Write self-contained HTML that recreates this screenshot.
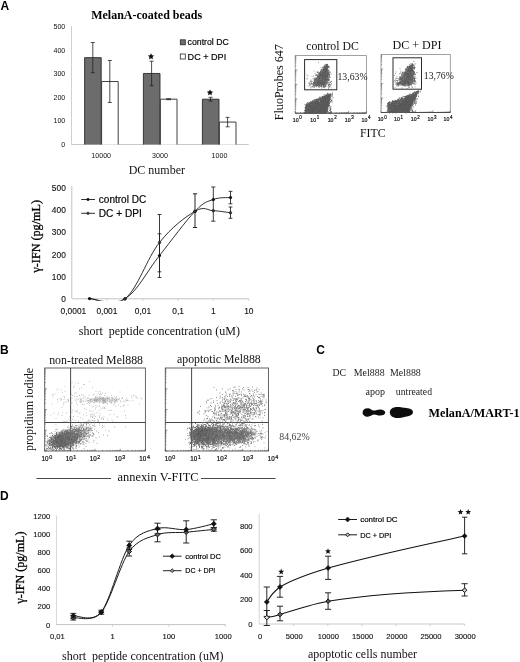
<!DOCTYPE html>
<html><head><meta charset="utf-8"><title>figure</title>
<style>
html,body{margin:0;padding:0;background:#fff;}
body{width:520px;height:662px;overflow:hidden;font-family:"Liberation Sans",sans-serif;}
svg{display:block;will-change:transform;filter:grayscale(1);}
</style></head><body>
<svg width="520" height="662" viewBox="0 0 520 662">
<rect width="520" height="662" fill="#fff"/>
<text x="0.6" y="10.4" font-family="Liberation Sans" font-weight="bold" font-size="12" fill="#000">A</text>
<text x="0.0" y="354" font-family="Liberation Sans" font-weight="bold" font-size="12" fill="#000">B</text>
<text x="316.3" y="354" font-family="Liberation Sans" font-weight="bold" font-size="12" fill="#000">C</text>
<text x="0.0" y="499.9" font-family="Liberation Sans" font-weight="bold" font-size="12" fill="#000">D</text>
<text x="91.20" y="19.49" font-weight="bold" textLength="111" lengthAdjust="spacingAndGlyphs" font-family="Liberation Serif" font-size="13" fill="#000">MelanA-coated beads</text>
<line x1="71.50" y1="26.00" x2="71.50" y2="144.50" stroke="#d0d0d0" stroke-width="1"/>
<line x1="71.50" y1="144.50" x2="248.70" y2="144.50" stroke="#c8c8c8" stroke-width="1"/>
<text x="65.30" y="146.94" text-anchor="end" font-family="Liberation Sans" font-size="7.1" fill="#111">0</text>
<text x="65.30" y="123.34" text-anchor="end" font-family="Liberation Sans" font-size="7.1" fill="#111">100</text>
<text x="65.30" y="99.74" text-anchor="end" font-family="Liberation Sans" font-size="7.1" fill="#111">200</text>
<text x="65.30" y="76.14" text-anchor="end" font-family="Liberation Sans" font-size="7.1" fill="#111">300</text>
<text x="65.30" y="52.54" text-anchor="end" font-family="Liberation Sans" font-size="7.1" fill="#111">400</text>
<text x="65.30" y="28.94" text-anchor="end" font-family="Liberation Sans" font-size="7.1" fill="#111">500</text>
<rect x="84.60" y="57.65" width="16.60" height="86.85" fill="#6c6c6c" stroke="none" stroke-width="0"/>
<path d="M84.60 144.50V57.65H101.20V144.50" fill="none" stroke="#2b2b2b" stroke-width="0.9"/>
<line x1="92.80" y1="42.55" x2="92.80" y2="72.76" stroke="#222" stroke-width="0.8"/>
<line x1="90.80" y1="42.55" x2="94.80" y2="42.55" stroke="#222" stroke-width="0.8"/>
<line x1="90.80" y1="72.76" x2="94.80" y2="72.76" stroke="#222" stroke-width="0.8"/>
<rect x="101.60" y="81.49" width="16.60" height="63.01" fill="#fff" stroke="none" stroke-width="0"/>
<path d="M101.60 144.50V81.49H118.20V144.50" fill="none" stroke="#2b2b2b" stroke-width="0.9"/>
<line x1="109.80" y1="60.48" x2="109.80" y2="102.49" stroke="#222" stroke-width="0.8"/>
<line x1="107.80" y1="60.48" x2="111.80" y2="60.48" stroke="#222" stroke-width="0.8"/>
<line x1="107.80" y1="102.49" x2="111.80" y2="102.49" stroke="#222" stroke-width="0.8"/>
<rect x="143.40" y="73.46" width="16.60" height="71.04" fill="#6c6c6c" stroke="none" stroke-width="0"/>
<path d="M143.40 144.50V73.46H160.00V144.50" fill="none" stroke="#2b2b2b" stroke-width="0.9"/>
<line x1="151.60" y1="61.19" x2="151.60" y2="85.74" stroke="#222" stroke-width="0.8"/>
<line x1="149.60" y1="61.19" x2="153.60" y2="61.19" stroke="#222" stroke-width="0.8"/>
<line x1="149.60" y1="85.74" x2="153.60" y2="85.74" stroke="#222" stroke-width="0.8"/>
<rect x="160.40" y="99.19" width="16.60" height="45.31" fill="#fff" stroke="none" stroke-width="0"/>
<path d="M160.40 144.50V99.19H177.00V144.50" fill="none" stroke="#2b2b2b" stroke-width="0.9"/>
<line x1="168.60" y1="98.72" x2="168.60" y2="99.66" stroke="#222" stroke-width="0.8"/>
<line x1="166.20" y1="98.72" x2="171.00" y2="98.72" stroke="#222" stroke-width="0.8"/>
<line x1="166.20" y1="99.66" x2="171.00" y2="99.66" stroke="#222" stroke-width="0.8"/>
<rect x="202.40" y="99.19" width="16.60" height="45.31" fill="#6c6c6c" stroke="none" stroke-width="0"/>
<path d="M202.40 144.50V99.19H219.00V144.50" fill="none" stroke="#2b2b2b" stroke-width="0.9"/>
<line x1="210.60" y1="97.30" x2="210.60" y2="101.08" stroke="#222" stroke-width="0.8"/>
<line x1="208.60" y1="97.30" x2="212.60" y2="97.30" stroke="#222" stroke-width="0.8"/>
<line x1="208.60" y1="101.08" x2="212.60" y2="101.08" stroke="#222" stroke-width="0.8"/>
<rect x="219.40" y="122.08" width="16.60" height="22.42" fill="#fff" stroke="none" stroke-width="0"/>
<path d="M219.40 144.50V122.08H236.00V144.50" fill="none" stroke="#2b2b2b" stroke-width="0.9"/>
<line x1="227.60" y1="117.36" x2="227.60" y2="126.80" stroke="#222" stroke-width="0.8"/>
<line x1="225.60" y1="117.36" x2="229.60" y2="117.36" stroke="#222" stroke-width="0.8"/>
<line x1="225.60" y1="126.80" x2="229.60" y2="126.80" stroke="#222" stroke-width="0.8"/>
<text x="101.20" y="157.74" text-anchor="middle" font-family="Liberation Sans" font-size="7.1" fill="#111">10000</text>
<text x="160.00" y="157.74" text-anchor="middle" font-family="Liberation Sans" font-size="7.1" fill="#111">3000</text>
<text x="219.50" y="157.74" text-anchor="middle" font-family="Liberation Sans" font-size="7.1" fill="#111">1000</text>
<polygon points="151.00,53.30 151.97,55.27 154.14,55.58 152.57,57.11 152.94,59.27 151.00,58.25 149.06,59.27 149.43,57.11 147.86,55.58 150.03,55.27" fill="#111"/>
<polygon points="210.00,89.40 210.97,91.37 213.14,91.68 211.57,93.21 211.94,95.37 210.00,94.35 208.06,95.37 208.43,93.21 206.86,91.68 209.03,91.37" fill="#111"/>
<rect x="180.30" y="39.80" width="5.00" height="5.00" fill="#6e6e6e" stroke="#2b2b2b" stroke-width="0.8"/>
<rect x="180.30" y="54.00" width="5.00" height="5.00" fill="#fff" stroke="#2b2b2b" stroke-width="0.8"/>
<text x="187.60" y="45.40" textLength="41.2" lengthAdjust="spacingAndGlyphs" font-family="Liberation Sans" font-size="9.5" fill="#000" stroke="#000" stroke-width="0.18">control DC</text>
<text x="187.60" y="59.90" textLength="38.6" lengthAdjust="spacingAndGlyphs" font-family="Liberation Sans" font-size="9.5" fill="#000" stroke="#000" stroke-width="0.18">DC + DPI</text>
<text x="128.70" y="174.49" textLength="56.3" lengthAdjust="spacingAndGlyphs" font-family="Liberation Serif" font-size="13" fill="#111">DC number</text>
<rect x="295.20" y="55.60" width="71.20" height="57.60" fill="none" stroke="#8a8a8a" stroke-width="0.8"/>
<line x1="295.20" y1="113.20" x2="366.40" y2="113.20" stroke="#444" stroke-width="0.9"/>
<line x1="295.20" y1="113.20" x2="295.20" y2="111.00" stroke="#444" stroke-width="0.5"/>
<line x1="300.56" y1="113.20" x2="300.56" y2="112.10" stroke="#444" stroke-width="0.5"/>
<line x1="303.69" y1="113.20" x2="303.69" y2="112.10" stroke="#444" stroke-width="0.5"/>
<line x1="305.92" y1="113.20" x2="305.92" y2="112.10" stroke="#444" stroke-width="0.5"/>
<line x1="307.64" y1="113.20" x2="307.64" y2="112.10" stroke="#444" stroke-width="0.5"/>
<line x1="309.05" y1="113.20" x2="309.05" y2="112.10" stroke="#444" stroke-width="0.5"/>
<line x1="310.24" y1="113.20" x2="310.24" y2="112.10" stroke="#444" stroke-width="0.5"/>
<line x1="311.28" y1="113.20" x2="311.28" y2="112.10" stroke="#444" stroke-width="0.5"/>
<line x1="312.19" y1="113.20" x2="312.19" y2="112.10" stroke="#444" stroke-width="0.5"/>
<line x1="313.00" y1="113.20" x2="313.00" y2="111.00" stroke="#444" stroke-width="0.5"/>
<line x1="318.36" y1="113.20" x2="318.36" y2="112.10" stroke="#444" stroke-width="0.5"/>
<line x1="321.49" y1="113.20" x2="321.49" y2="112.10" stroke="#444" stroke-width="0.5"/>
<line x1="323.72" y1="113.20" x2="323.72" y2="112.10" stroke="#444" stroke-width="0.5"/>
<line x1="325.44" y1="113.20" x2="325.44" y2="112.10" stroke="#444" stroke-width="0.5"/>
<line x1="326.85" y1="113.20" x2="326.85" y2="112.10" stroke="#444" stroke-width="0.5"/>
<line x1="328.04" y1="113.20" x2="328.04" y2="112.10" stroke="#444" stroke-width="0.5"/>
<line x1="329.08" y1="113.20" x2="329.08" y2="112.10" stroke="#444" stroke-width="0.5"/>
<line x1="329.99" y1="113.20" x2="329.99" y2="112.10" stroke="#444" stroke-width="0.5"/>
<line x1="330.80" y1="113.20" x2="330.80" y2="111.00" stroke="#444" stroke-width="0.5"/>
<line x1="336.16" y1="113.20" x2="336.16" y2="112.10" stroke="#444" stroke-width="0.5"/>
<line x1="339.29" y1="113.20" x2="339.29" y2="112.10" stroke="#444" stroke-width="0.5"/>
<line x1="341.52" y1="113.20" x2="341.52" y2="112.10" stroke="#444" stroke-width="0.5"/>
<line x1="343.24" y1="113.20" x2="343.24" y2="112.10" stroke="#444" stroke-width="0.5"/>
<line x1="344.65" y1="113.20" x2="344.65" y2="112.10" stroke="#444" stroke-width="0.5"/>
<line x1="345.84" y1="113.20" x2="345.84" y2="112.10" stroke="#444" stroke-width="0.5"/>
<line x1="346.88" y1="113.20" x2="346.88" y2="112.10" stroke="#444" stroke-width="0.5"/>
<line x1="347.79" y1="113.20" x2="347.79" y2="112.10" stroke="#444" stroke-width="0.5"/>
<line x1="348.60" y1="113.20" x2="348.60" y2="111.00" stroke="#444" stroke-width="0.5"/>
<line x1="353.96" y1="113.20" x2="353.96" y2="112.10" stroke="#444" stroke-width="0.5"/>
<line x1="357.09" y1="113.20" x2="357.09" y2="112.10" stroke="#444" stroke-width="0.5"/>
<line x1="359.32" y1="113.20" x2="359.32" y2="112.10" stroke="#444" stroke-width="0.5"/>
<line x1="361.04" y1="113.20" x2="361.04" y2="112.10" stroke="#444" stroke-width="0.5"/>
<line x1="362.45" y1="113.20" x2="362.45" y2="112.10" stroke="#444" stroke-width="0.5"/>
<line x1="363.64" y1="113.20" x2="363.64" y2="112.10" stroke="#444" stroke-width="0.5"/>
<line x1="364.68" y1="113.20" x2="364.68" y2="112.10" stroke="#444" stroke-width="0.5"/>
<line x1="365.59" y1="113.20" x2="365.59" y2="112.10" stroke="#444" stroke-width="0.5"/>
<line x1="366.40" y1="113.20" x2="366.40" y2="111.00" stroke="#444" stroke-width="0.5"/>
<line x1="295.20" y1="113.20" x2="297.40" y2="113.20" stroke="#444" stroke-width="0.5"/>
<line x1="295.20" y1="108.87" x2="296.30" y2="108.87" stroke="#444" stroke-width="0.5"/>
<line x1="295.20" y1="106.33" x2="296.30" y2="106.33" stroke="#444" stroke-width="0.5"/>
<line x1="295.20" y1="104.53" x2="296.30" y2="104.53" stroke="#444" stroke-width="0.5"/>
<line x1="295.20" y1="103.13" x2="296.30" y2="103.13" stroke="#444" stroke-width="0.5"/>
<line x1="295.20" y1="101.99" x2="296.30" y2="101.99" stroke="#444" stroke-width="0.5"/>
<line x1="295.20" y1="101.03" x2="296.30" y2="101.03" stroke="#444" stroke-width="0.5"/>
<line x1="295.20" y1="100.20" x2="296.30" y2="100.20" stroke="#444" stroke-width="0.5"/>
<line x1="295.20" y1="99.46" x2="296.30" y2="99.46" stroke="#444" stroke-width="0.5"/>
<line x1="295.20" y1="98.80" x2="297.40" y2="98.80" stroke="#444" stroke-width="0.5"/>
<line x1="295.20" y1="94.47" x2="296.30" y2="94.47" stroke="#444" stroke-width="0.5"/>
<line x1="295.20" y1="91.93" x2="296.30" y2="91.93" stroke="#444" stroke-width="0.5"/>
<line x1="295.20" y1="90.13" x2="296.30" y2="90.13" stroke="#444" stroke-width="0.5"/>
<line x1="295.20" y1="88.73" x2="296.30" y2="88.73" stroke="#444" stroke-width="0.5"/>
<line x1="295.20" y1="87.59" x2="296.30" y2="87.59" stroke="#444" stroke-width="0.5"/>
<line x1="295.20" y1="86.63" x2="296.30" y2="86.63" stroke="#444" stroke-width="0.5"/>
<line x1="295.20" y1="85.80" x2="296.30" y2="85.80" stroke="#444" stroke-width="0.5"/>
<line x1="295.20" y1="85.06" x2="296.30" y2="85.06" stroke="#444" stroke-width="0.5"/>
<line x1="295.20" y1="84.40" x2="297.40" y2="84.40" stroke="#444" stroke-width="0.5"/>
<line x1="295.20" y1="80.07" x2="296.30" y2="80.07" stroke="#444" stroke-width="0.5"/>
<line x1="295.20" y1="77.53" x2="296.30" y2="77.53" stroke="#444" stroke-width="0.5"/>
<line x1="295.20" y1="75.73" x2="296.30" y2="75.73" stroke="#444" stroke-width="0.5"/>
<line x1="295.20" y1="74.33" x2="296.30" y2="74.33" stroke="#444" stroke-width="0.5"/>
<line x1="295.20" y1="73.19" x2="296.30" y2="73.19" stroke="#444" stroke-width="0.5"/>
<line x1="295.20" y1="72.23" x2="296.30" y2="72.23" stroke="#444" stroke-width="0.5"/>
<line x1="295.20" y1="71.40" x2="296.30" y2="71.40" stroke="#444" stroke-width="0.5"/>
<line x1="295.20" y1="70.66" x2="296.30" y2="70.66" stroke="#444" stroke-width="0.5"/>
<line x1="295.20" y1="70.00" x2="297.40" y2="70.00" stroke="#444" stroke-width="0.5"/>
<line x1="295.20" y1="65.67" x2="296.30" y2="65.67" stroke="#444" stroke-width="0.5"/>
<line x1="295.20" y1="63.13" x2="296.30" y2="63.13" stroke="#444" stroke-width="0.5"/>
<line x1="295.20" y1="61.33" x2="296.30" y2="61.33" stroke="#444" stroke-width="0.5"/>
<line x1="295.20" y1="59.93" x2="296.30" y2="59.93" stroke="#444" stroke-width="0.5"/>
<line x1="295.20" y1="58.79" x2="296.30" y2="58.79" stroke="#444" stroke-width="0.5"/>
<line x1="295.20" y1="57.83" x2="296.30" y2="57.83" stroke="#444" stroke-width="0.5"/>
<line x1="295.20" y1="57.00" x2="296.30" y2="57.00" stroke="#444" stroke-width="0.5"/>
<line x1="295.20" y1="56.26" x2="296.30" y2="56.26" stroke="#444" stroke-width="0.5"/>
<path d="m332 92.95h1m-6 0.5h1m-0.5 0h1m1 0.5h1m-0.5 0h1m0.5 0h1m-6 0.5h1m0.5 0h1m-0.5 0h1m-0.5 0h1m-0.5 0h1m-7 0.5h1m0 0h1m0.5 0h1m-0.5 0h1m-0.5 0h1m0 0h1m-0.5 0h1m-0.5 0h1m0 0h1m-0.5 0h1m0 0h1m-0.5 0h1m-7.5 0.5h1m-0.5 0h1m-0.5 0h1m0 0h1m-0.5 0h1m-0.5 0h1m0 0h1m-0.5 0h1m-6.5 0.5h1m-0.5 0h1m-0.5 0h1m-0.5 0h1m-0.5 0h1m-0.5 0h1m-0.5 0h1m-0.5 0h1m-0.5 0h1m-0.5 0h1m-0.5 0h1m-0.5 0h1m-0.5 0h1m-9.5 0.5h1m-0.5 0h1m0 0h1m-0.5 0h1m-0.5 0h1m-0.5 0h1m-0.5 0h1m-0.5 0h1m-0.5 0h1m-0.5 0h1m-0.5 0h1m-0.5 0h1m-0.5 0h1m-0.5 0h1m1.5 0h1m-13 0.5h1m1 0h1m-0.5 0h1m0 0h1m-0.5 0h1m-0.5 0h1m0 0h1m0 0h1m-0.5 0h1m0 0h1m-0.5 0h1m-0.5 0h1m-0.5 0h1m-0.5 0h1m-0.5 0h1m-9.5 0.5h1m-0.5 0h1m-0.5 0h1m-0.5 0h1m-0.5 0h1m-0.5 0h1m0 0h1m-0.5 0h1m-0.5 0h1m-0.5 0h1m-0.5 0h1m-0.5 0h1m-0.5 0h1m-0.5 0h1m-0.5 0h1m-0.5 0h1m-12 0.5h1m-0.5 0h1m0 0h1m-0.5 0h1m0 0h1m-0.5 0h1m-0.5 0h1m0 0h1m-0.5 0h1m-0.5 0h1m-0.5 0h1m-0.5 0h1m-0.5 0h1m-0.5 0h1m-0.5 0h1m-0.5 0h1m-0.5 0h1m-0.5 0h1m-0.5 0h1m-0.5 0h1m2 0h1m-14 0.5h1m-0.5 0h1m0 0h1m-0.5 0h1m-0.5 0h1m-0.5 0h1m0 0h1m-0.5 0h1m-0.5 0h1m-0.5 0h1m0 0h1m-0.5 0h1m-0.5 0h1m-0.5 0h1m-0.5 0h1m-0.5 0h1m0 0h1m-14 0.5h1m0.5 0h1m-0.5 0h1m-0.5 0h1m-0.5 0h1m-0.5 0h1m1 0h1m-0.5 0h1m-0.5 0h1m-0.5 0h1m-0.5 0h1m-0.5 0h1m-0.5 0h1m-0.5 0h1m-0.5 0h1m-0.5 0h1m-0.5 0h1m0 0h1m-0.5 0h1m-0.5 0h1m-0.5 0h1m0 0h1m-17 0.5h1m0.5 0h1m-0.5 0h1m-0.5 0h1m-0.5 0h1m0 0h1m0 0h1m-0.5 0h1m0 0h1m0 0h1m-0.5 0h1m-0.5 0h1m-0.5 0h1m-0.5 0h1m-0.5 0h1m-0.5 0h1m0.5 0h1m-0.5 0h1m-0.5 0h1m0 0h1m-0.5 0h1m0 0h1m-17.5 0.5h1m0.5 0h1m-0.5 0h1m-0.5 0h1m-0.5 0h1m-0.5 0h1m-0.5 0h1m-0.5 0h1m-0.5 0h1m-0.5 0h1m0 0h1m-0.5 0h1m0 0h1m0 0h1m-0.5 0h1m-0.5 0h1m0 0h1m-0.5 0h1m-0.5 0h1m0 0h1m0 0h1m-0.5 0h1m-0.5 0h1m-0.5 0h1m-16.5 0.5h1m0 0h1m-0.5 0h1m-0.5 0h1m-0.5 0h1m-0.5 0h1m0.5 0h1m0.5 0h1m-0.5 0h1m-0.5 0h1m-0.5 0h1m-0.5 0h1m-0.5 0h1m-0.5 0h1m-0.5 0h1m-0.5 0h1m-0.5 0h1m-0.5 0h1m-0.5 0h1m-0.5 0h1m-0.5 0h1m-0.5 0h1m-0.5 0h1m0 0h1m-0.5 0h1m-0.5 0h1m1 0h1m-0.5 0h1m-20.5 0.5h1m-0.5 0h1m1 0h1m0.5 0h1m-0.5 0h1m0.5 0h1m-0.5 0h1m1 0h1m-0.5 0h1m0 0h1m-0.5 0h1m-0.5 0h1m-0.5 0h1m-0.5 0h1m-0.5 0h1m-0.5 0h1m-0.5 0h1m-0.5 0h1m-0.5 0h1m-0.5 0h1m-0.5 0h1m-0.5 0h1m-0.5 0h1m-0.5 0h1m-0.5 0h1m-18.5 0.5h1m-0.5 0h1m0 0h1m-0.5 0h1m-0.5 0h1m0 0h1m-0.5 0h1m-0.5 0h1m-0.5 0h1m-0.5 0h1m-0.5 0h1m1 0h1m-0.5 0h1m-0.5 0h1m-0.5 0h1m-0.5 0h1m-0.5 0h1m-0.5 0h1m-0.5 0h1m-0.5 0h1m0 0h1m-0.5 0h1m-0.5 0h1m-0.5 0h1m-0.5 0h1m-0.5 0h1m-0.5 0h1m0.5 0h1m0 0h1m-21.5 0.5h1m-0.5 0h1m-0.5 0h1m-0.5 0h1m-0.5 0h1m-0.5 0h1m0 0h1m-0.5 0h1m0 0h1m-0.5 0h1m-0.5 0h1m-0.5 0h1m-0.5 0h1m-0.5 0h1m-0.5 0h1m-0.5 0h1m-0.5 0h1m0 0h1m-0.5 0h1m-0.5 0h1m-0.5 0h1m-0.5 0h1m-0.5 0h1m-0.5 0h1m-0.5 0h1m0 0h1m-0.5 0h1m0.5 0h1m-0.5 0h1m-0.5 0h1m-0.5 0h1m-0.5 0h1m2 0h1m-25 0.5h1m1 0h1m0 0h1m0 0h1m0 0h1m-0.5 0h1m-0.5 0h1m-0.5 0h1m-0.5 0h1m-0.5 0h1m-0.5 0h1m-0.5 0h1m-0.5 0h1m-0.5 0h1m0.5 0h1m-0.5 0h1m-0.5 0h1m-0.5 0h1m-0.5 0h1m-0.5 0h1m-0.5 0h1m-0.5 0h1m-0.5 0h1m-0.5 0h1m-0.5 0h1m-0.5 0h1m-0.5 0h1m-0.5 0h1m-0.5 0h1m-0.5 0h1m-0.5 0h1m-0.5 0h1m-0.5 0h1m-0.5 0h1m-0.5 0h1m0 0h1m-23.5 0.5h1m1 0h1m-0.5 0h1m-0.5 0h1m0 0h1m-0.5 0h1m-0.5 0h1m0 0h1m-0.5 0h1m-0.5 0h1m-0.5 0h1m-0.5 0h1m-0.5 0h1m-0.5 0h1m-0.5 0h1m-0.5 0h1m-0.5 0h1m-0.5 0h1m-0.5 0h1m-0.5 0h1m-0.5 0h1m-0.5 0h1m-0.5 0h1m-0.5 0h1m-0.5 0h1m-0.5 0h1m0 0h1m-0.5 0h1m-0.5 0h1m-0.5 0h1m-0.5 0h1m-0.5 0h1m-0.5 0h1m-0.5 0h1m-0.5 0h1m-0.5 0h1m-0.5 0h1m-0.5 0h1m-21.5 0.5h1m0 0h1m-0.5 0h1m-0.5 0h1m-0.5 0h1m-0.5 0h1m-0.5 0h1m-0.5 0h1m0 0h1m-0.5 0h1m-0.5 0h1m-0.5 0h1m-0.5 0h1m-0.5 0h1m-0.5 0h1m-0.5 0h1m-0.5 0h1m0 0h1m-0.5 0h1m-0.5 0h1m-0.5 0h1m0 0h1m-0.5 0h1m-0.5 0h1m-0.5 0h1m-0.5 0h1m0 0h1m-0.5 0h1m-0.5 0h1m-0.5 0h1m-0.5 0h1m-0.5 0h1m-0.5 0h1m-0.5 0h1m-0.5 0h1m0 0h1m-0.5 0h1m-24 0.5h1m-0.5 0h1m0 0h1m0 0h1m-0.5 0h1m-0.5 0h1m-0.5 0h1m-0.5 0h1m-0.5 0h1m-0.5 0h1m-0.5 0h1m-0.5 0h1m-0.5 0h1m-0.5 0h1m0.5 0h1m-0.5 0h1m-0.5 0h1m-0.5 0h1m-0.5 0h1m-0.5 0h1m-0.5 0h1m-0.5 0h1m-0.5 0h1m-0.5 0h1m0 0h1m0 0h1m-0.5 0h1m-0.5 0h1m-0.5 0h1m-0.5 0h1m-0.5 0h1m1 0h1m-0.5 0h1m-0.5 0h1m-0.5 0h1m-0.5 0h1m-0.5 0h1m-25 0.5h1m0.5 0h1m-0.5 0h1m0 0h1m0 0h1m-0.5 0h1m-0.5 0h1m-0.5 0h1m0.5 0h1m-0.5 0h1m-0.5 0h1m-0.5 0h1m-0.5 0h1m0 0h1m-0.5 0h1m-0.5 0h1m-0.5 0h1m-0.5 0h1m-0.5 0h1m-0.5 0h1m-0.5 0h1m-0.5 0h1m-0.5 0h1m-0.5 0h1m-0.5 0h1m-0.5 0h1m-0.5 0h1m-0.5 0h1m0 0h1m-0.5 0h1m-0.5 0h1m-0.5 0h1m-0.5 0h1m-0.5 0h1m0 0h1m-0.5 0h1m-0.5 0h1m-0.5 0h1m-0.5 0h1m-0.5 0h1m-23.5 0.5h1m-0.5 0h1m-0.5 0h1m-0.5 0h1m-0.5 0h1m0 0h1m0 0h1m-0.5 0h1m-0.5 0h1m0 0h1m0 0h1m-0.5 0h1m-0.5 0h1m-0.5 0h1m-0.5 0h1m0 0h1m0 0h1m-0.5 0h1m-0.5 0h1m-0.5 0h1m-0.5 0h1m-0.5 0h1m-0.5 0h1m-0.5 0h1m-0.5 0h1m-0.5 0h1m-0.5 0h1m-0.5 0h1m-0.5 0h1m-0.5 0h1m-0.5 0h1m-0.5 0h1m-0.5 0h1m-0.5 0h1m-0.5 0h1m0 0h1m-0.5 0h1m-0.5 0h1m-23 0.5h1m-0.5 0h1m-0.5 0h1m-0.5 0h1m-0.5 0h1m-0.5 0h1m-0.5 0h1m-0.5 0h1m-0.5 0h1m-0.5 0h1m0 0h1m0 0h1m-0.5 0h1m-0.5 0h1m0 0h1m-0.5 0h1m-0.5 0h1m-0.5 0h1m-0.5 0h1m-0.5 0h1m-0.5 0h1m-0.5 0h1m-0.5 0h1m-0.5 0h1m-0.5 0h1m-0.5 0h1m-0.5 0h1m-0.5 0h1m-0.5 0h1m-0.5 0h1m-0.5 0h1m-0.5 0h1m-0.5 0h1m-0.5 0h1m-0.5 0h1m-0.5 0h1m0 0h1m-0.5 0h1m-0.5 0h1m-0.5 0h1m-0.5 0h1m0 0h1m-25 0.5h1m-0.5 0h1m-0.5 0h1m-0.5 0h1m-0.5 0h1m-0.5 0h1m-0.5 0h1m-0.5 0h1m-0.5 0h1m-0.5 0h1m-0.5 0h1m-0.5 0h1m-0.5 0h1m-0.5 0h1m-0.5 0h1m-0.5 0h1m-0.5 0h1m-0.5 0h1m-0.5 0h1m-0.5 0h1m0 0h1m-0.5 0h1m-0.5 0h1m-0.5 0h1m-0.5 0h1m-0.5 0h1m0 0h1m-0.5 0h1m-0.5 0h1m-0.5 0h1m0 0h1m-0.5 0h1m-0.5 0h1m-0.5 0h1m-0.5 0h1m-0.5 0h1m-0.5 0h1m-0.5 0h1m-0.5 0h1m-0.5 0h1m-0.5 0h1m-0.5 0h1m-0.5 0h1m-0.5 0h1m-0.5 0h1m-0.5 0h1m-24.5 0.5h1m-0.5 0h1m-0.5 0h1m-0.5 0h1m-0.5 0h1m-0.5 0h1m-0.5 0h1m-0.5 0h1m-0.5 0h1m-0.5 0h1m-0.5 0h1m-0.5 0h1m-0.5 0h1m-0.5 0h1m-0.5 0h1m-0.5 0h1m-0.5 0h1m-0.5 0h1m0 0h1m-0.5 0h1m-0.5 0h1m-0.5 0h1m0 0h1m-0.5 0h1m-0.5 0h1m-0.5 0h1m0 0h1m-0.5 0h1m-0.5 0h1m-0.5 0h1m-0.5 0h1m-0.5 0h1m0 0h1m-0.5 0h1m-0.5 0h1m-0.5 0h1m-0.5 0h1m-0.5 0h1m-0.5 0h1m-0.5 0h1m-0.5 0h1m2 0h1m-25.5 0.5h1m-0.5 0h1m-0.5 0h1m0 0h1m0 0h1m-0.5 0h1m-0.5 0h1m-0.5 0h1m-0.5 0h1m-0.5 0h1m-0.5 0h1m-0.5 0h1m-0.5 0h1m-0.5 0h1m-0.5 0h1m-0.5 0h1m0 0h1m-0.5 0h1m-0.5 0h1m-0.5 0h1m-0.5 0h1m-0.5 0h1m-0.5 0h1m0 0h1m-0.5 0h1m-0.5 0h1m-0.5 0h1m-0.5 0h1m-0.5 0h1m-0.5 0h1m-0.5 0h1m-0.5 0h1m-0.5 0h1m-0.5 0h1m-0.5 0h1m-0.5 0h1m-0.5 0h1m-0.5 0h1m-0.5 0h1m-0.5 0h1m-23.5 0.5h1m-0.5 0h1m-0.5 0h1m1 0h1m0 0h1m-0.5 0h1m-0.5 0h1m-0.5 0h1m-0.5 0h1m-0.5 0h1m-0.5 0h1m-0.5 0h1m-0.5 0h1m-0.5 0h1m-0.5 0h1m-0.5 0h1m-0.5 0h1m-0.5 0h1m-0.5 0h1m-0.5 0h1m-0.5 0h1m-0.5 0h1m0 0h1m-0.5 0h1m-0.5 0h1m-0.5 0h1m-0.5 0h1m0 0h1m-0.5 0h1m-0.5 0h1m-0.5 0h1m-0.5 0h1m-0.5 0h1m-0.5 0h1m-0.5 0h1m-0.5 0h1m-0.5 0h1m-0.5 0h1m-23 0.5h1m-0.5 0h1m0.5 0h1m-0.5 0h1m0 0h1m-0.5 0h1m-0.5 0h1m-0.5 0h1m-0.5 0h1m0 0h1m-0.5 0h1m0 0h1m-0.5 0h1m-0.5 0h1m0 0h1m-0.5 0h1m-0.5 0h1m-0.5 0h1m-0.5 0h1m-0.5 0h1m-0.5 0h1m-0.5 0h1m-0.5 0h1m-0.5 0h1m-0.5 0h1m-0.5 0h1m-0.5 0h1m-0.5 0h1m-0.5 0h1m-0.5 0h1m-0.5 0h1m-0.5 0h1m-0.5 0h1m-0.5 0h1m-0.5 0h1m-0.5 0h1m-0.5 0h1m-0.5 0h1m-0.5 0h1m-0.5 0h1m-0.5 0h1m0.5 0h1m0 0h1m-25.5 0.5h1m-0.5 0h1m-0.5 0h1m-0.5 0h1m-0.5 0h1m-0.5 0h1m1 0h1m0 0h1m-0.5 0h1m-0.5 0h1m-0.5 0h1m-0.5 0h1m-0.5 0h1m-0.5 0h1m0 0h1m-0.5 0h1m-0.5 0h1m-0.5 0h1m0 0h1m-0.5 0h1m0 0h1m-0.5 0h1m-0.5 0h1m-0.5 0h1m-0.5 0h1m-0.5 0h1m-0.5 0h1m-0.5 0h1m-0.5 0h1m-0.5 0h1m-0.5 0h1m-0.5 0h1m-0.5 0h1m-0.5 0h1m-0.5 0h1m0 0h1m2 0h1m-26 0.5h1m-0.5 0h1m0 0h1m-0.5 0h1m-0.5 0h1m-0.5 0h1m-0.5 0h1m-0.5 0h1m-0.5 0h1m-0.5 0h1m-0.5 0h1m-0.5 0h1m-0.5 0h1m-0.5 0h1m0 0h1m-0.5 0h1m-0.5 0h1m-0.5 0h1m-0.5 0h1m-0.5 0h1m-0.5 0h1m-0.5 0h1m-0.5 0h1m-0.5 0h1m-0.5 0h1m-0.5 0h1m-0.5 0h1m-0.5 0h1m-0.5 0h1m-0.5 0h1m0 0h1m-0.5 0h1m-0.5 0h1m-0.5 0h1m-0.5 0h1m-0.5 0h1m-0.5 0h1m-0.5 0h1m-0.5 0h1m-0.5 0h1m-0.5 0h1m-0.5 0h1m2.5 0h1m-26.5 0.5h1m0 0h1m-0.5 0h1m-0.5 0h1m-0.5 0h1m-0.5 0h1m-0.5 0h1m-0.5 0h1m-0.5 0h1m-0.5 0h1m-0.5 0h1m-0.5 0h1m-0.5 0h1m-0.5 0h1m-0.5 0h1m-0.5 0h1m-0.5 0h1m-0.5 0h1m-0.5 0h1m-0.5 0h1m-0.5 0h1m-0.5 0h1m-0.5 0h1m0 0h1m-0.5 0h1m-0.5 0h1m-0.5 0h1m-0.5 0h1m-0.5 0h1m-0.5 0h1m-0.5 0h1m-0.5 0h1m-0.5 0h1m-0.5 0h1m-0.5 0h1m-0.5 0h1m-0.5 0h1m-0.5 0h1m-0.5 0h1m-0.5 0h1m0 0h1m0 0h1m1.5 0h1m-26 0.5h1m-0.5 0h1m-0.5 0h1m-0.5 0h1m-0.5 0h1m-0.5 0h1m0 0h1m-0.5 0h1m0 0h1m0 0h1m-0.5 0h1m-0.5 0h1m-0.5 0h1m-0.5 0h1m-0.5 0h1m-0.5 0h1m-0.5 0h1m-0.5 0h1m0 0h1m-0.5 0h1m-0.5 0h1m-0.5 0h1m-0.5 0h1m-0.5 0h1m-0.5 0h1m-0.5 0h1m-0.5 0h1m-0.5 0h1m-0.5 0h1m0 0h1m-0.5 0h1m-0.5 0h1m-0.5 0h1m-0.5 0h1m-0.5 0h1m-0.5 0h1m-0.5 0h1m-0.5 0h1m-0.5 0h1m-0.5 0h1m2 0h1m-27 0.5h1m0 0h1m-0.5 0h1m-0.5 0h1m-0.5 0h1m-0.5 0h1m-0.5 0h1m-0.5 0h1m-0.5 0h1m-0.5 0h1m-0.5 0h1m-0.5 0h1m-0.5 0h1m0 0h1m-0.5 0h1m-0.5 0h1m-0.5 0h1m-0.5 0h1m-0.5 0h1m-0.5 0h1m0.5 0h1m-0.5 0h1m-0.5 0h1m-0.5 0h1m-0.5 0h1m-0.5 0h1m-0.5 0h1m-0.5 0h1m-0.5 0h1m-0.5 0h1m-0.5 0h1m-0.5 0h1m-0.5 0h1m-0.5 0h1m0 0h1m-0.5 0h1m-0.5 0h1m-0.5 0h1m0.5 0h1m-0.5 0h1m1 0h1m-25 0.5h1m-0.5 0h1m-0.5 0h1m-0.5 0h1m-0.5 0h1m-0.5 0h1m-0.5 0h1m-0.5 0h1m0 0h1m-0.5 0h1m-0.5 0h1m-0.5 0h1m-0.5 0h1m-0.5 0h1m-0.5 0h1m-0.5 0h1m-0.5 0h1m-0.5 0h1m-0.5 0h1m-0.5 0h1m-0.5 0h1m-0.5 0h1m-0.5 0h1m-0.5 0h1m-0.5 0h1m-0.5 0h1m-0.5 0h1m-0.5 0h1m-0.5 0h1m0 0h1m-0.5 0h1m-0.5 0h1m-0.5 0h1m-0.5 0h1m-0.5 0h1m-0.5 0h1m-0.5 0h1m-0.5 0h1m-0.5 0h1m-0.5 0h1m-0.5 0h1m0 0h1m2 0h1m-26 0.5h1m-0.5 0h1m-0.5 0h1m-0.5 0h1m0 0h1m-0.5 0h1m-0.5 0h1m0 0h1m-0.5 0h1m-0.5 0h1m-0.5 0h1m-0.5 0h1m-0.5 0h1m-0.5 0h1m-0.5 0h1m-0.5 0h1m-0.5 0h1m-0.5 0h1m0 0h1m-0.5 0h1m-0.5 0h1m-0.5 0h1m-0.5 0h1m-0.5 0h1m-0.5 0h1m-0.5 0h1m-0.5 0h1m-0.5 0h1m-0.5 0h1m-0.5 0h1m-0.5 0h1m-0.5 0h1m-0.5 0h1m-0.5 0h1m-0.5 0h1m-0.5 0h1m-0.5 0h1m-0.5 0h1m-0.5 0h1m-0.5 0h1m0 0h1m-23.5 0.5h1m0 0h1m-0.5 0h1m-0.5 0h1m0.5 0h1m-0.5 0h1m-0.5 0h1m-0.5 0h1m-0.5 0h1m0 0h1m-0.5 0h1m-0.5 0h1m-0.5 0h1m-0.5 0h1m-0.5 0h1m-0.5 0h1m-0.5 0h1m-0.5 0h1m0.5 0h1m-0.5 0h1m0 0h1m-0.5 0h1m-0.5 0h1m-0.5 0h1m-0.5 0h1m-0.5 0h1m-0.5 0h1m-0.5 0h1m-0.5 0h1m-0.5 0h1m-0.5 0h1m-0.5 0h1m-0.5 0h1m-0.5 0h1m-0.5 0h1m-0.5 0h1m-0.5 0h1m-0.5 0h1m0.5 0h1m1.5 0h1m-0.5 0h1m-28 0.5h1m-0.5 0h1m-0.5 0h1m0 0h1m0 0h1m-0.5 0h1m-0.5 0h1m-0.5 0h1m-0.5 0h1m-0.5 0h1m-0.5 0h1m-0.5 0h1m-0.5 0h1m-0.5 0h1m-0.5 0h1m-0.5 0h1m-0.5 0h1m-0.5 0h1m-0.5 0h1m-0.5 0h1m-0.5 0h1m-0.5 0h1m-0.5 0h1m-0.5 0h1m-0.5 0h1m-0.5 0h1m-0.5 0h1m-0.5 0h1m-0.5 0h1m-0.5 0h1m-0.5 0h1m-0.5 0h1m-0.5 0h1m-0.5 0h1m0 0h1m-0.5 0h1m-0.5 0h1m-0.5 0h1m-0.5 0h1m-0.5 0h1m-0.5 0h1m-0.5 0h1m-23 0.5h1m0 0h1m-0.5 0h1m0 0h1m-0.5 0h1m-0.5 0h1m0 0h1m-0.5 0h1m-0.5 0h1m-0.5 0h1m-0.5 0h1m-0.5 0h1m-0.5 0h1m-0.5 0h1m-0.5 0h1m-0.5 0h1m-0.5 0h1m0 0h1m-0.5 0h1m-0.5 0h1m-0.5 0h1m-0.5 0h1m-0.5 0h1m-0.5 0h1m-0.5 0h1m-0.5 0h1m-0.5 0h1m-0.5 0h1m-0.5 0h1m-0.5 0h1m-0.5 0h1m-0.5 0h1m-0.5 0h1m-0.5 0h1m-0.5 0h1m-0.5 0h1m-0.5 0h1m-0.5 0h1m-0.5 0h1m-0.5 0h1m-0.5 0h1m2 0h1m0 0h1m-0.5 0h1m-0.5 0h1m-27.5 0.5h1m0.5 0h1m0.5 0h1m-0.5 0h1m-0.5 0h1m-0.5 0h1m-0.5 0h1m-0.5 0h1m-0.5 0h1m-0.5 0h1m0.5 0h1m-0.5 0h1m0 0h1m0 0h1m0.5 0h1m-0.5 0h1m-0.5 0h1m0.5 0h1m0 0h1m-0.5 0h1m-0.5 0h1m0 0h1m-0.5 0h1m0 0h1m-0.5 0h1m-0.5 0h1m-0.5 0h1m3.5 0h1m0.5 0h1" fill="none" stroke="#5c5c5c" stroke-width="0.9" stroke-opacity="0.95"/>
<path d="m326 64.45h1m-0.5 0h1m-0.5 0h1m-3.5 0.5h1m-0.5 0h1m0 0h1m-0.5 0h1m-1.5 0.5h1m-0.5 0h1m-4 0.5h1m0 0h1m0 0h1m-0.5 0h1m-0.5 0h1m-0.5 0h1m-0.5 0h1m-5 0.5h1m-0.5 0h1m0 0h1m-0.5 0h1m-0.5 0h1m0 0h1m-0.5 0h1m0 0h1m-5 0.5h1m0.5 0h1m-0.5 0h1m0 0h1m-0.5 0h1m-0.5 0h1m-7 0.5h1m0.5 0h1m0 0h1m-0.5 0h1m0 0h1m-0.5 0h1m-0.5 0h1m-6.5 0.5h1m0 0h1m0 0h1m-0.5 0h1m-0.5 0h1m-0.5 0h1m-0.5 0h1m0 0h1m0.5 0h1m-6.5 0.5h1m-0.5 0h1m-0.5 0h1m-0.5 0h1m0 0h1m0 0h1m-0.5 0h1m-5 0.5h1m-0.5 0h1m-0.5 0h1m-0.5 0h1m-0.5 0h1m-0.5 0h1m-0.5 0h1m-0.5 0h1m-0.5 0h1m-7 0.5h1m-0.5 0h1m0 0h1m-0.5 0h1m-0.5 0h1m-0.5 0h1m-0.5 0h1m-0.5 0h1m-0.5 0h1m-0.5 0h1m-0.5 0h1m-7 0.5h1m-0.5 0h1m1 0h1m-0.5 0h1m-0.5 0h1m-0.5 0h1m-0.5 0h1m-0.5 0h1m-0.5 0h1m-0.5 0h1m-0.5 0h1m0.5 0h1m-8 0.5h1m0 0h1m-0.5 0h1m-0.5 0h1m-0.5 0h1m-0.5 0h1m-0.5 0h1m-0.5 0h1m-0.5 0h1m-0.5 0h1m-0.5 0h1m-0.5 0h1m-0.5 0h1m-8.5 0.5h1m0.5 0h1m-0.5 0h1m-0.5 0h1m-0.5 0h1m-0.5 0h1m-0.5 0h1m-0.5 0h1m-0.5 0h1m-0.5 0h1m-0.5 0h1m0.5 0h1m-9 0.5h1m0 0h1m0.5 0h1m-0.5 0h1m-0.5 0h1m-0.5 0h1m-0.5 0h1m-0.5 0h1m0 0h1m-0.5 0h1m-11 0.5h1m2.5 0h1m0 0h1m0 0h1m-0.5 0h1m-0.5 0h1m-0.5 0h1m-0.5 0h1m-0.5 0h1m-0.5 0h1m-0.5 0h1m-0.5 0h1m-0.5 0h1m-0.5 0h1m-0.5 0h1m0 0h1m0 0h1m-13.5 0.5h1m1.5 0h1m0 0h1m-0.5 0h1m-0.5 0h1m-0.5 0h1m-0.5 0h1m-0.5 0h1m-0.5 0h1m-0.5 0h1m-0.5 0h1m0 0h1m-0.5 0h1m-0.5 0h1m-0.5 0h1m0 0h1m0.5 0h1m-12.5 0.5h1m0 0h1m-0.5 0h1m-0.5 0h1m-0.5 0h1m-0.5 0h1m-0.5 0h1m-0.5 0h1m-0.5 0h1m-0.5 0h1m-0.5 0h1m-0.5 0h1m-0.5 0h1m-0.5 0h1m0 0h1m-0.5 0h1m-0.5 0h1m0 0h1m-10.5 0.5h1m0 0h1m-0.5 0h1m0 0h1m-0.5 0h1m-0.5 0h1m-0.5 0h1m-0.5 0h1m-0.5 0h1m-0.5 0h1m-0.5 0h1m-0.5 0h1m-0.5 0h1m0.5 0h1m-0.5 0h1m-0.5 0h1m-0.5 0h1m-11 0.5h1m0 0h1m-0.5 0h1m-0.5 0h1m-0.5 0h1m-0.5 0h1m-0.5 0h1m0 0h1m-0.5 0h1m-0.5 0h1m-0.5 0h1m-0.5 0h1m-0.5 0h1m-0.5 0h1m-0.5 0h1m-0.5 0h1m-0.5 0h1m-0.5 0h1m1.5 0h1m-12.5 0.5h1m-0.5 0h1m-0.5 0h1m-0.5 0h1m-0.5 0h1m-0.5 0h1m-0.5 0h1m-0.5 0h1m-0.5 0h1m-0.5 0h1m-0.5 0h1m-0.5 0h1m-0.5 0h1m0 0h1m0 0h1m0 0h1m0 0h1m-14.5 0.5h1m-0.5 0h1m0 0h1m0 0h1m0.5 0h1m-0.5 0h1m-0.5 0h1m-0.5 0h1m-0.5 0h1m-0.5 0h1m-0.5 0h1m-0.5 0h1m-0.5 0h1m-0.5 0h1m-0.5 0h1m-0.5 0h1m0 0h1m-0.5 0h1m-0.5 0h1m-0.5 0h1m-0.5 0h1m-12.5 0.5h1m0 0h1m0.5 0h1m-0.5 0h1m-0.5 0h1m-0.5 0h1m0 0h1m-0.5 0h1m-0.5 0h1m-0.5 0h1m-0.5 0h1m-0.5 0h1m-0.5 0h1m-0.5 0h1m-0.5 0h1m0.5 0h1m0.5 0h1m-0.5 0h1m-12 0.5h1m0 0h1m-0.5 0h1m-0.5 0h1m-0.5 0h1m-0.5 0h1m-0.5 0h1m-0.5 0h1m-0.5 0h1m-0.5 0h1m-0.5 0h1m-0.5 0h1m0 0h1m-0.5 0h1m-0.5 0h1m-0.5 0h1m-0.5 0h1m1 0h1m-13 0.5h1m0 0h1m-0.5 0h1m-0.5 0h1m-0.5 0h1m-0.5 0h1m-0.5 0h1m-0.5 0h1m-0.5 0h1m-0.5 0h1m-0.5 0h1m-0.5 0h1m-0.5 0h1m-0.5 0h1m-0.5 0h1m-0.5 0h1m-0.5 0h1m-0.5 0h1m-0.5 0h1m-0.5 0h1m-0.5 0h1m-11.5 0.5h1m-0.5 0h1m0 0h1m0 0h1m-0.5 0h1m-0.5 0h1m-0.5 0h1m-0.5 0h1m-0.5 0h1m-0.5 0h1m-0.5 0h1m-0.5 0h1m-0.5 0h1m-0.5 0h1m-0.5 0h1m-0.5 0h1m-0.5 0h1m-0.5 0h1m0.5 0h1m0 0h1m-13 0.5h1m-0.5 0h1m-0.5 0h1m-0.5 0h1m-0.5 0h1m-0.5 0h1m-0.5 0h1m0 0h1m-0.5 0h1m-0.5 0h1m-0.5 0h1m-0.5 0h1m-0.5 0h1m-0.5 0h1m-0.5 0h1m-0.5 0h1m-0.5 0h1m-0.5 0h1m-0.5 0h1m0 0h1m0 0h1m0 0h1m-16 0.5h1m0 0h1m0 0h1m0.5 0h1m-0.5 0h1m-0.5 0h1m-0.5 0h1m-0.5 0h1m-0.5 0h1m-0.5 0h1m-0.5 0h1m-0.5 0h1m-0.5 0h1m-0.5 0h1m-0.5 0h1m-0.5 0h1m-0.5 0h1m-0.5 0h1m-0.5 0h1m-0.5 0h1m-0.5 0h1m-0.5 0h1m-12 0.5h1m-0.5 0h1m0.5 0h1m-0.5 0h1m-0.5 0h1m-0.5 0h1m-0.5 0h1m-0.5 0h1m-0.5 0h1m-0.5 0h1m-0.5 0h1m-0.5 0h1m-0.5 0h1m-0.5 0h1m-0.5 0h1m-0.5 0h1m-0.5 0h1m-0.5 0h1m0 0h1m-14 0.5h1m-0.5 0h1m0 0h1m-0.5 0h1m0.5 0h1m-0.5 0h1m-0.5 0h1m0 0h1m-0.5 0h1m-0.5 0h1m-0.5 0h1m-0.5 0h1m-0.5 0h1m-0.5 0h1m-0.5 0h1m-0.5 0h1m-0.5 0h1m-0.5 0h1m-0.5 0h1m-0.5 0h1m-0.5 0h1m0.5 0h1m0 0h1m-0.5 0h1m-15 0.5h1m0 0h1m-0.5 0h1m-0.5 0h1m0 0h1m-0.5 0h1m-0.5 0h1m-0.5 0h1m-0.5 0h1m-0.5 0h1m-0.5 0h1m-0.5 0h1m-0.5 0h1m-0.5 0h1m-0.5 0h1m-0.5 0h1m0 0h1m0 0h1m0 0h1m-0.5 0h1m-0.5 0h1m-0.5 0h1m-0.5 0h1m-0.5 0h1m-14.5 0.5h1m1.5 0h1m-0.5 0h1m-0.5 0h1m-0.5 0h1m-0.5 0h1m-0.5 0h1m-0.5 0h1m-0.5 0h1m-0.5 0h1m-0.5 0h1m-0.5 0h1m-0.5 0h1m-0.5 0h1m-0.5 0h1m-0.5 0h1m-0.5 0h1m-0.5 0h1m-0.5 0h1m-0.5 0h1m-0.5 0h1m0.5 0h1m-15.5 0.5h1m-0.5 0h1m0.5 0h1m-0.5 0h1m-0.5 0h1m-0.5 0h1m-0.5 0h1m-0.5 0h1m-0.5 0h1m-0.5 0h1m-0.5 0h1m-0.5 0h1m-0.5 0h1m-0.5 0h1m-0.5 0h1m-0.5 0h1m-0.5 0h1m-0.5 0h1m-0.5 0h1m-0.5 0h1m-0.5 0h1m-0.5 0h1m-0.5 0h1m-0.5 0h1m0.5 0h1m-0.5 0h1m-19 0.5h1m2 0h1m0 0h1m0 0h1m-0.5 0h1m-0.5 0h1m0 0h1m-0.5 0h1m0 0h1m-0.5 0h1m-0.5 0h1m-0.5 0h1m-0.5 0h1m-0.5 0h1m-0.5 0h1m-0.5 0h1m-0.5 0h1m-0.5 0h1m-0.5 0h1m-0.5 0h1m-0.5 0h1m1 0h1m-16.5 0.5h1m1.5 0h1m0.5 0h1m0 0h1m0 0h1m-0.5 0h1m-0.5 0h1m-0.5 0h1m-0.5 0h1m-0.5 0h1m-0.5 0h1m-0.5 0h1m-0.5 0h1m0 0h1m-0.5 0h1m0 0h1m-0.5 0h1m-0.5 0h1m-0.5 0h1m4.5 0h1m-18 0.5h1m-0.5 0h1m-0.5 0h1m0 0h1m-0.5 0h1m0 0h1m0 0h1m-0.5 0h1m-0.5 0h1m-0.5 0h1m-0.5 0h1m-0.5 0h1m-0.5 0h1m-0.5 0h1m-0.5 0h1m-0.5 0h1m-0.5 0h1m-0.5 0h1m-0.5 0h1m-0.5 0h1m-0.5 0h1m-0.5 0h1m0 0h1m-0.5 0h1m1 0h1m-17.5 0.5h1m-0.5 0h1m0 0h1m-0.5 0h1m-0.5 0h1m-0.5 0h1m-0.5 0h1m-0.5 0h1m-0.5 0h1m-0.5 0h1m-0.5 0h1m0 0h1m-0.5 0h1m-0.5 0h1m-0.5 0h1m-0.5 0h1m-0.5 0h1m-0.5 0h1m-0.5 0h1m-0.5 0h1m-0.5 0h1m0 0h1m0 0h1m-0.5 0h1m2.5 0h1m-20.5 0.5h1m1.5 0h1m-0.5 0h1m2 0h1m-0.5 0h1m-0.5 0h1m0 0h1m-0.5 0h1m0 0h1m-0.5 0h1m-0.5 0h1m-0.5 0h1m-0.5 0h1m-0.5 0h1m-0.5 0h1m-0.5 0h1m0 0h1m-0.5 0h1m-0.5 0h1m-0.5 0h1m-0.5 0h1m0.5 0h1m0 0h1m-21.5 0.5h1m1.5 0h1m-0.5 0h1m1.5 0h1m-0.5 0h1m-0.5 0h1m-0.5 0h1m0.5 0h1m-0.5 0h1m-0.5 0h1m-0.5 0h1m-0.5 0h1m-0.5 0h1m-0.5 0h1m-0.5 0h1m-0.5 0h1m-0.5 0h1m-0.5 0h1m0 0h1m-0.5 0h1m-0.5 0h1m0.5 0h1m0 0h1m-18 0.5h1m2 0h1m-0.5 0h1m-0.5 0h1m-0.5 0h1m0 0h1m-0.5 0h1m-0.5 0h1m-0.5 0h1m-0.5 0h1m-0.5 0h1m0 0h1m-0.5 0h1m-0.5 0h1m-0.5 0h1m-0.5 0h1m-0.5 0h1m0 0h1m-0.5 0h1m-0.5 0h1m0 0h1m-0.5 0h1m-0.5 0h1m0 0h1m4 0h1m-20.5 0.5h1m1 0h1m1.5 0h1m0 0h1m-0.5 0h1m-0.5 0h1m-0.5 0h1m0 0h1m0 0h1m-0.5 0h1m-0.5 0h1m-0.5 0h1m-0.5 0h1m-0.5 0h1m0 0h1m-0.5 0h1m0 0h1m1 0h1m0 0h1m0 0h1m-21 0.5h1m2 0h1m0 0h1m-0.5 0h1m0 0h1m-0.5 0h1m-0.5 0h1m-0.5 0h1m-0.5 0h1m-0.5 0h1m-0.5 0h1m-0.5 0h1m-0.5 0h1m-0.5 0h1m0.5 0h1m-0.5 0h1m0.5 0h1m-0.5 0h1m-0.5 0h1m3.5 0h1m-0.5 0h1m0 0h1m-17 0.5h1m-0.5 0h1m-0.5 0h1m-0.5 0h1m-0.5 0h1m-0.5 0h1m-0.5 0h1m0 0h1m0 0h1m-0.5 0h1m0.5 0h1m-0.5 0h1m0.5 0h1m1 0h1m2 0h1m-19.5 0.5h1m2.5 0h1m1.5 0h1m-0.5 0h1m0.5 0h1m-0.5 0h1m-0.5 0h1m0.5 0h1m1.5 0h1m-0.5 0h1m-0.5 0h1m-0.5 0h1m-0.5 0h1m0 0h1m-14.5 0.5h1m6.5 0h1m0.5 0h1m1 0h1m1 0h1m3.5 0h1m-20 0.5h1m1 0h1m0 0h1m-0.5 0h1m3 0h1m5 0h1m4 0h1m-6.5 0.5h1m-3.5 0.5h1m6 0h1" fill="none" stroke="#5c5c5c" stroke-width="0.9" stroke-opacity="0.92"/>
<path d="m318 62.45h1m1.5 5h1m2.5 1h1m-11.5 2.5h1m9.5 0h1m3 0h1m-11 1h1m4 0h1m-4 1h1m-0.5 0h1m0.5 0h1m3 0h1m-12.5 0.5h1m8 0h1m-6 0.5h1m1.5 0.5h1m-15.5 0.5h1m10.5 0h1m4.5 0h1m-9.5 0.5h1m-8.5 0.5h1m4.5 0h1m2.5 0h1m-6 0.5h1m10.5 0h1m-0.5 0h1m-4 0.5h1m-0.5 0h1m-4 0.5h1m1 0h1m4.5 0h1m-6 0.5h1m1.5 0h1m-0.5 0h1m-18 0.5h1m9.5 0h1m2 0h1m-14 0.5h1m4.5 0h1m1.5 0h1m1.5 0h1m2.5 0h1m0.5 0h1m4.5 0h1m-15 0.5h1m-0.5 0h1m4 0h1m0.5 0h1m-11.5 0.5h1m6 0h1m1.5 0h1m0 0h1m-0.5 0h1m0 0h1m0.5 0h1m-9.5 0.5h1m2 0h1m4 0h1m-0.5 0h1m-10.5 0.5h1m8 0h1m2 0h1m-17.5 0.5h1m5 0h1m2.5 0h1m-0.5 0h1m1.5 0h1m-0.5 0h1m1 0h1m0.5 0h1m-17 0.5h1m2.5 0h1m-6 0.5h1m11 0h1m4 0h1m-11 0.5h1m8 0h1m-10.5 0.5h1m1 0.5h1m5.5 0h1m-0.5 0h1m-16 0.5h1m4.5 0h1m0 0h1m2 0.5h1m-3.5 0.5h1m-10 0.5h1m19.5 0h1m-13.5 0.5h1m-0.5 0h1m2.5 0h1m4.5 0h1m1.5 0h1m-12.5 0.5h1m5 0h1m-4 0.5h1m3 0h1m-13.5 0.5h1m13 0h1m5.5 0h1m-4 1h1" fill="none" stroke="#777" stroke-width="0.9" stroke-opacity="0.7"/>
<rect x="304.60" y="59.60" width="32.20" height="30.20" fill="none" stroke="#2a2a2a" stroke-width="1.0"/>
<text x="306.20" y="50.26" textLength="52.6" lengthAdjust="spacingAndGlyphs" font-family="Liberation Serif" font-size="12.3" fill="#111">control DC</text>
<text x="337.50" y="79.60" textLength="30" lengthAdjust="spacingAndGlyphs" font-family="Liberation Serif" font-size="10.3" fill="#222">13,63%</text>
<text x="297.30" y="121.60" text-anchor="middle" font-family="Liberation Sans" font-size="5.2" fill="#111" stroke="#111" stroke-width="0.2">10<tspan dx="0.7" dy="-2.4" font-size="4.5">0</tspan></text>
<text x="314.80" y="121.60" text-anchor="middle" font-family="Liberation Sans" font-size="5.2" fill="#111" stroke="#111" stroke-width="0.2">10<tspan dx="0.7" dy="-2.4" font-size="4.5">1</tspan></text>
<text x="332.20" y="121.60" text-anchor="middle" font-family="Liberation Sans" font-size="5.2" fill="#111" stroke="#111" stroke-width="0.2">10<tspan dx="0.7" dy="-2.4" font-size="4.5">2</tspan></text>
<text x="349.30" y="121.60" text-anchor="middle" font-family="Liberation Sans" font-size="5.2" fill="#111" stroke="#111" stroke-width="0.2">10<tspan dx="0.7" dy="-2.4" font-size="4.5">3</tspan></text>
<text x="366.00" y="121.60" text-anchor="middle" font-family="Liberation Sans" font-size="5.2" fill="#111" stroke="#111" stroke-width="0.2">10<tspan dx="0.7" dy="-2.4" font-size="4.5">4</tspan></text>
<rect x="381.00" y="54.60" width="69.30" height="57.90" fill="none" stroke="#8a8a8a" stroke-width="0.8"/>
<line x1="381.00" y1="112.50" x2="450.30" y2="112.50" stroke="#444" stroke-width="0.9"/>
<line x1="381.00" y1="112.50" x2="381.00" y2="110.30" stroke="#444" stroke-width="0.5"/>
<line x1="386.22" y1="112.50" x2="386.22" y2="111.40" stroke="#444" stroke-width="0.5"/>
<line x1="389.27" y1="112.50" x2="389.27" y2="111.40" stroke="#444" stroke-width="0.5"/>
<line x1="391.43" y1="112.50" x2="391.43" y2="111.40" stroke="#444" stroke-width="0.5"/>
<line x1="393.11" y1="112.50" x2="393.11" y2="111.40" stroke="#444" stroke-width="0.5"/>
<line x1="394.48" y1="112.50" x2="394.48" y2="111.40" stroke="#444" stroke-width="0.5"/>
<line x1="395.64" y1="112.50" x2="395.64" y2="111.40" stroke="#444" stroke-width="0.5"/>
<line x1="396.65" y1="112.50" x2="396.65" y2="111.40" stroke="#444" stroke-width="0.5"/>
<line x1="397.53" y1="112.50" x2="397.53" y2="111.40" stroke="#444" stroke-width="0.5"/>
<line x1="398.32" y1="112.50" x2="398.32" y2="110.30" stroke="#444" stroke-width="0.5"/>
<line x1="403.54" y1="112.50" x2="403.54" y2="111.40" stroke="#444" stroke-width="0.5"/>
<line x1="406.59" y1="112.50" x2="406.59" y2="111.40" stroke="#444" stroke-width="0.5"/>
<line x1="408.76" y1="112.50" x2="408.76" y2="111.40" stroke="#444" stroke-width="0.5"/>
<line x1="410.43" y1="112.50" x2="410.43" y2="111.40" stroke="#444" stroke-width="0.5"/>
<line x1="411.81" y1="112.50" x2="411.81" y2="111.40" stroke="#444" stroke-width="0.5"/>
<line x1="412.97" y1="112.50" x2="412.97" y2="111.40" stroke="#444" stroke-width="0.5"/>
<line x1="413.97" y1="112.50" x2="413.97" y2="111.40" stroke="#444" stroke-width="0.5"/>
<line x1="414.86" y1="112.50" x2="414.86" y2="111.40" stroke="#444" stroke-width="0.5"/>
<line x1="415.65" y1="112.50" x2="415.65" y2="110.30" stroke="#444" stroke-width="0.5"/>
<line x1="420.87" y1="112.50" x2="420.87" y2="111.40" stroke="#444" stroke-width="0.5"/>
<line x1="423.92" y1="112.50" x2="423.92" y2="111.40" stroke="#444" stroke-width="0.5"/>
<line x1="426.08" y1="112.50" x2="426.08" y2="111.40" stroke="#444" stroke-width="0.5"/>
<line x1="427.76" y1="112.50" x2="427.76" y2="111.40" stroke="#444" stroke-width="0.5"/>
<line x1="429.13" y1="112.50" x2="429.13" y2="111.40" stroke="#444" stroke-width="0.5"/>
<line x1="430.29" y1="112.50" x2="430.29" y2="111.40" stroke="#444" stroke-width="0.5"/>
<line x1="431.30" y1="112.50" x2="431.30" y2="111.40" stroke="#444" stroke-width="0.5"/>
<line x1="432.18" y1="112.50" x2="432.18" y2="111.40" stroke="#444" stroke-width="0.5"/>
<line x1="432.98" y1="112.50" x2="432.98" y2="110.30" stroke="#444" stroke-width="0.5"/>
<line x1="438.19" y1="112.50" x2="438.19" y2="111.40" stroke="#444" stroke-width="0.5"/>
<line x1="441.24" y1="112.50" x2="441.24" y2="111.40" stroke="#444" stroke-width="0.5"/>
<line x1="443.41" y1="112.50" x2="443.41" y2="111.40" stroke="#444" stroke-width="0.5"/>
<line x1="445.08" y1="112.50" x2="445.08" y2="111.40" stroke="#444" stroke-width="0.5"/>
<line x1="446.46" y1="112.50" x2="446.46" y2="111.40" stroke="#444" stroke-width="0.5"/>
<line x1="447.62" y1="112.50" x2="447.62" y2="111.40" stroke="#444" stroke-width="0.5"/>
<line x1="448.62" y1="112.50" x2="448.62" y2="111.40" stroke="#444" stroke-width="0.5"/>
<line x1="449.51" y1="112.50" x2="449.51" y2="111.40" stroke="#444" stroke-width="0.5"/>
<line x1="450.30" y1="112.50" x2="450.30" y2="110.30" stroke="#444" stroke-width="0.5"/>
<line x1="381.00" y1="112.50" x2="383.20" y2="112.50" stroke="#444" stroke-width="0.5"/>
<line x1="381.00" y1="108.14" x2="382.10" y2="108.14" stroke="#444" stroke-width="0.5"/>
<line x1="381.00" y1="105.59" x2="382.10" y2="105.59" stroke="#444" stroke-width="0.5"/>
<line x1="381.00" y1="103.79" x2="382.10" y2="103.79" stroke="#444" stroke-width="0.5"/>
<line x1="381.00" y1="102.38" x2="382.10" y2="102.38" stroke="#444" stroke-width="0.5"/>
<line x1="381.00" y1="101.24" x2="382.10" y2="101.24" stroke="#444" stroke-width="0.5"/>
<line x1="381.00" y1="100.27" x2="382.10" y2="100.27" stroke="#444" stroke-width="0.5"/>
<line x1="381.00" y1="99.43" x2="382.10" y2="99.43" stroke="#444" stroke-width="0.5"/>
<line x1="381.00" y1="98.69" x2="382.10" y2="98.69" stroke="#444" stroke-width="0.5"/>
<line x1="381.00" y1="98.03" x2="383.20" y2="98.03" stroke="#444" stroke-width="0.5"/>
<line x1="381.00" y1="93.67" x2="382.10" y2="93.67" stroke="#444" stroke-width="0.5"/>
<line x1="381.00" y1="91.12" x2="382.10" y2="91.12" stroke="#444" stroke-width="0.5"/>
<line x1="381.00" y1="89.31" x2="382.10" y2="89.31" stroke="#444" stroke-width="0.5"/>
<line x1="381.00" y1="87.91" x2="382.10" y2="87.91" stroke="#444" stroke-width="0.5"/>
<line x1="381.00" y1="86.76" x2="382.10" y2="86.76" stroke="#444" stroke-width="0.5"/>
<line x1="381.00" y1="85.79" x2="382.10" y2="85.79" stroke="#444" stroke-width="0.5"/>
<line x1="381.00" y1="84.95" x2="382.10" y2="84.95" stroke="#444" stroke-width="0.5"/>
<line x1="381.00" y1="84.21" x2="382.10" y2="84.21" stroke="#444" stroke-width="0.5"/>
<line x1="381.00" y1="83.55" x2="383.20" y2="83.55" stroke="#444" stroke-width="0.5"/>
<line x1="381.00" y1="79.19" x2="382.10" y2="79.19" stroke="#444" stroke-width="0.5"/>
<line x1="381.00" y1="76.64" x2="382.10" y2="76.64" stroke="#444" stroke-width="0.5"/>
<line x1="381.00" y1="74.84" x2="382.10" y2="74.84" stroke="#444" stroke-width="0.5"/>
<line x1="381.00" y1="73.43" x2="382.10" y2="73.43" stroke="#444" stroke-width="0.5"/>
<line x1="381.00" y1="72.29" x2="382.10" y2="72.29" stroke="#444" stroke-width="0.5"/>
<line x1="381.00" y1="71.32" x2="382.10" y2="71.32" stroke="#444" stroke-width="0.5"/>
<line x1="381.00" y1="70.48" x2="382.10" y2="70.48" stroke="#444" stroke-width="0.5"/>
<line x1="381.00" y1="69.74" x2="382.10" y2="69.74" stroke="#444" stroke-width="0.5"/>
<line x1="381.00" y1="69.08" x2="383.20" y2="69.08" stroke="#444" stroke-width="0.5"/>
<line x1="381.00" y1="64.72" x2="382.10" y2="64.72" stroke="#444" stroke-width="0.5"/>
<line x1="381.00" y1="62.17" x2="382.10" y2="62.17" stroke="#444" stroke-width="0.5"/>
<line x1="381.00" y1="60.36" x2="382.10" y2="60.36" stroke="#444" stroke-width="0.5"/>
<line x1="381.00" y1="58.96" x2="382.10" y2="58.96" stroke="#444" stroke-width="0.5"/>
<line x1="381.00" y1="57.81" x2="382.10" y2="57.81" stroke="#444" stroke-width="0.5"/>
<line x1="381.00" y1="56.84" x2="382.10" y2="56.84" stroke="#444" stroke-width="0.5"/>
<line x1="381.00" y1="56.00" x2="382.10" y2="56.00" stroke="#444" stroke-width="0.5"/>
<line x1="381.00" y1="55.26" x2="382.10" y2="55.26" stroke="#444" stroke-width="0.5"/>
<path d="m420.5 89.95h1m-4 1h1m-0.5 0h1m-2.5 0.5h1m-0.5 0h1m-0.5 0h1m-0.5 0h1m-0.5 0h1m-5.5 0.5h1m0.5 0h1m-0.5 0h1m-0.5 0h1m-0.5 0h1m-0.5 0h1m1.5 0h1m-7 0.5h1m-0.5 0h1m-0.5 0h1m-0.5 0h1m0.5 0h1m-0.5 0h1m-6 0.5h1m-0.5 0h1m1 0h1m-0.5 0h1m-0.5 0h1m-0.5 0h1m-0.5 0h1m0 0h1m-6.5 0.5h1m-0.5 0h1m1 0h1m-0.5 0h1m-0.5 0h1m-0.5 0h1m0 0h1m-9 0.5h1m1.5 0h1m-0.5 0h1m-0.5 0h1m0 0h1m-0.5 0h1m-0.5 0h1m-0.5 0h1m-0.5 0h1m-7 0.5h1m0 0h1m0 0h1m0 0h1m-0.5 0h1m-0.5 0h1m-0.5 0h1m-0.5 0h1m-0.5 0h1m-0.5 0h1m-8.5 0.5h1m-0.5 0h1m1.5 0h1m-0.5 0h1m-0.5 0h1m-0.5 0h1m-0.5 0h1m-0.5 0h1m-0.5 0h1m-0.5 0h1m-0.5 0h1m-0.5 0h1m0.5 0h1m-11.5 0.5h1m-0.5 0h1m0 0h1m-0.5 0h1m-0.5 0h1m0.5 0h1m-0.5 0h1m-0.5 0h1m-0.5 0h1m-0.5 0h1m-0.5 0h1m0 0h1m-0.5 0h1m-0.5 0h1m-0.5 0h1m-11 0.5h1m1 0h1m-0.5 0h1m0 0h1m-0.5 0h1m-0.5 0h1m-0.5 0h1m-0.5 0h1m-0.5 0h1m-0.5 0h1m-0.5 0h1m-0.5 0h1m-0.5 0h1m0.5 0h1m-0.5 0h1m-14.5 0.5h1m0 0h1m0 0h1m-0.5 0h1m-0.5 0h1m-0.5 0h1m-0.5 0h1m-0.5 0h1m-0.5 0h1m-0.5 0h1m-0.5 0h1m-0.5 0h1m-0.5 0h1m-0.5 0h1m0 0h1m0 0h1m-0.5 0h1m-0.5 0h1m-0.5 0h1m-0.5 0h1m-0.5 0h1m-0.5 0h1m0 0h1m1 0h1m-14.5 0.5h1m0 0h1m-0.5 0h1m0 0h1m-0.5 0h1m-0.5 0h1m-0.5 0h1m-0.5 0h1m-0.5 0h1m-0.5 0h1m-0.5 0h1m-0.5 0h1m-0.5 0h1m-0.5 0h1m-0.5 0h1m-0.5 0h1m0 0h1m-0.5 0h1m-0.5 0h1m-11 0.5h1m-0.5 0h1m-0.5 0h1m-0.5 0h1m-0.5 0h1m-0.5 0h1m0 0h1m-0.5 0h1m-0.5 0h1m-0.5 0h1m-0.5 0h1m-0.5 0h1m-0.5 0h1m-0.5 0h1m-0.5 0h1m-0.5 0h1m-0.5 0h1m-0.5 0h1m-0.5 0h1m-0.5 0h1m-17 0.5h1m0.5 0h1m-0.5 0h1m-0.5 0h1m-0.5 0h1m1 0h1m0 0h1m0 0h1m-0.5 0h1m-0.5 0h1m-0.5 0h1m-0.5 0h1m-0.5 0h1m-0.5 0h1m-0.5 0h1m0 0h1m-0.5 0h1m-0.5 0h1m-0.5 0h1m-0.5 0h1m-0.5 0h1m-0.5 0h1m-0.5 0h1m-0.5 0h1m0 0h1m-18 0.5h1m1.5 0h1m0 0h1m-0.5 0h1m0 0h1m0 0h1m0 0h1m-0.5 0h1m0 0h1m-0.5 0h1m-0.5 0h1m-0.5 0h1m-0.5 0h1m-0.5 0h1m-0.5 0h1m-0.5 0h1m-0.5 0h1m-0.5 0h1m-0.5 0h1m-0.5 0h1m-0.5 0h1m-0.5 0h1m0 0h1m-0.5 0h1m-15.5 0.5h1m-0.5 0h1m-0.5 0h1m-0.5 0h1m0 0h1m-0.5 0h1m-0.5 0h1m-0.5 0h1m-0.5 0h1m-0.5 0h1m0 0h1m-0.5 0h1m-0.5 0h1m-0.5 0h1m-0.5 0h1m-0.5 0h1m0 0h1m-0.5 0h1m-0.5 0h1m-0.5 0h1m-0.5 0h1m-0.5 0h1m-0.5 0h1m0 0h1m-0.5 0h1m0 0h1m0.5 0h1m-20.5 0.5h1m-0.5 0h1m0.5 0h1m-0.5 0h1m-0.5 0h1m0.5 0h1m1 0h1m0 0h1m-0.5 0h1m-0.5 0h1m-0.5 0h1m-0.5 0h1m-0.5 0h1m-0.5 0h1m-0.5 0h1m0 0h1m-0.5 0h1m-0.5 0h1m-0.5 0h1m-0.5 0h1m-0.5 0h1m0 0h1m-0.5 0h1m-0.5 0h1m-18 0.5h1m0.5 0h1m0.5 0h1m0 0h1m-0.5 0h1m-0.5 0h1m0 0h1m-0.5 0h1m-0.5 0h1m-0.5 0h1m-0.5 0h1m-0.5 0h1m-0.5 0h1m-0.5 0h1m-0.5 0h1m-0.5 0h1m-0.5 0h1m-0.5 0h1m-0.5 0h1m-0.5 0h1m-0.5 0h1m-0.5 0h1m-0.5 0h1m-0.5 0h1m-0.5 0h1m-0.5 0h1m-0.5 0h1m-0.5 0h1m-0.5 0h1m0 0h1m-0.5 0h1m-21.5 0.5h1m-0.5 0h1m0 0h1m-0.5 0h1m0 0h1m-0.5 0h1m0 0h1m-0.5 0h1m0 0h1m0 0h1m-0.5 0h1m-0.5 0h1m0.5 0h1m-0.5 0h1m-0.5 0h1m0 0h1m0 0h1m-0.5 0h1m0 0h1m-0.5 0h1m-0.5 0h1m-0.5 0h1m-0.5 0h1m-0.5 0h1m-0.5 0h1m-0.5 0h1m0.5 0h1m-23 0.5h1m-0.5 0h1m0.5 0h1m0 0h1m0.5 0h1m0.5 0h1m0 0h1m-0.5 0h1m-0.5 0h1m-0.5 0h1m-0.5 0h1m-0.5 0h1m-0.5 0h1m-0.5 0h1m-0.5 0h1m-0.5 0h1m-0.5 0h1m-0.5 0h1m-0.5 0h1m-0.5 0h1m-0.5 0h1m-0.5 0h1m-0.5 0h1m-0.5 0h1m-0.5 0h1m-0.5 0h1m-0.5 0h1m-0.5 0h1m-0.5 0h1m-0.5 0h1m-0.5 0h1m-0.5 0h1m-0.5 0h1m-0.5 0h1m0.5 0h1m-23 0.5h1m-0.5 0h1m0 0h1m-0.5 0h1m-0.5 0h1m-0.5 0h1m-0.5 0h1m-0.5 0h1m-0.5 0h1m-0.5 0h1m-0.5 0h1m-0.5 0h1m0 0h1m-0.5 0h1m1 0h1m-0.5 0h1m-0.5 0h1m-0.5 0h1m-0.5 0h1m-0.5 0h1m-0.5 0h1m-0.5 0h1m-0.5 0h1m-0.5 0h1m-0.5 0h1m-0.5 0h1m-0.5 0h1m-0.5 0h1m-0.5 0h1m0 0h1m-0.5 0h1m-0.5 0h1m-0.5 0h1m0 0h1m-0.5 0h1m-0.5 0h1m1.5 0h1m-27.5 0.5h1m-0.5 0h1m1 0h1m-0.5 0h1m-0.5 0h1m-0.5 0h1m-0.5 0h1m-0.5 0h1m0 0h1m0 0h1m-0.5 0h1m-0.5 0h1m0.5 0h1m-0.5 0h1m0 0h1m0 0h1m0 0h1m0 0h1m0 0h1m-0.5 0h1m-0.5 0h1m-0.5 0h1m-0.5 0h1m-0.5 0h1m-0.5 0h1m-0.5 0h1m-0.5 0h1m-0.5 0h1m-0.5 0h1m-0.5 0h1m-0.5 0h1m-0.5 0h1m-0.5 0h1m-0.5 0h1m-0.5 0h1m0 0h1m-0.5 0h1m-0.5 0h1m0.5 0h1m-28.5 0.5h1m0 0h1m1 0h1m0 0h1m-0.5 0h1m0 0h1m-0.5 0h1m-0.5 0h1m-0.5 0h1m0 0h1m0.5 0h1m-0.5 0h1m-0.5 0h1m0 0h1m0 0h1m-0.5 0h1m-0.5 0h1m-0.5 0h1m-0.5 0h1m-0.5 0h1m-0.5 0h1m-0.5 0h1m-0.5 0h1m-0.5 0h1m-0.5 0h1m-0.5 0h1m-0.5 0h1m-0.5 0h1m-0.5 0h1m-0.5 0h1m-0.5 0h1m-0.5 0h1m-0.5 0h1m-0.5 0h1m-0.5 0h1m0 0h1m-0.5 0h1m-0.5 0h1m-25.5 0.5h1m-0.5 0h1m0 0h1m-0.5 0h1m0 0h1m0 0h1m0.5 0h1m0.5 0h1m-0.5 0h1m-0.5 0h1m-0.5 0h1m0 0h1m-0.5 0h1m-0.5 0h1m-0.5 0h1m-0.5 0h1m0 0h1m-0.5 0h1m-0.5 0h1m-0.5 0h1m-0.5 0h1m-0.5 0h1m0 0h1m-0.5 0h1m-0.5 0h1m-0.5 0h1m-0.5 0h1m-0.5 0h1m-0.5 0h1m-0.5 0h1m-0.5 0h1m-0.5 0h1m0 0h1m-0.5 0h1m-0.5 0h1m-0.5 0h1m-0.5 0h1m-0.5 0h1m1.5 0h1m0 0h1m-29.5 0.5h1m0 0h1m-0.5 0h1m1.5 0h1m-0.5 0h1m-0.5 0h1m-0.5 0h1m-0.5 0h1m-0.5 0h1m-0.5 0h1m-0.5 0h1m-0.5 0h1m-0.5 0h1m0 0h1m-0.5 0h1m0 0h1m-0.5 0h1m0 0h1m-0.5 0h1m-0.5 0h1m-0.5 0h1m-0.5 0h1m-0.5 0h1m-0.5 0h1m-0.5 0h1m-0.5 0h1m-0.5 0h1m-0.5 0h1m-0.5 0h1m-0.5 0h1m-0.5 0h1m-0.5 0h1m-0.5 0h1m-0.5 0h1m0 0h1m-0.5 0h1m0 0h1m-0.5 0h1m-0.5 0h1m-0.5 0h1m-0.5 0h1m1 0h1m0.5 0h1m-29 0.5h1m0 0h1m-0.5 0h1m-0.5 0h1m0 0h1m-0.5 0h1m-0.5 0h1m-0.5 0h1m-0.5 0h1m-0.5 0h1m-0.5 0h1m-0.5 0h1m-0.5 0h1m-0.5 0h1m-0.5 0h1m-0.5 0h1m0 0h1m-0.5 0h1m0 0h1m-0.5 0h1m-0.5 0h1m-0.5 0h1m-0.5 0h1m-0.5 0h1m-0.5 0h1m-0.5 0h1m0 0h1m-0.5 0h1m-0.5 0h1m0 0h1m-0.5 0h1m-0.5 0h1m-0.5 0h1m-0.5 0h1m-0.5 0h1m0 0h1m-0.5 0h1m-0.5 0h1m-0.5 0h1m-0.5 0h1m-0.5 0h1m-0.5 0h1m0.5 0h1m-26.5 0.5h1m-0.5 0h1m0 0h1m-0.5 0h1m-0.5 0h1m-0.5 0h1m-0.5 0h1m-0.5 0h1m-0.5 0h1m1 0h1m-0.5 0h1m0.5 0h1m0.5 0h1m-0.5 0h1m-0.5 0h1m-0.5 0h1m-0.5 0h1m-0.5 0h1m-0.5 0h1m-0.5 0h1m-0.5 0h1m-0.5 0h1m-0.5 0h1m-0.5 0h1m-0.5 0h1m-0.5 0h1m-0.5 0h1m-0.5 0h1m-0.5 0h1m-0.5 0h1m-0.5 0h1m-0.5 0h1m-0.5 0h1m-0.5 0h1m-0.5 0h1m-0.5 0h1m-0.5 0h1m-0.5 0h1m-0.5 0h1m0 0h1m0 0h1m-26 0.5h1m-0.5 0h1m-0.5 0h1m-0.5 0h1m0 0h1m0 0h1m-0.5 0h1m-0.5 0h1m-0.5 0h1m-0.5 0h1m-0.5 0h1m-0.5 0h1m-0.5 0h1m-0.5 0h1m0 0h1m-0.5 0h1m0 0h1m-0.5 0h1m-0.5 0h1m0 0h1m-0.5 0h1m-0.5 0h1m-0.5 0h1m-0.5 0h1m-0.5 0h1m0 0h1m-0.5 0h1m-0.5 0h1m-0.5 0h1m-0.5 0h1m-0.5 0h1m-0.5 0h1m-0.5 0h1m0 0h1m-0.5 0h1m-0.5 0h1m-0.5 0h1m-0.5 0h1m-0.5 0h1m-0.5 0h1m-0.5 0h1m-0.5 0h1m2.5 0h1m-28.5 0.5h1m0 0h1m-0.5 0h1m-0.5 0h1m0 0h1m0 0h1m-0.5 0h1m-0.5 0h1m-0.5 0h1m-0.5 0h1m0 0h1m-0.5 0h1m-0.5 0h1m-0.5 0h1m-0.5 0h1m-0.5 0h1m0 0h1m0 0h1m0 0h1m-0.5 0h1m-0.5 0h1m-0.5 0h1m-0.5 0h1m-0.5 0h1m-0.5 0h1m-0.5 0h1m-0.5 0h1m-0.5 0h1m-0.5 0h1m-0.5 0h1m-0.5 0h1m-0.5 0h1m-0.5 0h1m-0.5 0h1m-0.5 0h1m-0.5 0h1m-0.5 0h1m-0.5 0h1m-0.5 0h1m-0.5 0h1m-0.5 0h1m-0.5 0h1m-0.5 0h1m-26.5 0.5h1m-0.5 0h1m-0.5 0h1m0 0h1m-0.5 0h1m-0.5 0h1m-0.5 0h1m-0.5 0h1m0 0h1m-0.5 0h1m-0.5 0h1m-0.5 0h1m-0.5 0h1m-0.5 0h1m-0.5 0h1m-0.5 0h1m-0.5 0h1m-0.5 0h1m-0.5 0h1m-0.5 0h1m-0.5 0h1m-0.5 0h1m-0.5 0h1m-0.5 0h1m-0.5 0h1m-0.5 0h1m-0.5 0h1m-0.5 0h1m-0.5 0h1m0 0h1m-0.5 0h1m-0.5 0h1m-0.5 0h1m-0.5 0h1m-0.5 0h1m-0.5 0h1m-0.5 0h1m-0.5 0h1m-0.5 0h1m-0.5 0h1m-0.5 0h1m-0.5 0h1m-0.5 0h1m-0.5 0h1m-0.5 0h1m-0.5 0h1m0 0h1m-24 0.5h1m-0.5 0h1m0 0h1m-0.5 0h1m-0.5 0h1m0.5 0h1m-0.5 0h1m-0.5 0h1m-0.5 0h1m-0.5 0h1m-0.5 0h1m-0.5 0h1m-0.5 0h1m-0.5 0h1m-0.5 0h1m-0.5 0h1m-0.5 0h1m-0.5 0h1m-0.5 0h1m-0.5 0h1m-0.5 0h1m-0.5 0h1m-0.5 0h1m-0.5 0h1m0 0h1m-0.5 0h1m-0.5 0h1m-0.5 0h1m-0.5 0h1m0 0h1m-0.5 0h1m-0.5 0h1m0 0h1m-0.5 0h1m-0.5 0h1m-0.5 0h1m-0.5 0h1m-0.5 0h1m-24.5 0.5h1m0 0h1m-0.5 0h1m-0.5 0h1m-0.5 0h1m-0.5 0h1m-0.5 0h1m-0.5 0h1m-0.5 0h1m-0.5 0h1m-0.5 0h1m-0.5 0h1m0.5 0h1m-0.5 0h1m-0.5 0h1m-0.5 0h1m-0.5 0h1m-0.5 0h1m-0.5 0h1m-0.5 0h1m0 0h1m-0.5 0h1m-0.5 0h1m-0.5 0h1m-0.5 0h1m-0.5 0h1m-0.5 0h1m-0.5 0h1m-0.5 0h1m-0.5 0h1m-0.5 0h1m-0.5 0h1m-0.5 0h1m-0.5 0h1m-0.5 0h1m-0.5 0h1m-0.5 0h1m-0.5 0h1m-0.5 0h1m-0.5 0h1m-0.5 0h1m-0.5 0h1m0.5 0h1m-0.5 0h1m1 0h1m-26.5 0.5h1m0 0h1m0 0h1m0 0h1m-0.5 0h1m0 0h1m-0.5 0h1m-0.5 0h1m-0.5 0h1m-0.5 0h1m-0.5 0h1m-0.5 0h1m-0.5 0h1m-0.5 0h1m-0.5 0h1m-0.5 0h1m-0.5 0h1m-0.5 0h1m-0.5 0h1m-0.5 0h1m-0.5 0h1m-0.5 0h1m-0.5 0h1m-0.5 0h1m-0.5 0h1m-0.5 0h1m-0.5 0h1m-0.5 0h1m-0.5 0h1m-0.5 0h1m-0.5 0h1m-0.5 0h1m-0.5 0h1m-0.5 0h1m0 0h1m-0.5 0h1m-0.5 0h1m-0.5 0h1m-0.5 0h1m-0.5 0h1m-0.5 0h1m-23 0.5h1m-0.5 0h1m-0.5 0h1m-0.5 0h1m-0.5 0h1m-0.5 0h1m-0.5 0h1m-0.5 0h1m-0.5 0h1m0 0h1m-0.5 0h1m-0.5 0h1m-0.5 0h1m-0.5 0h1m0.5 0h1m-0.5 0h1m0 0h1m-0.5 0h1m-0.5 0h1m-0.5 0h1m0 0h1m-0.5 0h1m-0.5 0h1m-0.5 0h1m-0.5 0h1m-0.5 0h1m-0.5 0h1m-0.5 0h1m-0.5 0h1m-0.5 0h1m-0.5 0h1m-0.5 0h1m-0.5 0h1m-0.5 0h1m-0.5 0h1m-0.5 0h1m-0.5 0h1m-0.5 0h1m-0.5 0h1m0 0h1m0 0h1m-24.5 0.5h1m-0.5 0h1m-0.5 0h1m-0.5 0h1m0 0h1m-0.5 0h1m-0.5 0h1m0.5 0h1m-0.5 0h1m-0.5 0h1m-0.5 0h1m-0.5 0h1m0 0h1m0 0h1m-0.5 0h1m-0.5 0h1m-0.5 0h1m-0.5 0h1m-0.5 0h1m-0.5 0h1m-0.5 0h1m-0.5 0h1m0 0h1m-0.5 0h1m-0.5 0h1m-0.5 0h1m-0.5 0h1m-0.5 0h1m-0.5 0h1m-0.5 0h1m-0.5 0h1m-0.5 0h1m-0.5 0h1m-0.5 0h1m0 0h1m0 0h1m-23.5 0.5h1m0.5 0h1m-0.5 0h1m-0.5 0h1m0 0h1m-0.5 0h1m-0.5 0h1m-0.5 0h1m-0.5 0h1m-0.5 0h1m0 0h1m-0.5 0h1m-0.5 0h1m-0.5 0h1m-0.5 0h1m-0.5 0h1m-0.5 0h1m-0.5 0h1m-0.5 0h1m-0.5 0h1m-0.5 0h1m0.5 0h1m-0.5 0h1m-0.5 0h1m-0.5 0h1m-0.5 0h1m-0.5 0h1m-0.5 0h1m-0.5 0h1m-0.5 0h1m-0.5 0h1m-0.5 0h1m-0.5 0h1m-0.5 0h1m-0.5 0h1m-0.5 0h1m-0.5 0h1m-0.5 0h1m-0.5 0h1m0 0h1m0 0h1m-24.5 0.5h1m-0.5 0h1m-0.5 0h1m0 0h1m0.5 0h1m-0.5 0h1m-0.5 0h1m-0.5 0h1m-0.5 0h1m-0.5 0h1m-0.5 0h1m-0.5 0h1m-0.5 0h1m-0.5 0h1m-0.5 0h1m-0.5 0h1m-0.5 0h1m-0.5 0h1m-0.5 0h1m-0.5 0h1m-0.5 0h1m-0.5 0h1m-0.5 0h1m-0.5 0h1m-0.5 0h1m-0.5 0h1m-0.5 0h1m-0.5 0h1m-0.5 0h1m-0.5 0h1m-0.5 0h1m-0.5 0h1m-0.5 0h1m0 0h1m-0.5 0h1m-0.5 0h1m-0.5 0h1m-0.5 0h1m-0.5 0h1m0 0h1m1 0h1m-25 0.5h1m0.5 0h1m-0.5 0h1m-0.5 0h1m0 0h1m-0.5 0h1m-0.5 0h1m-0.5 0h1m-0.5 0h1m-0.5 0h1m-0.5 0h1m-0.5 0h1m-0.5 0h1m-0.5 0h1m-0.5 0h1m-0.5 0h1m-0.5 0h1m-0.5 0h1m-0.5 0h1m-0.5 0h1m-0.5 0h1m0 0h1m-0.5 0h1m-0.5 0h1m0 0h1m-0.5 0h1m-0.5 0h1m0 0h1m-0.5 0h1m-0.5 0h1m-0.5 0h1m-0.5 0h1m-0.5 0h1m-0.5 0h1m-0.5 0h1m-0.5 0h1m-0.5 0h1m-0.5 0h1m-0.5 0h1m-23 0.5h1m0 0h1m0 0h1m0 0h1m-0.5 0h1m-0.5 0h1m-0.5 0h1m-0.5 0h1m-0.5 0h1m-0.5 0h1m0 0h1m-0.5 0h1m-0.5 0h1m-0.5 0h1m-0.5 0h1m-0.5 0h1m-0.5 0h1m0.5 0h1m-0.5 0h1m0 0h1m-0.5 0h1m-0.5 0h1m-0.5 0h1m-0.5 0h1m-0.5 0h1m-0.5 0h1m-0.5 0h1m-0.5 0h1m-0.5 0h1m-0.5 0h1m-0.5 0h1m-0.5 0h1m-0.5 0h1m-0.5 0h1m-0.5 0h1m-0.5 0h1m-0.5 0h1m0.5 0h1m0.5 0h1m-26 0.5h1m0 0h1m-0.5 0h1m-0.5 0h1m-0.5 0h1m0 0h1m-0.5 0h1m-0.5 0h1m-0.5 0h1m-0.5 0h1m-0.5 0h1m-0.5 0h1m0 0h1m-0.5 0h1m0 0h1m-0.5 0h1m-0.5 0h1m-0.5 0h1m0 0h1m-0.5 0h1m0 0h1m-0.5 0h1m-0.5 0h1m-0.5 0h1m0 0h1m-0.5 0h1m-0.5 0h1m-0.5 0h1m-0.5 0h1m-0.5 0h1m-0.5 0h1m-0.5 0h1m-0.5 0h1m-0.5 0h1m-0.5 0h1m-0.5 0h1m0 0h1m-21 0.5h1m0 0h1m-0.5 0h1m-0.5 0h1m-0.5 0h1m-0.5 0h1m0 0h1m-0.5 0h1m-0.5 0h1m-0.5 0h1m-0.5 0h1m-0.5 0h1m-0.5 0h1m-0.5 0h1m0.5 0h1m-0.5 0h1m-0.5 0h1m0 0h1m-0.5 0h1m-0.5 0h1m-0.5 0h1m-0.5 0h1m-0.5 0h1m-0.5 0h1m-0.5 0h1m0 0h1m-0.5 0h1m-0.5 0h1m0 0h1m-0.5 0h1m-0.5 0h1m-0.5 0h1m-0.5 0h1m-0.5 0h1m2 0h1m-0.5 0h1m-26.5 0.5h1m-0.5 0h1m-0.5 0h1m-0.5 0h1m-0.5 0h1m-0.5 0h1m-0.5 0h1m-0.5 0h1m-0.5 0h1m-0.5 0h1m-0.5 0h1m0 0h1m0 0h1m0 0h1m-0.5 0h1m-0.5 0h1m-0.5 0h1m-0.5 0h1m-0.5 0h1m-0.5 0h1m-0.5 0h1m-0.5 0h1m-0.5 0h1m0 0h1m-0.5 0h1m-0.5 0h1m-0.5 0h1m-0.5 0h1m-0.5 0h1m0.5 0h1m-0.5 0h1m-0.5 0h1m-0.5 0h1m-0.5 0h1m-0.5 0h1m-0.5 0h1m-0.5 0h1m-0.5 0h1m-23.5 0.5h1m0.5 0h1m-0.5 0h1m-0.5 0h1m-0.5 0h1m-0.5 0h1m-0.5 0h1m-0.5 0h1m-0.5 0h1m-0.5 0h1m0 0h1m-0.5 0h1m-0.5 0h1m-0.5 0h1m-0.5 0h1m-0.5 0h1m-0.5 0h1m-0.5 0h1m-0.5 0h1m-0.5 0h1m-0.5 0h1m-0.5 0h1m0 0h1m-0.5 0h1m0 0h1m-0.5 0h1m-0.5 0h1m-0.5 0h1m-0.5 0h1m-0.5 0h1m0 0h1m-0.5 0h1m-0.5 0h1m-0.5 0h1m-0.5 0h1m-0.5 0h1m-0.5 0h1m-0.5 0h1m-19.5 0.5h1m2.5 0h1m2 0h1m9 0h1" fill="none" stroke="#5c5c5c" stroke-width="0.9" stroke-opacity="0.95"/>
<path d="m413.5 61.45h1m-3 2.5h1m-0.5 0h1m1.5 0h1m-4 0.5h1m-0.5 0h1m-4 0.5h1m0.5 0h1m0 0h1m-0.5 0h1m0 0h1m-3.5 0.5h1m0 0h1m-0.5 0h1m-0.5 0h1m0 0h1m-5 0.5h1m-0.5 0h1m-0.5 0h1m-0.5 0h1m-0.5 0h1m0 0h1m-6.5 0.5h1m-0.5 0h1m0 0h1m-0.5 0h1m-0.5 0h1m-0.5 0h1m0 0h1m0 0h1m-5.5 0.5h1m0 0h1m-0.5 0h1m-0.5 0h1m-0.5 0h1m-0.5 0h1m-0.5 0h1m0 0h1m0.5 0h1m-0.5 0h1m-8.5 0.5h1m-0.5 0h1m0.5 0h1m-0.5 0h1m0 0h1m0 0h1m-0.5 0h1m-0.5 0h1m-0.5 0h1m0 0h1m0 0h1m-7.5 0.5h1m-0.5 0h1m-0.5 0h1m-0.5 0h1m0 0h1m-0.5 0h1m-0.5 0h1m-0.5 0h1m-0.5 0h1m-0.5 0h1m0 0h1m-7.5 0.5h1m-0.5 0h1m-0.5 0h1m0 0h1m-0.5 0h1m-0.5 0h1m-0.5 0h1m-0.5 0h1m-0.5 0h1m0.5 0h1m-0.5 0h1m-10 0.5h1m0 0h1m0 0h1m-0.5 0h1m-0.5 0h1m0 0h1m-0.5 0h1m-0.5 0h1m-0.5 0h1m-0.5 0h1m-0.5 0h1m0 0h1m0.5 0h1m-10 0.5h1m0 0h1m0 0h1m-0.5 0h1m-0.5 0h1m-0.5 0h1m-0.5 0h1m-0.5 0h1m-0.5 0h1m-0.5 0h1m-0.5 0h1m-0.5 0h1m-0.5 0h1m-7.5 0.5h1m0 0h1m0 0h1m-0.5 0h1m-0.5 0h1m-0.5 0h1m-0.5 0h1m-0.5 0h1m-0.5 0h1m-0.5 0h1m-0.5 0h1m-0.5 0h1m-0.5 0h1m-7.5 0.5h1m-0.5 0h1m-0.5 0h1m-0.5 0h1m-0.5 0h1m-0.5 0h1m-0.5 0h1m0 0h1m-0.5 0h1m-0.5 0h1m-0.5 0h1m-0.5 0h1m-0.5 0h1m-6.5 0.5h1m-0.5 0h1m-0.5 0h1m-0.5 0h1m-0.5 0h1m-0.5 0h1m-0.5 0h1m-0.5 0h1m-0.5 0h1m0 0h1m-0.5 0h1m-0.5 0h1m-9 0.5h1m-0.5 0h1m0 0h1m-0.5 0h1m-0.5 0h1m-0.5 0h1m-0.5 0h1m-0.5 0h1m-0.5 0h1m-0.5 0h1m-0.5 0h1m-0.5 0h1m-0.5 0h1m0 0h1m-0.5 0h1m-0.5 0h1m-11 0.5h1m0.5 0h1m0 0h1m-0.5 0h1m-0.5 0h1m-0.5 0h1m-0.5 0h1m-0.5 0h1m-0.5 0h1m-0.5 0h1m-0.5 0h1m0 0h1m-0.5 0h1m-0.5 0h1m0.5 0h1m-12.5 0.5h1m0.5 0h1m-0.5 0h1m0 0h1m0 0h1m-0.5 0h1m-0.5 0h1m0 0h1m-0.5 0h1m0 0h1m-0.5 0h1m-0.5 0h1m0 0h1m0.5 0h1m0 0h1m1.5 0h1m-12.5 0.5h1m-0.5 0h1m-0.5 0h1m0 0h1m-0.5 0h1m-0.5 0h1m-0.5 0h1m-0.5 0h1m-0.5 0h1m-0.5 0h1m-0.5 0h1m-0.5 0h1m-0.5 0h1m0 0h1m-0.5 0h1m-0.5 0h1m-12.5 0.5h1m0.5 0h1m-0.5 0h1m0 0h1m-0.5 0h1m0 0h1m-0.5 0h1m-0.5 0h1m-0.5 0h1m-0.5 0h1m-0.5 0h1m0 0h1m-0.5 0h1m-0.5 0h1m-0.5 0h1m0 0h1m0.5 0h1m-12 0.5h1m-0.5 0h1m0 0h1m-0.5 0h1m-0.5 0h1m-0.5 0h1m-0.5 0h1m-0.5 0h1m-0.5 0h1m-0.5 0h1m-0.5 0h1m-0.5 0h1m-0.5 0h1m-0.5 0h1m-0.5 0h1m1 0h1m-0.5 0h1m-13 0.5h1m0.5 0h1m0.5 0h1m0 0h1m-0.5 0h1m-0.5 0h1m-0.5 0h1m-0.5 0h1m-0.5 0h1m-0.5 0h1m-0.5 0h1m-0.5 0h1m-0.5 0h1m-0.5 0h1m-0.5 0h1m-0.5 0h1m-0.5 0h1m-0.5 0h1m0 0h1m0.5 0h1m-0.5 0h1m-14.5 0.5h1m0.5 0h1m-0.5 0h1m-0.5 0h1m-0.5 0h1m-0.5 0h1m-0.5 0h1m0 0h1m-0.5 0h1m-0.5 0h1m-0.5 0h1m-0.5 0h1m-0.5 0h1m-0.5 0h1m-0.5 0h1m-0.5 0h1m0 0h1m-0.5 0h1m-0.5 0h1m0 0h1m-12 0.5h1m0 0h1m-0.5 0h1m-0.5 0h1m-0.5 0h1m-0.5 0h1m-0.5 0h1m-0.5 0h1m-0.5 0h1m-0.5 0h1m-0.5 0h1m-0.5 0h1m-0.5 0h1m-0.5 0h1m-0.5 0h1m0 0h1m0.5 0h1m-11.5 0.5h1m0.5 0h1m-0.5 0h1m0 0h1m-0.5 0h1m-0.5 0h1m-0.5 0h1m-0.5 0h1m-0.5 0h1m-0.5 0h1m-0.5 0h1m0 0h1m-0.5 0h1m-0.5 0h1m0 0h1m-0.5 0h1m-0.5 0h1m-14 0.5h1m0 0h1m0 0h1m-0.5 0h1m0 0h1m0 0h1m-0.5 0h1m-0.5 0h1m-0.5 0h1m-0.5 0h1m-0.5 0h1m-0.5 0h1m-0.5 0h1m-0.5 0h1m-0.5 0h1m-0.5 0h1m-0.5 0h1m-0.5 0h1m-0.5 0h1m-0.5 0h1m-0.5 0h1m-0.5 0h1m0.5 0h1m-11 0.5h1m-0.5 0h1m-0.5 0h1m-0.5 0h1m-0.5 0h1m-0.5 0h1m0 0h1m-0.5 0h1m-0.5 0h1m-0.5 0h1m-0.5 0h1m-0.5 0h1m-0.5 0h1m-0.5 0h1m0 0h1m-0.5 0h1m-0.5 0h1m1 0h1m-16 0.5h1m0 0h1m0 0h1m-0.5 0h1m-0.5 0h1m-0.5 0h1m0 0h1m-0.5 0h1m-0.5 0h1m-0.5 0h1m-0.5 0h1m-0.5 0h1m-0.5 0h1m-0.5 0h1m-0.5 0h1m0 0h1m-0.5 0h1m-0.5 0h1m-0.5 0h1m-0.5 0h1m-0.5 0h1m-0.5 0h1m0.5 0h1m-15.5 0.5h1m0 0h1m0 0h1m-0.5 0h1m1 0h1m-0.5 0h1m-0.5 0h1m-0.5 0h1m-0.5 0h1m-0.5 0h1m-0.5 0h1m-0.5 0h1m-0.5 0h1m-0.5 0h1m-0.5 0h1m-0.5 0h1m-0.5 0h1m-0.5 0h1m-0.5 0h1m-0.5 0h1m0 0h1m0 0h1m-17.5 0.5h1m2 0h1m-0.5 0h1m0 0h1m-0.5 0h1m-0.5 0h1m1 0h1m-0.5 0h1m-0.5 0h1m-0.5 0h1m-0.5 0h1m-0.5 0h1m-0.5 0h1m-0.5 0h1m-0.5 0h1m-0.5 0h1m0 0h1m0 0h1m0 0h1m0 0h1m-0.5 0h1m0 0h1m-0.5 0h1m-17 0.5h1m1 0h1m-0.5 0h1m-0.5 0h1m-0.5 0h1m-0.5 0h1m-0.5 0h1m-0.5 0h1m-0.5 0h1m-0.5 0h1m-0.5 0h1m-0.5 0h1m-0.5 0h1m-0.5 0h1m-0.5 0h1m-0.5 0h1m-0.5 0h1m-0.5 0h1m-0.5 0h1m-0.5 0h1m0 0h1m0 0h1m-0.5 0h1m0 0h1m-15 0.5h1m0 0h1m-0.5 0h1m0 0h1m0 0h1m-0.5 0h1m0 0h1m-0.5 0h1m-0.5 0h1m-0.5 0h1m-0.5 0h1m-0.5 0h1m-0.5 0h1m-0.5 0h1m-0.5 0h1m-0.5 0h1m-0.5 0h1m-0.5 0h1m-0.5 0h1m-0.5 0h1m-0.5 0h1m0 0h1m0.5 0h1m-0.5 0h1m-15 0.5h1m-0.5 0h1m0 0h1m0 0h1m0 0h1m0 0h1m-0.5 0h1m-0.5 0h1m-0.5 0h1m-0.5 0h1m0 0h1m-0.5 0h1m-0.5 0h1m0 0h1m-0.5 0h1m-0.5 0h1m-0.5 0h1m0 0h1m1 0h1m-19 0.5h1m0.5 0h1m2.5 0h1m-0.5 0h1m-0.5 0h1m-0.5 0h1m0 0h1m-0.5 0h1m-0.5 0h1m-0.5 0h1m-0.5 0h1m-0.5 0h1m-0.5 0h1m-0.5 0h1m-0.5 0h1m0.5 0h1m0 0h1m-0.5 0h1m0.5 0h1m0.5 0h1m-0.5 0h1m-0.5 0h1m-18.5 0.5h1m2 0h1m0 0h1m-0.5 0h1m-0.5 0h1m0 0h1m-0.5 0h1m-0.5 0h1m-0.5 0h1m-0.5 0h1m-0.5 0h1m-0.5 0h1m-0.5 0h1m-0.5 0h1m-0.5 0h1m-0.5 0h1m-0.5 0h1m-0.5 0h1m0 0h1m-0.5 0h1m-0.5 0h1m-0.5 0h1m0 0h1m-0.5 0h1m0 0h1m-0.5 0h1m-15 0.5h1m0 0h1m-0.5 0h1m-0.5 0h1m-0.5 0h1m0 0h1m0.5 0h1m-0.5 0h1m-0.5 0h1m-0.5 0h1m-0.5 0h1m-0.5 0h1m0 0h1m-0.5 0h1m1 0h1m-0.5 0h1m-0.5 0h1m0 0h1m0 0h1m-21 0.5h1m3.5 0h1m-0.5 0h1m-0.5 0h1m-0.5 0h1m-0.5 0h1m-0.5 0h1m-0.5 0h1m-0.5 0h1m-0.5 0h1m-0.5 0h1m-0.5 0h1m-0.5 0h1m-0.5 0h1m-0.5 0h1m-0.5 0h1m-0.5 0h1m-0.5 0h1m-0.5 0h1m-0.5 0h1m-0.5 0h1m-0.5 0h1m-0.5 0h1m0 0h1m-0.5 0h1m0 0h1m1.5 0h1m-18 0.5h1m0.5 0h1m-0.5 0h1m-0.5 0h1m0.5 0h1m0 0h1m-0.5 0h1m-0.5 0h1m-0.5 0h1m-0.5 0h1m-0.5 0h1m-0.5 0h1m-0.5 0h1m0 0h1m0 0h1m-0.5 0h1m-0.5 0h1m-0.5 0h1m0.5 0h1m-0.5 0h1m-0.5 0h1m-0.5 0h1m-17.5 0.5h1m0 0h1m-0.5 0h1m-0.5 0h1m-0.5 0h1m-0.5 0h1m-0.5 0h1m-0.5 0h1m0 0h1m-0.5 0h1m0.5 0h1m-0.5 0h1m-0.5 0h1m-0.5 0h1m-0.5 0h1m-0.5 0h1m-0.5 0h1m0 0h1m-0.5 0h1m-0.5 0h1m-0.5 0h1m-0.5 0h1m-0.5 0h1m-0.5 0h1m-0.5 0h1m0 0h1m-0.5 0h1m0.5 0h1m1 0h1m-20 0.5h1m0 0h1m0.5 0h1m0 0h1m-0.5 0h1m-0.5 0h1m-0.5 0h1m-0.5 0h1m-0.5 0h1m-0.5 0h1m-0.5 0h1m-0.5 0h1m-0.5 0h1m-0.5 0h1m-0.5 0h1m0 0h1m-0.5 0h1m-0.5 0h1m-0.5 0h1m-0.5 0h1m-0.5 0h1m-0.5 0h1m-0.5 0h1m1.5 0h1m-16.5 0.5h1m-0.5 0h1m-0.5 0h1m2 0h1m-0.5 0h1m-0.5 0h1m0 0h1m0 0h1m-0.5 0h1m-0.5 0h1m0.5 0h1m0 0h1m-0.5 0h1m-0.5 0h1m-0.5 0h1m-0.5 0h1m-0.5 0h1m-0.5 0h1m-0.5 0h1m0.5 0h1m-18 0.5h1m0.5 0h1m0.5 0h1m0 0h1m0 0h1m0 0h1m0 0h1m-0.5 0h1m-0.5 0h1m0 0h1m0 0h1m0.5 0h1m-0.5 0h1m-0.5 0h1m-0.5 0h1m0 0h1m0.5 0h1m2.5 0h1m-19 0.5h1m0 0h1m-0.5 0h1m0 0h1m2 0h1m-0.5 0h1m0 0h1m-0.5 0h1m-0.5 0h1m0 0h1m0 0h1m-0.5 0h1m-0.5 0h1m0.5 0h1m0.5 0h1m-11 0.5h1m1 0h1m0.5 0h1m0.5 0h1m1.5 0h1m-0.5 0h1m-13 0.5h1m0.5 0h1m4.5 0h1m3 0h1m0 0h1m2 1h1m-11 1h1" fill="none" stroke="#5c5c5c" stroke-width="0.9" stroke-opacity="0.92"/>
<path d="m410.5 63.45h1m-4 4h1m-2.5 0.5h1m1 0h1m-9.5 0.5h1m9 1h1m-6 0.5h1m1.5 0h1m-8 1h1m4 0h1m-10.5 1h1m5 0h1m5 0h1m2 0h1m-9 0.5h1m3.5 0h1m0.5 0h1m-9.5 0.5h1m7.5 0h1m-14.5 0.5h1m3.5 0h1m1 0h1m6.5 0h1m-11 0.5h1m11 0h1m2.5 0h1m-14 0.5h1m1.5 0h1m4.5 0h1m-5.5 0.5h1m3 0h1m0.5 0h1m-17.5 0.5h1m6 0h1m5 0h1m-6 0.5h1m1.5 0h1m-9 0.5h1m4.5 0h1m0.5 0h1m1.5 0h1m-3.5 0.5h1m0 0h1m0 0h1m3.5 0h1m1 0h1m-2.5 0.5h1m-7 0.5h1m-0.5 0h1m3.5 0h1m-15.5 0.5h1m0.5 0h1m7 0h1m1 0h1m8 0h1m-18.5 0.5h1m13 0h1m-11 0.5h1m-8 0.5h1m3 0h1m2.5 0h1m-0.5 0h1m0 0h1m2 0h1m1 0h1m-16 0.5h1m4 0h1m1 0h1m7.5 0.5h1m-15.5 0.5h1m5 0h1m9.5 0h1m-11.5 0.5h1m7.5 0h1m-8 0.5h1m6 0h1m0.5 0h1m0 0h1m-9.5 0.5h1m2 0h1m2 0h1m-15 0.5h1m17.5 0h1m-8 0.5h1m2.5 0h1m-14.5 1h1m5.5 0h1m2.5 0h1m1.5 0h1m0.5 0h1m-9 0.5h1m1 0.5h1m-0.5 0.5h1m8 0.5h1m-21 0.5h1m12.5 0h1m0 0h1m2 0h1m-6.5 1h1" fill="none" stroke="#777" stroke-width="0.9" stroke-opacity="0.7"/>
<rect x="393.00" y="57.80" width="28.50" height="31.40" fill="none" stroke="#2a2a2a" stroke-width="1.0"/>
<text x="392.50" y="49.26" textLength="49" lengthAdjust="spacingAndGlyphs" font-family="Liberation Serif" font-size="12.3" fill="#111">DC + DPI</text>
<text x="423.80" y="78.60" textLength="30" lengthAdjust="spacingAndGlyphs" font-family="Liberation Serif" font-size="10.3" fill="#222">13,76%</text>
<text x="382.20" y="120.90" text-anchor="middle" font-family="Liberation Sans" font-size="5.2" fill="#111" stroke="#111" stroke-width="0.2">10<tspan dx="0.7" dy="-2.4" font-size="4.5">0</tspan></text>
<text x="398.50" y="120.90" text-anchor="middle" font-family="Liberation Sans" font-size="5.2" fill="#111" stroke="#111" stroke-width="0.2">10<tspan dx="0.7" dy="-2.4" font-size="4.5">1</tspan></text>
<text x="415.30" y="120.90" text-anchor="middle" font-family="Liberation Sans" font-size="5.2" fill="#111" stroke="#111" stroke-width="0.2">10<tspan dx="0.7" dy="-2.4" font-size="4.5">2</tspan></text>
<text x="432.00" y="120.90" text-anchor="middle" font-family="Liberation Sans" font-size="5.2" fill="#111" stroke="#111" stroke-width="0.2">10<tspan dx="0.7" dy="-2.4" font-size="4.5">3</tspan></text>
<text x="448.00" y="120.90" text-anchor="middle" font-family="Liberation Sans" font-size="5.2" fill="#111" stroke="#111" stroke-width="0.2">10<tspan dx="0.7" dy="-2.4" font-size="4.5">4</tspan></text>
<text transform="translate(283.36,82.20) rotate(-90)" text-anchor="middle" textLength="76" lengthAdjust="spacingAndGlyphs" font-family="Liberation Serif" font-size="12.3" fill="#111">FluoProbes 647</text>
<text x="360.00" y="136.66" textLength="25.5" lengthAdjust="spacingAndGlyphs" font-family="Liberation Serif" font-size="12.3" fill="#111">FITC</text>
<clipPath id="clA"><rect x="72" y="180" width="180" height="120.7"/></clipPath>
<line x1="71.80" y1="186.00" x2="71.80" y2="298.80" stroke="#c4c4c4" stroke-width="1"/>
<line x1="71.80" y1="298.80" x2="248.80" y2="298.80" stroke="#c4c4c4" stroke-width="1"/>
<text x="65.80" y="302.11" text-anchor="end" font-family="Liberation Sans" font-size="8.4" fill="#111" stroke="#111" stroke-width="0.12">0</text>
<text x="65.80" y="279.86" text-anchor="end" font-family="Liberation Sans" font-size="8.4" fill="#111" stroke="#111" stroke-width="0.12">100</text>
<text x="65.80" y="257.61" text-anchor="end" font-family="Liberation Sans" font-size="8.4" fill="#111" stroke="#111" stroke-width="0.12">200</text>
<text x="65.80" y="235.36" text-anchor="end" font-family="Liberation Sans" font-size="8.4" fill="#111" stroke="#111" stroke-width="0.12">300</text>
<text x="65.80" y="213.11" text-anchor="end" font-family="Liberation Sans" font-size="8.4" fill="#111" stroke="#111" stroke-width="0.12">400</text>
<text x="65.80" y="190.86" text-anchor="end" font-family="Liberation Sans" font-size="8.4" fill="#111" stroke="#111" stroke-width="0.12">500</text>
<line x1="107.20" y1="298.80" x2="107.20" y2="300.80" stroke="#c4c4c4" stroke-width="0.8"/>
<line x1="143.00" y1="298.80" x2="143.00" y2="300.80" stroke="#c4c4c4" stroke-width="0.8"/>
<line x1="178.20" y1="298.80" x2="178.20" y2="300.80" stroke="#c4c4c4" stroke-width="0.8"/>
<line x1="213.30" y1="298.80" x2="213.30" y2="300.80" stroke="#c4c4c4" stroke-width="0.8"/>
<line x1="248.80" y1="298.80" x2="248.80" y2="300.80" stroke="#c4c4c4" stroke-width="0.8"/>
<path d="M89.50 298.60C96.01 298.64 112.17 306.70 125.00 298.80C137.83 290.90 146.67 271.54 159.50 255.50C172.33 239.46 185.14 221.57 195.00 211.30C204.86 201.03 206.79 202.03 213.30 199.50C219.81 196.97 227.35 197.87 230.50 197.50" fill="none" stroke="#1a1a1a" stroke-width="0.9" clip-path="url(#clA)"/>
<path d="M89.50 298.60C96.01 298.64 112.17 309.09 125.00 298.80C137.83 288.51 146.67 258.54 159.50 242.50C172.33 226.46 185.14 217.13 195.00 211.30C204.86 205.47 206.79 210.42 213.30 210.70C219.81 210.97 227.35 212.42 230.50 212.80" fill="none" stroke="#1a1a1a" stroke-width="0.9" clip-path="url(#clA)"/>
<line x1="159.50" y1="233.80" x2="159.50" y2="277.50" stroke="#1a1a1a" stroke-width="0.85"/>
<line x1="157.60" y1="233.80" x2="161.40" y2="233.80" stroke="#1a1a1a" stroke-width="0.85"/>
<line x1="157.60" y1="277.50" x2="161.40" y2="277.50" stroke="#1a1a1a" stroke-width="0.85"/>
<line x1="159.50" y1="214.50" x2="159.50" y2="271.80" stroke="#1a1a1a" stroke-width="0.85"/>
<line x1="157.60" y1="214.50" x2="161.40" y2="214.50" stroke="#1a1a1a" stroke-width="0.85"/>
<line x1="157.60" y1="271.80" x2="161.40" y2="271.80" stroke="#1a1a1a" stroke-width="0.85"/>
<line x1="195.00" y1="193.80" x2="195.00" y2="227.50" stroke="#1a1a1a" stroke-width="0.95"/>
<line x1="192.90" y1="193.80" x2="197.10" y2="193.80" stroke="#1a1a1a" stroke-width="0.95"/>
<line x1="192.90" y1="227.50" x2="197.10" y2="227.50" stroke="#1a1a1a" stroke-width="0.95"/>
<line x1="213.30" y1="187.00" x2="213.30" y2="221.20" stroke="#1a1a1a" stroke-width="0.85"/>
<line x1="211.20" y1="187.00" x2="215.40" y2="187.00" stroke="#1a1a1a" stroke-width="0.85"/>
<line x1="211.20" y1="221.20" x2="215.40" y2="221.20" stroke="#1a1a1a" stroke-width="0.85"/>
<line x1="230.50" y1="191.30" x2="230.50" y2="203.80" stroke="#1a1a1a" stroke-width="0.85"/>
<line x1="228.60" y1="191.30" x2="232.40" y2="191.30" stroke="#1a1a1a" stroke-width="0.85"/>
<line x1="228.60" y1="203.80" x2="232.40" y2="203.80" stroke="#1a1a1a" stroke-width="0.85"/>
<line x1="230.50" y1="207.00" x2="230.50" y2="218.30" stroke="#1a1a1a" stroke-width="0.85"/>
<line x1="228.60" y1="207.00" x2="232.40" y2="207.00" stroke="#1a1a1a" stroke-width="0.85"/>
<line x1="228.60" y1="218.30" x2="232.40" y2="218.30" stroke="#1a1a1a" stroke-width="0.85"/>
<circle cx="89.50" cy="298.60" r="1.6" fill="#111" stroke="none" stroke-width="0.7"/>
<circle cx="125.00" cy="298.80" r="1.6" fill="#111" stroke="none" stroke-width="0.7"/>
<circle cx="159.50" cy="255.50" r="1.6" fill="#111" stroke="none" stroke-width="0.7"/>
<circle cx="195.00" cy="211.30" r="1.6" fill="#111" stroke="none" stroke-width="0.7"/>
<circle cx="213.30" cy="199.50" r="1.6" fill="#111" stroke="none" stroke-width="0.7"/>
<circle cx="230.50" cy="197.50" r="1.6" fill="#111" stroke="none" stroke-width="0.7"/>
<circle cx="125.00" cy="298.80" r="1.25" fill="#3a3a3a" stroke="#111" stroke-width="0.6"/>
<circle cx="159.50" cy="242.50" r="1.25" fill="#3a3a3a" stroke="#111" stroke-width="0.6"/>
<circle cx="195.00" cy="211.30" r="1.25" fill="#3a3a3a" stroke="#111" stroke-width="0.6"/>
<circle cx="213.30" cy="210.70" r="1.25" fill="#3a3a3a" stroke="#111" stroke-width="0.6"/>
<circle cx="230.50" cy="212.80" r="1.25" fill="#3a3a3a" stroke="#111" stroke-width="0.6"/>
<text x="73.40" y="313.91" text-anchor="middle" font-family="Liberation Sans" font-size="8.4" fill="#111" stroke="#111" stroke-width="0.12">0,0001</text>
<text x="106.90" y="313.91" text-anchor="middle" font-family="Liberation Sans" font-size="8.4" fill="#111" stroke="#111" stroke-width="0.12">0,001</text>
<text x="143.00" y="313.91" text-anchor="middle" font-family="Liberation Sans" font-size="8.4" fill="#111" stroke="#111" stroke-width="0.12">0,01</text>
<text x="178.20" y="313.91" text-anchor="middle" font-family="Liberation Sans" font-size="8.4" fill="#111" stroke="#111" stroke-width="0.12">0,1</text>
<text x="213.30" y="313.91" text-anchor="middle" font-family="Liberation Sans" font-size="8.4" fill="#111" stroke="#111" stroke-width="0.12">1</text>
<text x="248.80" y="313.91" text-anchor="middle" font-family="Liberation Sans" font-size="8.4" fill="#111" stroke="#111" stroke-width="0.12">10</text>
<line x1="81.20" y1="199.50" x2="95.00" y2="199.50" stroke="#1a1a1a" stroke-width="0.9"/>
<circle cx="88.00" cy="199.50" r="1.45" fill="#111" stroke="none" stroke-width="0.7"/>
<line x1="81.20" y1="213.30" x2="95.00" y2="213.30" stroke="#1a1a1a" stroke-width="0.9"/>
<circle cx="88.00" cy="213.30" r="1.2" fill="#555" stroke="#111" stroke-width="0.6"/>
<text x="98.80" y="202.98" textLength="47.4" lengthAdjust="spacingAndGlyphs" font-family="Liberation Sans" font-size="10" fill="#000" stroke="#000" stroke-width="0.18">control DC</text>
<text x="98.80" y="216.78" textLength="43" lengthAdjust="spacingAndGlyphs" font-family="Liberation Sans" font-size="10" fill="#000" stroke="#000" stroke-width="0.18">DC + DPI</text>
<text transform="translate(39.76,236.30) rotate(-90)" text-anchor="middle" textLength="72.5" lengthAdjust="spacingAndGlyphs" font-family="Liberation Serif" font-size="12.6" fill="#000" stroke="#000" stroke-width="0.3">γ-IFN (pg/mL)</text>
<text x="78.80" y="334.89" textLength="161.2" lengthAdjust="spacingAndGlyphs" font-family="Liberation Serif" font-size="13" fill="#111">short  peptide concentration (uM)</text>
<rect x="44.70" y="368.00" width="100.70" height="83.00" fill="none" stroke="#555" stroke-width="0.9"/>
<line x1="44.70" y1="451.00" x2="44.70" y2="448.80" stroke="#333" stroke-width="0.5"/>
<line x1="52.28" y1="451.00" x2="52.28" y2="449.90" stroke="#333" stroke-width="0.5"/>
<line x1="56.71" y1="451.00" x2="56.71" y2="449.90" stroke="#333" stroke-width="0.5"/>
<line x1="59.86" y1="451.00" x2="59.86" y2="449.90" stroke="#333" stroke-width="0.5"/>
<line x1="62.30" y1="451.00" x2="62.30" y2="449.90" stroke="#333" stroke-width="0.5"/>
<line x1="64.29" y1="451.00" x2="64.29" y2="449.90" stroke="#333" stroke-width="0.5"/>
<line x1="65.98" y1="451.00" x2="65.98" y2="449.90" stroke="#333" stroke-width="0.5"/>
<line x1="67.44" y1="451.00" x2="67.44" y2="449.90" stroke="#333" stroke-width="0.5"/>
<line x1="68.72" y1="451.00" x2="68.72" y2="449.90" stroke="#333" stroke-width="0.5"/>
<line x1="69.88" y1="451.00" x2="69.88" y2="448.80" stroke="#333" stroke-width="0.5"/>
<line x1="77.45" y1="451.00" x2="77.45" y2="449.90" stroke="#333" stroke-width="0.5"/>
<line x1="81.89" y1="451.00" x2="81.89" y2="449.90" stroke="#333" stroke-width="0.5"/>
<line x1="85.03" y1="451.00" x2="85.03" y2="449.90" stroke="#333" stroke-width="0.5"/>
<line x1="87.47" y1="451.00" x2="87.47" y2="449.90" stroke="#333" stroke-width="0.5"/>
<line x1="89.46" y1="451.00" x2="89.46" y2="449.90" stroke="#333" stroke-width="0.5"/>
<line x1="91.15" y1="451.00" x2="91.15" y2="449.90" stroke="#333" stroke-width="0.5"/>
<line x1="92.61" y1="451.00" x2="92.61" y2="449.90" stroke="#333" stroke-width="0.5"/>
<line x1="93.90" y1="451.00" x2="93.90" y2="449.90" stroke="#333" stroke-width="0.5"/>
<line x1="95.05" y1="451.00" x2="95.05" y2="448.80" stroke="#333" stroke-width="0.5"/>
<line x1="102.63" y1="451.00" x2="102.63" y2="449.90" stroke="#333" stroke-width="0.5"/>
<line x1="107.06" y1="451.00" x2="107.06" y2="449.90" stroke="#333" stroke-width="0.5"/>
<line x1="110.21" y1="451.00" x2="110.21" y2="449.90" stroke="#333" stroke-width="0.5"/>
<line x1="112.65" y1="451.00" x2="112.65" y2="449.90" stroke="#333" stroke-width="0.5"/>
<line x1="114.64" y1="451.00" x2="114.64" y2="449.90" stroke="#333" stroke-width="0.5"/>
<line x1="116.33" y1="451.00" x2="116.33" y2="449.90" stroke="#333" stroke-width="0.5"/>
<line x1="117.79" y1="451.00" x2="117.79" y2="449.90" stroke="#333" stroke-width="0.5"/>
<line x1="119.07" y1="451.00" x2="119.07" y2="449.90" stroke="#333" stroke-width="0.5"/>
<line x1="120.23" y1="451.00" x2="120.23" y2="448.80" stroke="#333" stroke-width="0.5"/>
<line x1="127.80" y1="451.00" x2="127.80" y2="449.90" stroke="#333" stroke-width="0.5"/>
<line x1="132.24" y1="451.00" x2="132.24" y2="449.90" stroke="#333" stroke-width="0.5"/>
<line x1="135.38" y1="451.00" x2="135.38" y2="449.90" stroke="#333" stroke-width="0.5"/>
<line x1="137.82" y1="451.00" x2="137.82" y2="449.90" stroke="#333" stroke-width="0.5"/>
<line x1="139.81" y1="451.00" x2="139.81" y2="449.90" stroke="#333" stroke-width="0.5"/>
<line x1="141.50" y1="451.00" x2="141.50" y2="449.90" stroke="#333" stroke-width="0.5"/>
<line x1="142.96" y1="451.00" x2="142.96" y2="449.90" stroke="#333" stroke-width="0.5"/>
<line x1="144.25" y1="451.00" x2="144.25" y2="449.90" stroke="#333" stroke-width="0.5"/>
<line x1="145.40" y1="451.00" x2="145.40" y2="448.80" stroke="#333" stroke-width="0.5"/>
<line x1="44.70" y1="451.00" x2="46.90" y2="451.00" stroke="#333" stroke-width="0.5"/>
<line x1="44.70" y1="444.75" x2="45.80" y2="444.75" stroke="#333" stroke-width="0.5"/>
<line x1="44.70" y1="441.10" x2="45.80" y2="441.10" stroke="#333" stroke-width="0.5"/>
<line x1="44.70" y1="438.51" x2="45.80" y2="438.51" stroke="#333" stroke-width="0.5"/>
<line x1="44.70" y1="436.50" x2="45.80" y2="436.50" stroke="#333" stroke-width="0.5"/>
<line x1="44.70" y1="434.85" x2="45.80" y2="434.85" stroke="#333" stroke-width="0.5"/>
<line x1="44.70" y1="433.46" x2="45.80" y2="433.46" stroke="#333" stroke-width="0.5"/>
<line x1="44.70" y1="432.26" x2="45.80" y2="432.26" stroke="#333" stroke-width="0.5"/>
<line x1="44.70" y1="431.20" x2="45.80" y2="431.20" stroke="#333" stroke-width="0.5"/>
<line x1="44.70" y1="430.25" x2="46.90" y2="430.25" stroke="#333" stroke-width="0.5"/>
<line x1="44.70" y1="424.00" x2="45.80" y2="424.00" stroke="#333" stroke-width="0.5"/>
<line x1="44.70" y1="420.35" x2="45.80" y2="420.35" stroke="#333" stroke-width="0.5"/>
<line x1="44.70" y1="417.76" x2="45.80" y2="417.76" stroke="#333" stroke-width="0.5"/>
<line x1="44.70" y1="415.75" x2="45.80" y2="415.75" stroke="#333" stroke-width="0.5"/>
<line x1="44.70" y1="414.10" x2="45.80" y2="414.10" stroke="#333" stroke-width="0.5"/>
<line x1="44.70" y1="412.71" x2="45.80" y2="412.71" stroke="#333" stroke-width="0.5"/>
<line x1="44.70" y1="411.51" x2="45.80" y2="411.51" stroke="#333" stroke-width="0.5"/>
<line x1="44.70" y1="410.45" x2="45.80" y2="410.45" stroke="#333" stroke-width="0.5"/>
<line x1="44.70" y1="409.50" x2="46.90" y2="409.50" stroke="#333" stroke-width="0.5"/>
<line x1="44.70" y1="403.25" x2="45.80" y2="403.25" stroke="#333" stroke-width="0.5"/>
<line x1="44.70" y1="399.60" x2="45.80" y2="399.60" stroke="#333" stroke-width="0.5"/>
<line x1="44.70" y1="397.01" x2="45.80" y2="397.01" stroke="#333" stroke-width="0.5"/>
<line x1="44.70" y1="395.00" x2="45.80" y2="395.00" stroke="#333" stroke-width="0.5"/>
<line x1="44.70" y1="393.35" x2="45.80" y2="393.35" stroke="#333" stroke-width="0.5"/>
<line x1="44.70" y1="391.96" x2="45.80" y2="391.96" stroke="#333" stroke-width="0.5"/>
<line x1="44.70" y1="390.76" x2="45.80" y2="390.76" stroke="#333" stroke-width="0.5"/>
<line x1="44.70" y1="389.70" x2="45.80" y2="389.70" stroke="#333" stroke-width="0.5"/>
<line x1="44.70" y1="388.75" x2="46.90" y2="388.75" stroke="#333" stroke-width="0.5"/>
<line x1="44.70" y1="382.50" x2="45.80" y2="382.50" stroke="#333" stroke-width="0.5"/>
<line x1="44.70" y1="378.85" x2="45.80" y2="378.85" stroke="#333" stroke-width="0.5"/>
<line x1="44.70" y1="376.26" x2="45.80" y2="376.26" stroke="#333" stroke-width="0.5"/>
<line x1="44.70" y1="374.25" x2="45.80" y2="374.25" stroke="#333" stroke-width="0.5"/>
<line x1="44.70" y1="372.60" x2="45.80" y2="372.60" stroke="#333" stroke-width="0.5"/>
<line x1="44.70" y1="371.21" x2="45.80" y2="371.21" stroke="#333" stroke-width="0.5"/>
<line x1="44.70" y1="370.01" x2="45.80" y2="370.01" stroke="#333" stroke-width="0.5"/>
<line x1="44.70" y1="368.95" x2="45.80" y2="368.95" stroke="#333" stroke-width="0.5"/>
<line x1="70.60" y1="368.00" x2="70.60" y2="451.00" stroke="#333" stroke-width="0.9"/>
<line x1="44.70" y1="422.50" x2="145.40" y2="422.50" stroke="#333" stroke-width="0.9"/>
<text x="49.20" y="364.16" textLength="93.8" lengthAdjust="spacingAndGlyphs" font-family="Liberation Serif" font-size="12.6" fill="#111">non-treated Mel888</text>
<text x="46.90" y="461.40" text-anchor="middle" font-family="Liberation Sans" font-size="6.3" fill="#111" stroke="#111" stroke-width="0.2">10<tspan dx="0.7" dy="-2.4" font-size="5.4">0</tspan></text>
<text x="71.00" y="461.40" text-anchor="middle" font-family="Liberation Sans" font-size="6.3" fill="#111" stroke="#111" stroke-width="0.2">10<tspan dx="0.7" dy="-2.4" font-size="5.4">1</tspan></text>
<text x="95.00" y="461.40" text-anchor="middle" font-family="Liberation Sans" font-size="6.3" fill="#111" stroke="#111" stroke-width="0.2">10<tspan dx="0.7" dy="-2.4" font-size="5.4">2</tspan></text>
<text x="120.00" y="461.40" text-anchor="middle" font-family="Liberation Sans" font-size="6.3" fill="#111" stroke="#111" stroke-width="0.2">10<tspan dx="0.7" dy="-2.4" font-size="5.4">3</tspan></text>
<text x="144.70" y="461.40" text-anchor="middle" font-family="Liberation Sans" font-size="6.3" fill="#111" stroke="#111" stroke-width="0.2">10<tspan dx="0.7" dy="-2.4" font-size="5.4">4</tspan></text>
<path d="m71 426.45h1m6 3.5h1m-15.5 0.5h1m1 0h1m0.5 0h1m-6 0.5h1m12 0h1m-12 0.5h1m0.5 0h1m-0.5 0h1m4.5 0h1m4 0h1m0 0h1m-17.5 0.5h1m0 0h1m1.5 0h1m0 0h1m0 0h1m2.5 0h1m-15 0.5h1m1.5 0h1m2.5 0h1m3 0h1m-0.5 0h1m0 0h1m0 0h1m9 0h1m-28.5 0.5h1m7 0h1m0.5 0h1m1 0h1m0 0h1m4 0h1m0.5 0h1m0 0h1m0 0h1m-0.5 0h1m6 0h1m-31 0.5h1m5.5 0h1m2.5 0h1m0.5 0h1m0 0h1m1 0h1m0 0h1m-0.5 0h1m-0.5 0h1m-0.5 0h1m1 0h1m0.5 0h1m-0.5 0h1m2.5 0h1m-17.5 0.5h1m2 0h1m0 0h1m0.5 0h1m-0.5 0h1m-0.5 0h1m0 0h1m0 0h1m0 0h1m0.5 0h1m-0.5 0h1m-0.5 0h1m-0.5 0h1m-0.5 0h1m-0.5 0h1m-0.5 0h1m-0.5 0h1m0 0h1m0 0h1m0 0h1m0 0h1m-18 0.5h1m-0.5 0h1m-0.5 0h1m1 0h1m0 0h1m0 0h1m-0.5 0h1m0 0h1m-0.5 0h1m0.5 0h1m-0.5 0h1m-0.5 0h1m0 0h1m0.5 0h1m-0.5 0h1m0 0h1m3.5 0h1m1.5 0h1m-24.5 0.5h1m1.5 0h1m1.5 0h1m1.5 0h1m-0.5 0h1m-0.5 0h1m-0.5 0h1m0 0h1m0 0h1m-0.5 0h1m0.5 0h1m-0.5 0h1m-0.5 0h1m0 0h1m0 0h1m0.5 0h1m0 0h1m5 0h1m-29.5 0.5h1m1.5 0h1m-0.5 0h1m0.5 0h1m0.5 0h1m0 0h1m0 0h1m-0.5 0h1m-0.5 0h1m0 0h1m0 0h1m0 0h1m0 0h1m0 0h1m-0.5 0h1m-0.5 0h1m-0.5 0h1m0 0h1m-0.5 0h1m0 0h1m-0.5 0h1m0 0h1m-0.5 0h1m-0.5 0h1m4.5 0h1m-0.5 0h1m-25.5 0.5h1m1.5 0h1m0 0h1m-0.5 0h1m0 0h1m-0.5 0h1m-0.5 0h1m-0.5 0h1m-0.5 0h1m-0.5 0h1m-0.5 0h1m0 0h1m-0.5 0h1m-0.5 0h1m0.5 0h1m-0.5 0h1m-0.5 0h1m-0.5 0h1m-0.5 0h1m0 0h1m-0.5 0h1m-0.5 0h1m0 0h1m-0.5 0h1m0 0h1m-0.5 0h1m0.5 0h1m-22 0.5h1m1 0h1m1 0h1m-0.5 0h1m-0.5 0h1m0 0h1m-0.5 0h1m0 0h1m0 0h1m-0.5 0h1m-0.5 0h1m-0.5 0h1m0 0h1m-0.5 0h1m-0.5 0h1m-0.5 0h1m-0.5 0h1m-0.5 0h1m-0.5 0h1m-0.5 0h1m-0.5 0h1m-0.5 0h1m-0.5 0h1m-0.5 0h1m-0.5 0h1m-0.5 0h1m-0.5 0h1m-0.5 0h1m-0.5 0h1m-0.5 0h1m0.5 0h1m-0.5 0h1m-0.5 0h1m0.5 0h1m1.5 0h1m0 0h1m1.5 0h1m-29.5 0.5h1m0 0h1m1 0h1m-0.5 0h1m0 0h1m0.5 0h1m0 0h1m0 0h1m-0.5 0h1m-0.5 0h1m-0.5 0h1m-0.5 0h1m0 0h1m-0.5 0h1m0 0h1m-0.5 0h1m-0.5 0h1m0 0h1m0 0h1m-0.5 0h1m0.5 0h1m0 0h1m-0.5 0h1m-0.5 0h1m-0.5 0h1m1 0h1m-26 0.5h1m2.5 0h1m-0.5 0h1m-0.5 0h1m-0.5 0h1m-0.5 0h1m-0.5 0h1m0 0h1m-0.5 0h1m-0.5 0h1m0 0h1m-0.5 0h1m-0.5 0h1m-0.5 0h1m-0.5 0h1m-0.5 0h1m0 0h1m-0.5 0h1m-0.5 0h1m0 0h1m-0.5 0h1m-0.5 0h1m-0.5 0h1m1 0h1m-0.5 0h1m-0.5 0h1m-0.5 0h1m-0.5 0h1m0 0h1m-0.5 0h1m1.5 0h1m0 0h1m5 0h1m-28.5 0.5h1m-0.5 0h1m0.5 0h1m0 0h1m-0.5 0h1m-0.5 0h1m-0.5 0h1m-0.5 0h1m-0.5 0h1m-0.5 0h1m-0.5 0h1m0 0h1m-0.5 0h1m-0.5 0h1m-0.5 0h1m-0.5 0h1m-0.5 0h1m-0.5 0h1m-0.5 0h1m-0.5 0h1m-0.5 0h1m-0.5 0h1m-0.5 0h1m0 0h1m-0.5 0h1m-0.5 0h1m-0.5 0h1m-0.5 0h1m0 0h1m0 0h1m0 0h1m1 0h1m-25 0.5h1m0 0h1m0.5 0h1m-0.5 0h1m1 0h1m-0.5 0h1m-0.5 0h1m-0.5 0h1m-0.5 0h1m-0.5 0h1m-0.5 0h1m-0.5 0h1m-0.5 0h1m-0.5 0h1m-0.5 0h1m-0.5 0h1m-0.5 0h1m-0.5 0h1m-0.5 0h1m0 0h1m-0.5 0h1m-0.5 0h1m-0.5 0h1m-0.5 0h1m-0.5 0h1m-0.5 0h1m-0.5 0h1m-0.5 0h1m-0.5 0h1m0 0h1m-0.5 0h1m0.5 0h1m0 0h1m-0.5 0h1m0 0h1m-0.5 0h1m1 0h1m-27 0.5h1m0 0h1m1 0h1m0 0h1m-0.5 0h1m0 0h1m-0.5 0h1m-0.5 0h1m-0.5 0h1m-0.5 0h1m0 0h1m-0.5 0h1m0 0h1m0 0h1m-0.5 0h1m-0.5 0h1m-0.5 0h1m-0.5 0h1m-0.5 0h1m-0.5 0h1m-0.5 0h1m0 0h1m-0.5 0h1m-0.5 0h1m-0.5 0h1m-0.5 0h1m0 0h1m2 0h1m-0.5 0h1m-0.5 0h1m1 0h1m-0.5 0h1m2.5 0h1m-29.5 0.5h1m0.5 0h1m1.5 0h1m-0.5 0h1m0 0h1m-0.5 0h1m-0.5 0h1m-0.5 0h1m-0.5 0h1m-0.5 0h1m-0.5 0h1m-0.5 0h1m0 0h1m-0.5 0h1m-0.5 0h1m-0.5 0h1m-0.5 0h1m-0.5 0h1m-0.5 0h1m-0.5 0h1m-0.5 0h1m-0.5 0h1m-0.5 0h1m-0.5 0h1m-0.5 0h1m-0.5 0h1m0 0h1m-0.5 0h1m-0.5 0h1m0 0h1m-0.5 0h1m0 0h1m-0.5 0h1m0 0h1m0.5 0h1m-27 0.5h1m0 0h1m0 0h1m-0.5 0h1m0.5 0h1m-0.5 0h1m0.5 0h1m0 0h1m-0.5 0h1m0 0h1m-0.5 0h1m-0.5 0h1m0 0h1m-0.5 0h1m-0.5 0h1m-0.5 0h1m-0.5 0h1m-0.5 0h1m-0.5 0h1m-0.5 0h1m-0.5 0h1m-0.5 0h1m-0.5 0h1m-0.5 0h1m-0.5 0h1m-0.5 0h1m-0.5 0h1m-0.5 0h1m-0.5 0h1m-0.5 0h1m-0.5 0h1m0 0h1m-0.5 0h1m-0.5 0h1m0.5 0h1m-0.5 0h1m-0.5 0h1m0 0h1m-0.5 0h1m-22.5 0.5h1m0 0h1m-0.5 0h1m-0.5 0h1m-0.5 0h1m0 0h1m-0.5 0h1m-0.5 0h1m-0.5 0h1m-0.5 0h1m-0.5 0h1m-0.5 0h1m-0.5 0h1m-0.5 0h1m-0.5 0h1m-0.5 0h1m-0.5 0h1m-0.5 0h1m-0.5 0h1m-0.5 0h1m-0.5 0h1m0 0h1m-0.5 0h1m-0.5 0h1m-0.5 0h1m-0.5 0h1m-0.5 0h1m-0.5 0h1m-0.5 0h1m-0.5 0h1m-0.5 0h1m0.5 0h1m-0.5 0h1m0 0h1m1 0h1m0.5 0h1m-29.5 0.5h1m4 0h1m-0.5 0h1m-0.5 0h1m0.5 0h1m0 0h1m0.5 0h1m-0.5 0h1m-0.5 0h1m-0.5 0h1m-0.5 0h1m-0.5 0h1m-0.5 0h1m-0.5 0h1m-0.5 0h1m-0.5 0h1m-0.5 0h1m-0.5 0h1m-0.5 0h1m-0.5 0h1m-0.5 0h1m0 0h1m-0.5 0h1m-0.5 0h1m-0.5 0h1m-0.5 0h1m-0.5 0h1m-0.5 0h1m-0.5 0h1m0 0h1m-0.5 0h1m0 0h1m-0.5 0h1m-0.5 0h1m0 0h1m-25 0.5h1m1.5 0h1m-0.5 0h1m-0.5 0h1m0.5 0h1m-0.5 0h1m-0.5 0h1m-0.5 0h1m0 0h1m-0.5 0h1m-0.5 0h1m-0.5 0h1m-0.5 0h1m-0.5 0h1m-0.5 0h1m-0.5 0h1m-0.5 0h1m-0.5 0h1m-0.5 0h1m-0.5 0h1m-0.5 0h1m0 0h1m-0.5 0h1m-0.5 0h1m-0.5 0h1m-0.5 0h1m0 0h1m-0.5 0h1m-0.5 0h1m-0.5 0h1m-0.5 0h1m-0.5 0h1m1 0h1m-0.5 0h1m-0.5 0h1m-0.5 0h1m-0.5 0h1m0 0h1m3.5 0h1m-31 0.5h1m0.5 0h1m0 0h1m-0.5 0h1m0 0h1m0.5 0h1m-0.5 0h1m0 0h1m-0.5 0h1m-0.5 0h1m-0.5 0h1m-0.5 0h1m-0.5 0h1m-0.5 0h1m-0.5 0h1m-0.5 0h1m-0.5 0h1m-0.5 0h1m-0.5 0h1m0 0h1m-0.5 0h1m-0.5 0h1m-0.5 0h1m-0.5 0h1m-0.5 0h1m-0.5 0h1m-0.5 0h1m-0.5 0h1m-0.5 0h1m-0.5 0h1m-0.5 0h1m0 0h1m0 0h1m1 0h1m2.5 0h1m-30 0.5h1m3 0h1m-0.5 0h1m-0.5 0h1m0.5 0h1m-0.5 0h1m0.5 0h1m0 0h1m-0.5 0h1m-0.5 0h1m-0.5 0h1m0 0h1m-0.5 0h1m-0.5 0h1m-0.5 0h1m-0.5 0h1m-0.5 0h1m-0.5 0h1m-0.5 0h1m-0.5 0h1m-0.5 0h1m-0.5 0h1m-0.5 0h1m-0.5 0h1m-0.5 0h1m-0.5 0h1m-0.5 0h1m0 0h1m-0.5 0h1m-0.5 0h1m-0.5 0h1m2 0h1m1 0h1m0 0h1m-28.5 0.5h1m3.5 0h1m1 0h1m0 0h1m-0.5 0h1m-0.5 0h1m0 0h1m0 0h1m-0.5 0h1m-0.5 0h1m-0.5 0h1m-0.5 0h1m-0.5 0h1m-0.5 0h1m-0.5 0h1m-0.5 0h1m-0.5 0h1m-0.5 0h1m-0.5 0h1m-0.5 0h1m-0.5 0h1m0 0h1m-0.5 0h1m-0.5 0h1m-0.5 0h1m0 0h1m-0.5 0h1m-0.5 0h1m0 0h1m0.5 0h1m0 0h1m0 0h1m-0.5 0h1m-26 0.5h1m-0.5 0h1m3 0h1m-0.5 0h1m-0.5 0h1m0 0h1m-0.5 0h1m-0.5 0h1m-0.5 0h1m-0.5 0h1m-0.5 0h1m0 0h1m0.5 0h1m-0.5 0h1m0 0h1m-0.5 0h1m-0.5 0h1m-0.5 0h1m-0.5 0h1m-0.5 0h1m-0.5 0h1m0 0h1m-0.5 0h1m-0.5 0h1m0 0h1m0 0h1m0 0h1m1 0h1m-0.5 0h1m-0.5 0h1m2 0h1m4 0h1m-29.5 0.5h1m-0.5 0h1m0.5 0h1m0 0h1m0 0h1m-0.5 0h1m-0.5 0h1m0 0h1m0.5 0h1m-0.5 0h1m-0.5 0h1m-0.5 0h1m-0.5 0h1m-0.5 0h1m-0.5 0h1m0.5 0h1m0 0h1m-0.5 0h1m-0.5 0h1m-0.5 0h1m0 0h1m-0.5 0h1m1 0h1m-20 0.5h1m0 0h1m-0.5 0h1m0.5 0h1m1 0h1m-0.5 0h1m-0.5 0h1m0 0h1m0 0h1m0 0h1m-0.5 0h1m-0.5 0h1m-0.5 0h1m0 0h1m-0.5 0h1m0 0h1m-0.5 0h1m-0.5 0h1m-0.5 0h1m0 0h1m0 0h1m-0.5 0h1m3.5 0h1m-24 0.5h1m2.5 0h1m2 0h1m-0.5 0h1m-0.5 0h1m-0.5 0h1m0.5 0h1m-0.5 0h1m-0.5 0h1m-0.5 0h1m0.5 0h1m2 0h1m0 0h1m0.5 0h1m5 0h1m-25.5 0.5h1m0.5 0h1m4 0h1m2.5 0h1m0 0h1m0 0h1m-0.5 0h1m1.5 0h1m-0.5 0h1m0 0h1m1 0h1m0 0h1m-19 0.5h1m1.5 0h1m0 0h1m-0.5 0h1m0 0h1m0 0h1m1 0h1m-0.5 0h1m-0.5 0h1m0 0h1m-0.5 0h1m0.5 0h1m1 0h1m5.5 0h1m0.5 0h1m-21.5 0.5h1m1 0h1m-0.5 0h1m0.5 0h1m-0.5 0h1m-0.5 0h1m-0.5 0h1m-0.5 0h1m-0.5 0h1m-0.5 0h1m0.5 0h1m0 0h1m-0.5 0h1m-0.5 0h1m-0.5 0h1m0.5 0h1m0.5 0h1m-14.5 0.5h1m0.5 0h1m0.5 0h1m0.5 0h1m0 0h1m-0.5 0h1m2 0h1m-0.5 0h1m0 0h1m-0.5 0h1m0.5 0h1m0 0h1m-15 0.5h1m1.5 0h1m1 0h1m5 0h1m0 0h1m2.5 0h1m-9 0.5h1m3.5 0h1m7.5 0h1m-26.5 0.5h1m7.5 0h1m4 0h1m6.5 0h1m0.5 0h1m-19.5 0.5h1m1 0h1m2.5 0h1m3 0h1m0 0h1m-8.5 0.5h1m4 0h1m-4.5 1h1" fill="none" stroke="#585858" stroke-width="0.9" stroke-opacity="0.95"/>
<path d="m98 420.95h1m-10.5 1.5h1m-17.5 2.5h1m8 0h1m1 0h1m2 0h1m-12 0.5h1m0.5 0h1m3 0h1m1 0h1m-5.5 1.5h1m1 0h1m0.5 0h1m0 0h1m1 0h1m4.5 0h1m-17.5 0.5h1m0 0h1m12 0h1m-20 0.5h1m2 0h1m4 0h1m3 0h1m1 0h1m-12.5 0.5h1m4.5 0h1m1.5 0h1m3 0h1m2.5 0h1m1 0h1m1 0h1m-18 0.5h1m-0.5 0h1m0.5 0h1m-0.5 0h1m1 0h1m1.5 0h1m-0.5 0h1m4 0h1m2.5 0h1m-35 0.5h1m9 0h1m6.5 0h1m-0.5 0h1m0 0h1m0 0h1m0.5 0h1m0.5 0h1m-0.5 0h1m3 0h1m-0.5 0h1m1 0h1m2 0h1m-27 0.5h1m4 0h1m0.5 0h1m2 0h1m-0.5 0h1m0 0h1m0.5 0h1m0 0h1m1.5 0h1m1 0h1m1.5 0h1m0.5 0h1m1 0h1m-22 0.5h1m0.5 0h1m1.5 0h1m-0.5 0h1m-0.5 0h1m-0.5 0h1m-0.5 0h1m-0.5 0h1m0.5 0h1m1 0h1m-0.5 0h1m-0.5 0h1m-0.5 0h1m0.5 0h1m0 0h1m-0.5 0h1m0.5 0h1m-0.5 0h1m0 0h1m2.5 0h1m0.5 0h1m0 0h1m-29 0.5h1m4.5 0h1m-0.5 0h1m-0.5 0h1m3 0h1m1.5 0h1m1.5 0h1m-0.5 0h1m-0.5 0h1m-0.5 0h1m0.5 0h1m-0.5 0h1m0 0h1m-0.5 0h1m-0.5 0h1m1 0h1m5.5 0h1m-25 0.5h1m0.5 0h1m0.5 0h1m2.5 0h1m0 0h1m0 0h1m1.5 0h1m0.5 0h1m6.5 0h1m-30 0.5h1m1.5 0h1m2 0h1m1 0h1m1 0h1m0.5 0h1m0 0h1m0 0h1m0 0h1m-0.5 0h1m-0.5 0h1m0 0h1m0 0h1m1 0h1m1 0h1m1 0h1m-0.5 0h1m0.5 0h1m0 0h1m-0.5 0h1m0 0h1m-0.5 0h1m-26 0.5h1m2.5 0h1m2 0h1m-0.5 0h1m-0.5 0h1m-0.5 0h1m-0.5 0h1m1.5 0h1m-0.5 0h1m0 0h1m0 0h1m1.5 0h1m0 0h1m1 0h1m0 0h1m2 0h1m-23 0.5h1m1.5 0h1m-0.5 0h1m3.5 0h1m1 0h1m-0.5 0h1m0 0h1m0 0h1m-0.5 0h1m-0.5 0h1m0.5 0h1m2.5 0h1m-0.5 0h1m-0.5 0h1m-0.5 0h1m-0.5 0h1m1.5 0h1m0 0h1m6 0h1m-35.5 0.5h1m2 0h1m-0.5 0h1m0 0h1m1.5 0h1m0.5 0h1m0 0h1m-0.5 0h1m-0.5 0h1m-0.5 0h1m0 0h1m-0.5 0h1m-0.5 0h1m0 0h1m-0.5 0h1m1 0h1m1 0h1m-0.5 0h1m-0.5 0h1m-0.5 0h1m-0.5 0h1m4 0h1m2 0h1m0 0h1m5 0h1m-39.5 0.5h1m6.5 0h1m0.5 0h1m-0.5 0h1m0 0h1m-0.5 0h1m1 0h1m0 0h1m-0.5 0h1m-0.5 0h1m0 0h1m0 0h1m-0.5 0h1m-0.5 0h1m-0.5 0h1m0.5 0h1m-0.5 0h1m0 0h1m0 0h1m0 0h1m-0.5 0h1m1 0h1m0 0h1m-0.5 0h1m1.5 0h1m0 0h1m-0.5 0h1m-31 0.5h1m-0.5 0h1m2.5 0h1m1 0h1m-0.5 0h1m1 0h1m-0.5 0h1m-0.5 0h1m1.5 0h1m-0.5 0h1m-0.5 0h1m0 0h1m-0.5 0h1m-0.5 0h1m-0.5 0h1m0 0h1m0 0h1m-0.5 0h1m0.5 0h1m-0.5 0h1m-0.5 0h1m-0.5 0h1m-0.5 0h1m-0.5 0h1m1.5 0h1m0 0h1m7 0h1m-37 0.5h1m1.5 0h1m-0.5 0h1m0 0h1m0 0h1m2 0h1m0.5 0h1m0 0h1m1 0h1m0.5 0h1m-0.5 0h1m0.5 0h1m-0.5 0h1m-0.5 0h1m-0.5 0h1m-0.5 0h1m-0.5 0h1m-0.5 0h1m-0.5 0h1m0 0h1m0 0h1m-0.5 0h1m-0.5 0h1m-0.5 0h1m-0.5 0h1m-0.5 0h1m0 0h1m0 0h1m2.5 0h1m-37.5 0.5h1m4.5 0h1m2 0h1m4.5 0h1m-0.5 0h1m-0.5 0h1m0.5 0h1m1.5 0h1m-0.5 0h1m-0.5 0h1m0 0h1m-0.5 0h1m-0.5 0h1m-0.5 0h1m-0.5 0h1m0 0h1m2 0h1m0.5 0h1m0.5 0h1m0 0h1m0.5 0h1m-0.5 0h1m3.5 0h1m2.5 0h1m-36.5 0.5h1m4 0h1m2 0h1m2 0h1m-0.5 0h1m0 0h1m0 0h1m-0.5 0h1m-0.5 0h1m-0.5 0h1m-0.5 0h1m0 0h1m0 0h1m0 0h1m0 0h1m-0.5 0h1m0 0h1m0 0h1m1 0h1m0 0h1m-0.5 0h1m-0.5 0h1m0 0h1m0.5 0h1m-0.5 0h1m-0.5 0h1m0.5 0h1m0 0h1m0 0h1m-0.5 0h1m6 0h1m-46.5 0.5h1m8 0h1m0.5 0h1m0.5 0h1m1 0h1m-0.5 0h1m-0.5 0h1m0.5 0h1m-0.5 0h1m0 0h1m-0.5 0h1m-0.5 0h1m0 0h1m-0.5 0h1m-0.5 0h1m-0.5 0h1m0 0h1m-0.5 0h1m-0.5 0h1m-0.5 0h1m-0.5 0h1m0.5 0h1m1 0h1m0.5 0h1m-0.5 0h1m1 0h1m1 0h1m2 0h1m-32.5 0.5h1m2.5 0h1m2 0h1m-0.5 0h1m-0.5 0h1m0 0h1m-0.5 0h1m-0.5 0h1m0 0h1m-0.5 0h1m0 0h1m0 0h1m0.5 0h1m-0.5 0h1m-0.5 0h1m0.5 0h1m0 0h1m-0.5 0h1m-0.5 0h1m0.5 0h1m-0.5 0h1m-0.5 0h1m0 0h1m-0.5 0h1m-0.5 0h1m-0.5 0h1m-0.5 0h1m0 0h1m0.5 0h1m-31.5 0.5h1m0 0h1m-0.5 0h1m0 0h1m0.5 0h1m0.5 0h1m1 0h1m1.5 0h1m0.5 0h1m-0.5 0h1m0.5 0h1m-0.5 0h1m0 0h1m-0.5 0h1m1 0h1m-0.5 0h1m-0.5 0h1m-0.5 0h1m-0.5 0h1m0.5 0h1m-0.5 0h1m-0.5 0h1m0 0h1m-0.5 0h1m0 0h1m-0.5 0h1m-0.5 0h1m0 0h1m-0.5 0h1m0 0h1m-0.5 0h1m0 0h1m9.5 0h1m-39.5 0.5h1m1.5 0h1m1 0h1m2.5 0h1m0.5 0h1m0 0h1m-0.5 0h1m-0.5 0h1m0.5 0h1m-0.5 0h1m-0.5 0h1m-0.5 0h1m-0.5 0h1m0.5 0h1m-0.5 0h1m-0.5 0h1m-0.5 0h1m0.5 0h1m0 0h1m0 0h1m0 0h1m0.5 0h1m-0.5 0h1m-0.5 0h1m0.5 0h1m-0.5 0h1m0 0h1m0 0h1m-24 0.5h1m0 0h1m0 0h1m-0.5 0h1m0.5 0h1m-0.5 0h1m-0.5 0h1m0.5 0h1m-0.5 0h1m-0.5 0h1m0 0h1m-0.5 0h1m-0.5 0h1m-0.5 0h1m-0.5 0h1m0.5 0h1m0 0h1m-0.5 0h1m-0.5 0h1m-0.5 0h1m0 0h1m0.5 0h1m0 0h1m-0.5 0h1m0.5 0h1m-0.5 0h1m-30.5 0.5h1m1 0h1m4.5 0h1m-0.5 0h1m0 0h1m1 0h1m-0.5 0h1m-0.5 0h1m0 0h1m-0.5 0h1m-0.5 0h1m-0.5 0h1m2 0h1m-0.5 0h1m-0.5 0h1m-0.5 0h1m-0.5 0h1m-0.5 0h1m-0.5 0h1m-0.5 0h1m0 0h1m0 0h1m-0.5 0h1m-0.5 0h1m0 0h1m0 0h1m-0.5 0h1m-0.5 0h1m3 0h1m3.5 0h1m-33 0.5h1m-0.5 0h1m3 0h1m-0.5 0h1m0 0h1m0 0h1m-0.5 0h1m-0.5 0h1m-0.5 0h1m-0.5 0h1m-0.5 0h1m-0.5 0h1m0.5 0h1m-0.5 0h1m-0.5 0h1m0 0h1m-0.5 0h1m-0.5 0h1m-0.5 0h1m-0.5 0h1m-0.5 0h1m-0.5 0h1m-0.5 0h1m-0.5 0h1m0 0h1m0.5 0h1m-0.5 0h1m-0.5 0h1m0 0h1m-0.5 0h1m1.5 0h1m0 0h1m2.5 0h1m0 0h1m1 0h1m-33 0.5h1m4 0h1m2 0h1m-0.5 0h1m0 0h1m0 0h1m-0.5 0h1m0.5 0h1m-0.5 0h1m0 0h1m-0.5 0h1m0 0h1m-0.5 0h1m-0.5 0h1m0 0h1m0 0h1m-0.5 0h1m-0.5 0h1m-0.5 0h1m1 0h1m0.5 0h1m-0.5 0h1m2.5 0h1m1 0h1m-33 0.5h1m0 0h1m2.5 0h1m0 0h1m-0.5 0h1m-0.5 0h1m0 0h1m-0.5 0h1m0 0h1m-0.5 0h1m-0.5 0h1m0 0h1m-0.5 0h1m1 0h1m0 0h1m-0.5 0h1m-0.5 0h1m0 0h1m-0.5 0h1m0 0h1m-0.5 0h1m0 0h1m0 0h1m0.5 0h1m0.5 0h1m0.5 0h1m0 0h1m0.5 0h1m2.5 0h1m-33 0.5h1m-0.5 0h1m1 0h1m-0.5 0h1m0.5 0h1m-0.5 0h1m-0.5 0h1m2 0h1m-0.5 0h1m0 0h1m-0.5 0h1m0 0h1m1.5 0h1m-0.5 0h1m0 0h1m1 0h1m-0.5 0h1m-0.5 0h1m0 0h1m-0.5 0h1m0 0h1m0 0h1m0 0h1m-0.5 0h1m-0.5 0h1m1 0h1m0 0h1m0.5 0h1m2 0h1m-26 0.5h1m0 0h1m1 0h1m-0.5 0h1m-0.5 0h1m0 0h1m-0.5 0h1m-0.5 0h1m-0.5 0h1m0 0h1m-0.5 0h1m1 0h1m0 0h1m0.5 0h1m2 0h1m0 0h1m0 0h1m0 0h1m2 0h1m-0.5 0h1m0.5 0h1m-0.5 0h1m7 0h1m-40.5 0.5h1m1 0h1m0.5 0h1m1 0h1m-0.5 0h1m0 0h1m2.5 0h1m-0.5 0h1m-0.5 0h1m-0.5 0h1m-0.5 0h1m-0.5 0h1m0.5 0h1m0 0h1m-0.5 0h1m0 0h1m-0.5 0h1m-0.5 0h1m-0.5 0h1m-0.5 0h1m-0.5 0h1m-0.5 0h1m0 0h1m-0.5 0h1m-0.5 0h1m-0.5 0h1m-0.5 0h1m1 0h1m0 0h1m3 0h1m4.5 0h1m-29 0.5h1m0 0h1m0.5 0h1m0.5 0h1m0 0h1m1.5 0h1m-0.5 0h1m0 0h1m-0.5 0h1m-0.5 0h1m-0.5 0h1m-0.5 0h1m-0.5 0h1m0 0h1m-0.5 0h1m0 0h1m0.5 0h1m0 0h1m0 0h1m1.5 0h1m0.5 0h1m-0.5 0h1m0.5 0h1m-0.5 0h1m4 0h1m-35.5 0.5h1m1 0h1m0 0h1m3 0h1m-0.5 0h1m1 0h1m1 0h1m0 0h1m-0.5 0h1m-0.5 0h1m1 0h1m3 0h1m-0.5 0h1m-0.5 0h1m1 0h1m3 0h1m2.5 0h1m-30 0.5h1m3 0h1m0 0h1m-0.5 0h1m0 0h1m-0.5 0h1m-0.5 0h1m-0.5 0h1m-0.5 0h1m-0.5 0h1m0.5 0h1m0.5 0h1m-0.5 0h1m-0.5 0h1m-0.5 0h1m0 0h1m-0.5 0h1m0 0h1m-0.5 0h1m1 0h1m-0.5 0h1m-0.5 0h1m-0.5 0h1m1 0h1m2.5 0h1m-23 0.5h1m1 0h1m-0.5 0h1m0 0h1m0.5 0h1m0 0h1m0 0h1m-0.5 0h1m-0.5 0h1m-0.5 0h1m0 0h1m1.5 0h1m-0.5 0h1m2 0h1m-0.5 0h1m0.5 0h1m8 0h1m-32.5 0.5h1m0.5 0h1m4 0h1m2 0h1m0 0h1m1.5 0h1m3.5 0h1m0 0h1m2 0h1m-0.5 0h1m0.5 0h1m-27 0.5h1m0.5 0h1m3 0h1m-0.5 0h1m0 0h1m1.5 0h1m-0.5 0h1m0.5 0h1m-0.5 0h1m-0.5 0h1m4 0h1m-0.5 0h1m1 0h1m0 0h1m5 0h1m1.5 0h1m-24.5 0.5h1m0 0h1m2 0h1m-0.5 0h1m-0.5 0h1m-0.5 0h1m0 0h1m-0.5 0h1m3 0h1m0 0h1m-0.5 0h1m-0.5 0h1m0.5 0h1m1 0h1m2.5 0h1m0 0h1m2 0h1m-31.5 0.5h1m12 0h1m1 0h1m0.5 0h1m-0.5 0h1m-0.5 0h1m-0.5 0h1m0.5 0h1m-0.5 0h1m0.5 0h1m0.5 0h1m-22 0.5h1m4 0h1m3 0h1m1.5 0h1m6 0h1m0.5 0h1m2 0h1m-23 0.5h1m5.5 0h1m0.5 0h1m-0.5 0h1m1.5 0h1m-0.5 0h1m1 0h1m3 0h1m1.5 0h1m1 0h1m-23.5 0.5h1m2.5 0h1m2.5 0h1m2.5 0h1m0 0h1m1.5 0h1m-0.5 0h1m-13.5 0.5h1m1.5 0h1m1 0h1m6.5 0h1m3 0h1m2.5 0h1m-0.5 0h1m-23.5 0.5h1m0.5 0h1m1.5 0h1m4.5 0h1m1 0h1m3.5 0h1m4 0h1m-23.5 0.5h1m2.5 0h1m-0.5 0h1m8.5 0h1m0.5 0h1m-14.5 0.5h1m7.5 0h1m-11 0.5h1m5 0h1m5.5 0h1m3.5 0h1m0 0h1m-12 0.5h1m1.5 0h1m-0.5 0h1" fill="none" stroke="#666" stroke-width="0.9" stroke-opacity="0.8"/>
<path d="m110.5 410.45h1m-12.5 5.5h1m-27 0.5h1m18 1h1m1 1h1m6 0.5h1m1 0.5h1m-16 0.5h1m8 0h1m-6.5 0.5h1m-3 0.5h1m2 0h1m0.5 0h1m-30.5 0.5h1m22 0h1m-3 0.5h1m-4.5 0.5h1m24.5 0h1m-35 0.5h1m6 0h1m12.5 0h1m-10.5 0.5h1m0.5 0h1m-0.5 0h1m0.5 0h1m-8.5 0.5h1m1.5 0h1m6.5 0h1m-5.5 0.5h1m-5.5 0.5h1m6.5 0h1m4 0h1m-3 0.5h1m9 0h1m-27 0.5h1m2.5 0h1m1 0h1m11 0h1m-23 0.5h1m0 0h1m21 0h1m8 0h1m-33.5 0.5h1m2.5 0h1m3.5 0h1m6 0h1m1.5 0h1m24.5 0h1m-48 0.5h1m11 0h1m7.5 0h1m13.5 0h1m-29 0.5h1m0.5 0h1m0 0h1m1 0h1m2 0h1m3 0h1m-0.5 0h1m0.5 0h1m3 0h1m-20.5 0.5h1m5.5 0h1m4 0h1m1 0h1m3 0h1m-14.5 0.5h1m-0.5 0h1m0.5 0h1m11.5 0h1m2.5 0h1m-38.5 0.5h1m6 0h1m4 0h1m4.5 0h1m9 0h1m5.5 0h1m-23 0.5h1m0 0h1m1.5 0h1m2 0h1m9 0h1m2 0h1m-23.5 0.5h1m2 0h1m5 0h1m3 0h1m4.5 0h1m-0.5 0h1m2 0h1m2 0h1m0 0h1m-0.5 0h1m-27 0.5h1m0 0h1m3 0h1m3.5 0h1m-0.5 0h1m0.5 0h1m9.5 0h1m-0.5 0h1m6.5 0h1m11.5 0h1m-55 0.5h1m14.5 0h1m2 0h1m4.5 0h1m-9 0.5h1m1.5 0h1m2 0h1m6 0h1m3.5 0h1m-19.5 0.5h1m1 0h1m0 0h1m-0.5 0h1m4.5 0h1m2 0h1m6 0h1m9 0h1m-38 0.5h1m16 0h1m7.5 0h1m0.5 0h1m0.5 0h1m-38.5 0.5h1m7 0h1m2 0h1m10.5 0h1m0 0h1m7 0h1m0.5 0h1m-25.5 0.5h1m0.5 0h1m-0.5 0h1m1.5 0h1m-0.5 0h1m0.5 0h1m1.5 0h1m0.5 0h1m6 0h1m0 0h1m2 0h1m2.5 0h1m1.5 0h1m-26.5 0.5h1m-0.5 0h1m4 0h1m0 0h1m2.5 0h1m7 0h1m1.5 0h1m2 0h1m6 0h1m-0.5 0h1m-30 0.5h1m5.5 0h1m0.5 0h1m0 0h1m1.5 0h1m0.5 0h1m3 0h1m1.5 0h1m4 0h1m13 0h1m-47.5 0.5h1m6 0h1m0 0h1m1 0h1m1.5 0h1m1 0h1m0 0h1m-0.5 0h1m1 0h1m5.5 0h1m2.5 0h1m4.5 0h1m0.5 0h1m14.5 0h1m-57.5 0.5h1m9.5 0h1m2.5 0h1m0.5 0h1m1.5 0h1m0 0h1m4.5 0h1m0.5 0h1m1 0h1m3.5 0h1m-0.5 0h1m3 0h1m0 0h1m-25.5 0.5h1m1.5 0h1m3.5 0h1m1 0h1m2.5 0h1m9 0h1m0 0h1m0.5 0h1m1.5 0h1m-41 0.5h1m10 0h1m6 0h1m-0.5 0h1m-0.5 0h1m2.5 0h1m2 0h1m1.5 0h1m2.5 0h1m1.5 0h1m12.5 0h1m-40.5 0.5h1m2 0h1m0 0h1m-0.5 0h1m5.5 0h1m-0.5 0h1m0 0h1m6.5 0h1m3 0h1m-24 0.5h1m2.5 0h1m7.5 0h1m-0.5 0h1m1 0h1m4.5 0h1m6.5 0h1m6.5 0h1m-29.5 0.5h1m2 0h1m1.5 0h1m1.5 0h1m5 0h1m2 0h1m-0.5 0h1m0 0h1m-0.5 0h1m-37 0.5h1m6 0h1m7 0h1m4 0h1m1.5 0h1m-0.5 0h1m2 0h1m-0.5 0h1m4.5 0h1m-18 0.5h1m10.5 0h1m3 0h1m-23.5 0.5h1m4 0h1m2 0h1m6 0h1m4 0h1m0 0h1m-0.5 0h1m0.5 0h1m3.5 0h1m1 0h1m-41 0.5h1m16 0h1m1.5 0h1m2.5 0h1m4.5 0h1m3 0h1m-0.5 0h1m4 0h1m7 0h1m-41.5 0.5h1m4 0h1m0 0h1m3 0h1m2 0h1m0.5 0h1m0 0h1m0.5 0h1m0.5 0h1m0 0h1m13 0h1m-41 0.5h1m18 0h1m1 0h1m0 0h1m-0.5 0h1m-0.5 0h1m9.5 0h1m1.5 0h1m-28.5 0.5h1m13 0h1m5 0h1m6 0h1m10 0h1m-45.5 0.5h1m4 0h1m8 0h1m2.5 0h1m0 0h1m11 0h1m8.5 0h1m-40 0.5h1m1.5 0h1m6 0h1m7.5 0h1m2 0h1m2 0h1m8 0h1m-28.5 0.5h1m7.5 0h1m1 0h1m5 0h1m4.5 0h1m0 0h1m6.5 0h1m10 0h1m-50 0.5h1m1 0h1m4 0h1m4 0h1m0 0h1m5 0h1m1 0h1m1.5 0h1m3 0h1m-27 0.5h1m6 0h1m-0.5 0h1m-0.5 0h1m11.5 0h1m1.5 0h1m9.5 0h1m0 0h1m-34 0.5h1m0 0h1m1.5 0h1m23.5 0h1m-26 0.5h1m3.5 0h1m4.5 0h1m2.5 0h1m0 0h1m-0.5 0h1m6.5 0h1m-6 0.5h1m-0.5 0h1m-16.5 0.5h1m14 0h1m3.5 0h1m-0.5 0h1m8.5 0h1m-22.5 0.5h1m6 0h1m4 0h1m1.5 0h1m-29.5 0.5h1m11 0h1m4.5 0h1m-6.5 0.5h1m3 0h1m1 0h1m4 0h1m1 0h1m-12.5 0.5h1m8 0h1m2 0h1m7 0h1m-23.5 1h1m1 0h1m0 0h1m8 0h1m-23 0.5h1" fill="none" stroke="#808080" stroke-width="0.9" stroke-opacity="0.7"/>
<path d="m98 393.45h1m6 0h1m-6 0.5h1m-8 1h1m-15 0.5h1m24 0h1m28 0h1m-37.5 0.5h1m33.5 0h1m2.5 0h1m-35.5 0.5h1m5.5 0h1m-22.5 0.5h1m9 0h1m3 0h1m14.5 0h1m0.5 0h1m19 0h1m-73 0.5h1m30 0h1m-0.5 0h1m2 0h1m2 0h1m0 0h1m7.5 0h1m0 0h1m22.5 0h1m-60 0.5h1m2 0h1m2 0h1m0 0h1m3 0h1m8 0h1m-0.5 0h1m2 0h1m0.5 0h1m0 0h1m0 0h1m1 0h1m0 0h1m-0.5 0h1m-0.5 0h1m0 0h1m-0.5 0h1m2.5 0h1m3 0h1m4.5 0h1m3 0h1m4.5 0h1m8 0h1m-49 0.5h1m0.5 0h1m0 0h1m2 0h1m0 0h1m-0.5 0h1m0 0h1m-0.5 0h1m-0.5 0h1m-0.5 0h1m0.5 0h1m0.5 0h1m1 0h1m0 0h1m2.5 0h1m2 0h1m3.5 0h1m1.5 0h1m-0.5 0h1m-63.5 0.5h1m19.5 0h1m5.5 0h1m1.5 0h1m0.5 0h1m0 0h1m1.5 0h1m1 0h1m0.5 0h1m-0.5 0h1m0 0h1m-0.5 0h1m-0.5 0h1m0.5 0h1m0.5 0h1m-0.5 0h1m0 0h1m-0.5 0h1m0 0h1m1 0h1m0.5 0h1m2 0h1m1.5 0h1m0.5 0h1m23.5 0h1m-85 0.5h1m3 0h1m1.5 0h1m13.5 0h1m2 0h1m8 0h1m-0.5 0h1m-0.5 0h1m2 0h1m0 0h1m-0.5 0h1m0 0h1m0 0h1m1 0h1m1 0h1m-0.5 0h1m0 0h1m0 0h1m1.5 0h1m-0.5 0h1m1 0h1m1.5 0h1m0 0h1m0 0h1m-0.5 0h1m1 0h1m-0.5 0h1m0.5 0h1m-0.5 0h1m-45 0.5h1m1 0h1m7 0h1m4 0h1m0 0h1m1 0h1m-0.5 0h1m-0.5 0h1m-0.5 0h1m0.5 0h1m-0.5 0h1m-0.5 0h1m-0.5 0h1m-0.5 0h1m1 0h1m0.5 0h1m0 0h1m-0.5 0h1m1 0h1m-0.5 0h1m4.5 0h1m6.5 0h1m6 0h1m0.5 0h1m-59.5 0.5h1m17.5 0h1m1 0h1m0.5 0h1m3.5 0h1m-0.5 0h1m0 0h1m-0.5 0h1m1 0h1m0.5 0h1m1 0h1m0 0h1m0 0h1m-0.5 0h1m0.5 0h1m1.5 0h1m1 0h1m0.5 0h1m1.5 0h1m-0.5 0h1m-0.5 0h1m-0.5 0h1m10 0h1m-0.5 0h1m4 0h1m-54 0.5h1m0 0h1m1 0h1m3.5 0h1m0 0h1m0.5 0h1m1 0h1m-0.5 0h1m1 0h1m0 0h1m-0.5 0h1m0 0h1m0 0h1m0 0h1m0.5 0h1m1 0h1m-0.5 0h1m-0.5 0h1m-0.5 0h1m-0.5 0h1m-0.5 0h1m1 0h1m-0.5 0h1m1.5 0h1m0.5 0h1m0 0h1m0 0h1m0.5 0h1m0 0h1m-0.5 0h1m3 0h1m2.5 0h1m5 0h1m-62.5 0.5h1m14 0h1m1.5 0h1m3.5 0h1m0.5 0h1m2 0h1m1 0h1m0 0h1m0.5 0h1m3 0h1m-0.5 0h1m0 0h1m3 0h1m-0.5 0h1m4 0h1m2 0h1m-60.5 0.5h1m7.5 0h1m3 0h1m8.5 0h1m0.5 0h1m6.5 0h1m2 0h1m3 0h1m-0.5 0h1m3.5 0h1m0 0h1m2 0h1m-0.5 0h1m0 0h1m2 0h1m0 0h1m0 0h1m8.5 0h1m2 0h1m-60 0.5h1m22.5 0h1m1 0h1m2 0h1m-0.5 0h1m4.5 0h1m2 0h1m-0.5 0h1m1.5 0h1m5 0h1m-0.5 0h1m1.5 0h1m0 0h1m-44.5 0.5h1m26.5 0h1m3 0h1m-0.5 0h1m-17.5 0.5h1m1 0h1m13 0h1m3 0h1m2.5 0h1m-60 0.5h1m54 0h1m6 0h1m24.5 0h1m-58 0.5h1m35 0.5h1m5 0h1m2.5 0h1m-39 0.5h1" fill="none" stroke="#a2a2a2" stroke-width="0.9" stroke-opacity="0.7"/>
<path d="m89 381.45h1m-18.5 1.5h1m3 0h1m1.5 0.5h1m4 1h1m0 0h1m-11 1.5h1m-10.5 0.5h1m7.5 1h1m18 0h1m-12 0.5h1m-24.5 1h1m20.5 0h1m-23.5 1h1m3 0h1m3 1.5h1m30 0h1m2 0h1m0.5 0.5h1m18.5 0h1m-58.5 0.5h1m12.5 0h1m25.5 0.5h1m-28.5 0.5h1m-21 0.5h1m-3.5 0.5h1m18 0h1m21.5 0h1m4.5 0h1m1 0h1m-49.5 0.5h1m27.5 0h1m0.5 0h1m-11.5 0.5h1m5.5 0h1m4 0h1m4 0h1m21.5 0h1m-42 0.5h1m-18.5 0.5h1m10 0h1m9.5 0h1m1.5 0h1m25.5 1h1m-16.5 0.5h1m-28 0.5h1m10 0h1m64.5 0h1m-70.5 1h1m12 0h1m-14 0.5h1m-8 0.5h1m6.5 0h1m11.5 0h1m6.5 0h1m5 0h1m31 0.5h1m-51.5 0.5h1m4.5 0.5h1m-2 0.5h1m13 0h1m9 0h1m0 0h1m-43 0.5h1m7 0h1m4 0.5h1m-7 0.5h1m12.5 0.5h1m-21.5 0.5h1m13 0h1m17 0h1m17.5 0h1m-18 1h1m1.5 0h1m22.5 0h1m-0.5 0h1m-31 0.5h1m4.5 0h1m16 0h1m3.5 0h1m-29.5 0.5h1m11 0h1m-43 0.5h1m33 0h1m7.5 0h1m-3 0.5h1m-19 0.5h1m18.5 0h1m0 0h1m-10.5 0.5h1m4.5 0h1m-15.5 0.5h1m-15 0.5h1m4 0.5h1m20.5 0h1m9 0h1m-35 0.5h1m13.5 0h1m2.5 0h1m30.5 0h1m-49 0.5h1m13.5 0h1m-20 0.5h1m4 0h1m-15.5 0.5h1m16.5 0h1m16 0h1m-44 0.5h1m3.5 0h1m7 0h1m19 0h1m-8.5 0.5h1m20 0h1m-8.5 0.5h1m0.5 0h1m-24.5 0.5h1m12 0h1m6.5 0h1m18 0h1m3 0h1m-64 0.5h1m6 0h1m31 0h1m3 0h1m-33 0.5h1m24 0h1m37.5 0h1m-34.5 0.5h1m1.5 0h1m-17.5 0.5h1m12 0h1m3.5 0h1m-27 0.5h1m20 0h1m1.5 0h1m10 0h1m12 0h1m-0.5 0h1m-19 0.5h1m1.5 0h1m-22.5 0.5h1m44.5 0h1m-71 0.5h1m46 0h1m-21 0.5h1m23.5 0h1m-36 0.5h1m-4.5 0.5h1m42 0h1m-38 0.5h1m19 0h1m-29 0.5h1m10.5 0h1m28.5 0h1m-46 0.5h1m6.5 0h1m26.5 0h1m14 0h1m-47 0.5h1m3.5 0h1m14 0h1m1.5 0h1m0 0h1m15 1h1m-7.5 0.5h1m-44.5 1h1m22 0.5h1m19.5 0h1m-7.5 0.5h1m-25.5 0.5h1m56 1h1m-56 2h1m9.5 0.5h1m23.5 0.5h1m-33 4.5h1m10.5 0h1" fill="none" stroke="#a5a5a5" stroke-width="0.9" stroke-opacity="0.7"/>
<rect x="165.30" y="368.00" width="103.20" height="83.00" fill="none" stroke="#555" stroke-width="0.9"/>
<line x1="165.30" y1="451.00" x2="165.30" y2="448.80" stroke="#333" stroke-width="0.5"/>
<line x1="173.07" y1="451.00" x2="173.07" y2="449.90" stroke="#333" stroke-width="0.5"/>
<line x1="177.61" y1="451.00" x2="177.61" y2="449.90" stroke="#333" stroke-width="0.5"/>
<line x1="180.83" y1="451.00" x2="180.83" y2="449.90" stroke="#333" stroke-width="0.5"/>
<line x1="183.33" y1="451.00" x2="183.33" y2="449.90" stroke="#333" stroke-width="0.5"/>
<line x1="185.38" y1="451.00" x2="185.38" y2="449.90" stroke="#333" stroke-width="0.5"/>
<line x1="187.10" y1="451.00" x2="187.10" y2="449.90" stroke="#333" stroke-width="0.5"/>
<line x1="188.60" y1="451.00" x2="188.60" y2="449.90" stroke="#333" stroke-width="0.5"/>
<line x1="189.92" y1="451.00" x2="189.92" y2="449.90" stroke="#333" stroke-width="0.5"/>
<line x1="191.10" y1="451.00" x2="191.10" y2="448.80" stroke="#333" stroke-width="0.5"/>
<line x1="198.87" y1="451.00" x2="198.87" y2="449.90" stroke="#333" stroke-width="0.5"/>
<line x1="203.41" y1="451.00" x2="203.41" y2="449.90" stroke="#333" stroke-width="0.5"/>
<line x1="206.63" y1="451.00" x2="206.63" y2="449.90" stroke="#333" stroke-width="0.5"/>
<line x1="209.13" y1="451.00" x2="209.13" y2="449.90" stroke="#333" stroke-width="0.5"/>
<line x1="211.18" y1="451.00" x2="211.18" y2="449.90" stroke="#333" stroke-width="0.5"/>
<line x1="212.90" y1="451.00" x2="212.90" y2="449.90" stroke="#333" stroke-width="0.5"/>
<line x1="214.40" y1="451.00" x2="214.40" y2="449.90" stroke="#333" stroke-width="0.5"/>
<line x1="215.72" y1="451.00" x2="215.72" y2="449.90" stroke="#333" stroke-width="0.5"/>
<line x1="216.90" y1="451.00" x2="216.90" y2="448.80" stroke="#333" stroke-width="0.5"/>
<line x1="224.67" y1="451.00" x2="224.67" y2="449.90" stroke="#333" stroke-width="0.5"/>
<line x1="229.21" y1="451.00" x2="229.21" y2="449.90" stroke="#333" stroke-width="0.5"/>
<line x1="232.43" y1="451.00" x2="232.43" y2="449.90" stroke="#333" stroke-width="0.5"/>
<line x1="234.93" y1="451.00" x2="234.93" y2="449.90" stroke="#333" stroke-width="0.5"/>
<line x1="236.98" y1="451.00" x2="236.98" y2="449.90" stroke="#333" stroke-width="0.5"/>
<line x1="238.70" y1="451.00" x2="238.70" y2="449.90" stroke="#333" stroke-width="0.5"/>
<line x1="240.20" y1="451.00" x2="240.20" y2="449.90" stroke="#333" stroke-width="0.5"/>
<line x1="241.52" y1="451.00" x2="241.52" y2="449.90" stroke="#333" stroke-width="0.5"/>
<line x1="242.70" y1="451.00" x2="242.70" y2="448.80" stroke="#333" stroke-width="0.5"/>
<line x1="250.47" y1="451.00" x2="250.47" y2="449.90" stroke="#333" stroke-width="0.5"/>
<line x1="255.01" y1="451.00" x2="255.01" y2="449.90" stroke="#333" stroke-width="0.5"/>
<line x1="258.23" y1="451.00" x2="258.23" y2="449.90" stroke="#333" stroke-width="0.5"/>
<line x1="260.73" y1="451.00" x2="260.73" y2="449.90" stroke="#333" stroke-width="0.5"/>
<line x1="262.78" y1="451.00" x2="262.78" y2="449.90" stroke="#333" stroke-width="0.5"/>
<line x1="264.50" y1="451.00" x2="264.50" y2="449.90" stroke="#333" stroke-width="0.5"/>
<line x1="266.00" y1="451.00" x2="266.00" y2="449.90" stroke="#333" stroke-width="0.5"/>
<line x1="267.32" y1="451.00" x2="267.32" y2="449.90" stroke="#333" stroke-width="0.5"/>
<line x1="268.50" y1="451.00" x2="268.50" y2="448.80" stroke="#333" stroke-width="0.5"/>
<line x1="165.30" y1="451.00" x2="167.50" y2="451.00" stroke="#333" stroke-width="0.5"/>
<line x1="165.30" y1="444.75" x2="166.40" y2="444.75" stroke="#333" stroke-width="0.5"/>
<line x1="165.30" y1="441.10" x2="166.40" y2="441.10" stroke="#333" stroke-width="0.5"/>
<line x1="165.30" y1="438.51" x2="166.40" y2="438.51" stroke="#333" stroke-width="0.5"/>
<line x1="165.30" y1="436.50" x2="166.40" y2="436.50" stroke="#333" stroke-width="0.5"/>
<line x1="165.30" y1="434.85" x2="166.40" y2="434.85" stroke="#333" stroke-width="0.5"/>
<line x1="165.30" y1="433.46" x2="166.40" y2="433.46" stroke="#333" stroke-width="0.5"/>
<line x1="165.30" y1="432.26" x2="166.40" y2="432.26" stroke="#333" stroke-width="0.5"/>
<line x1="165.30" y1="431.20" x2="166.40" y2="431.20" stroke="#333" stroke-width="0.5"/>
<line x1="165.30" y1="430.25" x2="167.50" y2="430.25" stroke="#333" stroke-width="0.5"/>
<line x1="165.30" y1="424.00" x2="166.40" y2="424.00" stroke="#333" stroke-width="0.5"/>
<line x1="165.30" y1="420.35" x2="166.40" y2="420.35" stroke="#333" stroke-width="0.5"/>
<line x1="165.30" y1="417.76" x2="166.40" y2="417.76" stroke="#333" stroke-width="0.5"/>
<line x1="165.30" y1="415.75" x2="166.40" y2="415.75" stroke="#333" stroke-width="0.5"/>
<line x1="165.30" y1="414.10" x2="166.40" y2="414.10" stroke="#333" stroke-width="0.5"/>
<line x1="165.30" y1="412.71" x2="166.40" y2="412.71" stroke="#333" stroke-width="0.5"/>
<line x1="165.30" y1="411.51" x2="166.40" y2="411.51" stroke="#333" stroke-width="0.5"/>
<line x1="165.30" y1="410.45" x2="166.40" y2="410.45" stroke="#333" stroke-width="0.5"/>
<line x1="165.30" y1="409.50" x2="167.50" y2="409.50" stroke="#333" stroke-width="0.5"/>
<line x1="165.30" y1="403.25" x2="166.40" y2="403.25" stroke="#333" stroke-width="0.5"/>
<line x1="165.30" y1="399.60" x2="166.40" y2="399.60" stroke="#333" stroke-width="0.5"/>
<line x1="165.30" y1="397.01" x2="166.40" y2="397.01" stroke="#333" stroke-width="0.5"/>
<line x1="165.30" y1="395.00" x2="166.40" y2="395.00" stroke="#333" stroke-width="0.5"/>
<line x1="165.30" y1="393.35" x2="166.40" y2="393.35" stroke="#333" stroke-width="0.5"/>
<line x1="165.30" y1="391.96" x2="166.40" y2="391.96" stroke="#333" stroke-width="0.5"/>
<line x1="165.30" y1="390.76" x2="166.40" y2="390.76" stroke="#333" stroke-width="0.5"/>
<line x1="165.30" y1="389.70" x2="166.40" y2="389.70" stroke="#333" stroke-width="0.5"/>
<line x1="165.30" y1="388.75" x2="167.50" y2="388.75" stroke="#333" stroke-width="0.5"/>
<line x1="165.30" y1="382.50" x2="166.40" y2="382.50" stroke="#333" stroke-width="0.5"/>
<line x1="165.30" y1="378.85" x2="166.40" y2="378.85" stroke="#333" stroke-width="0.5"/>
<line x1="165.30" y1="376.26" x2="166.40" y2="376.26" stroke="#333" stroke-width="0.5"/>
<line x1="165.30" y1="374.25" x2="166.40" y2="374.25" stroke="#333" stroke-width="0.5"/>
<line x1="165.30" y1="372.60" x2="166.40" y2="372.60" stroke="#333" stroke-width="0.5"/>
<line x1="165.30" y1="371.21" x2="166.40" y2="371.21" stroke="#333" stroke-width="0.5"/>
<line x1="165.30" y1="370.01" x2="166.40" y2="370.01" stroke="#333" stroke-width="0.5"/>
<line x1="165.30" y1="368.95" x2="166.40" y2="368.95" stroke="#333" stroke-width="0.5"/>
<line x1="191.60" y1="368.00" x2="191.60" y2="451.00" stroke="#333" stroke-width="0.9"/>
<line x1="165.30" y1="422.50" x2="268.50" y2="422.50" stroke="#333" stroke-width="0.9"/>
<text x="177.00" y="363.06" textLength="83.8" lengthAdjust="spacingAndGlyphs" font-family="Liberation Serif" font-size="12.6" fill="#111">apoptotic Mel888</text>
<text x="170.00" y="461.40" text-anchor="middle" font-family="Liberation Sans" font-size="6.3" fill="#111" stroke="#111" stroke-width="0.2">10<tspan dx="0.7" dy="-2.4" font-size="5.4">0</tspan></text>
<text x="195.50" y="461.40" text-anchor="middle" font-family="Liberation Sans" font-size="6.3" fill="#111" stroke="#111" stroke-width="0.2">10<tspan dx="0.7" dy="-2.4" font-size="5.4">1</tspan></text>
<text x="222.00" y="461.40" text-anchor="middle" font-family="Liberation Sans" font-size="6.3" fill="#111" stroke="#111" stroke-width="0.2">10<tspan dx="0.7" dy="-2.4" font-size="5.4">2</tspan></text>
<text x="248.00" y="461.40" text-anchor="middle" font-family="Liberation Sans" font-size="6.3" fill="#111" stroke="#111" stroke-width="0.2">10<tspan dx="0.7" dy="-2.4" font-size="5.4">3</tspan></text>
<text x="273.00" y="461.40" text-anchor="middle" font-family="Liberation Sans" font-size="6.3" fill="#111" stroke="#111" stroke-width="0.2">10<tspan dx="0.7" dy="-2.4" font-size="5.4">4</tspan></text>
<path d="m195 423.45h1m10.5 0h1m-0.5 0h1m7.5 0.5h1m-12.5 0.5h1m-4 0.5h1m3.5 0h1m6.5 0h1m-12.5 0.5h1m0 0h1m5 0h1m-0.5 0h1m3 0h1m-17 0.5h1m-0.5 0h1m7.5 0h1m1.5 0h1m0 0h1m-14.5 0.5h1m3 0h1m0 0h1m0.5 0h1m-0.5 0h1m1 0h1m11.5 0h1m-21.5 0.5h1m0.5 0h1m1 0h1m-0.5 0h1m0.5 0h1m2 0h1m3.5 0h1m8.5 0h1m-29 0.5h1m1 0h1m0 0h1m-0.5 0h1m1.5 0h1m-0.5 0h1m2 0h1m0 0h1m1.5 0h1m2.5 0h1m-0.5 0h1m-0.5 0h1m-0.5 0h1m1.5 0h1m0.5 0h1m0 0h1m-22 0.5h1m2 0h1m0 0h1m-0.5 0h1m0.5 0h1m0 0h1m1.5 0h1m0 0h1m0 0h1m-0.5 0h1m0.5 0h1m-0.5 0h1m-0.5 0h1m6 0h1m0.5 0h1m-19 0.5h1m0.5 0h1m-0.5 0h1m0 0h1m-0.5 0h1m0 0h1m0 0h1m0 0h1m-0.5 0h1m0 0h1m-0.5 0h1m1.5 0h1m0 0h1m0 0h1m0 0h1m-18.5 0.5h1m0 0h1m1 0h1m-0.5 0h1m-0.5 0h1m-0.5 0h1m0.5 0h1m0 0h1m0 0h1m0.5 0h1m-0.5 0h1m-0.5 0h1m0.5 0h1m3.5 0h1m-0.5 0h1m-0.5 0h1m0 0h1m2 0h1m-27.5 0.5h1m-0.5 0h1m0.5 0h1m2 0h1m0.5 0h1m-0.5 0h1m-0.5 0h1m-0.5 0h1m2 0h1m-0.5 0h1m-0.5 0h1m-0.5 0h1m0 0h1m-0.5 0h1m-0.5 0h1m-0.5 0h1m-0.5 0h1m0 0h1m-0.5 0h1m-0.5 0h1m-0.5 0h1m-0.5 0h1m0.5 0h1m-0.5 0h1m2 0h1m1 0h1m-22 0.5h1m0 0h1m-0.5 0h1m1.5 0h1m-0.5 0h1m0 0h1m-0.5 0h1m0 0h1m-0.5 0h1m-0.5 0h1m-0.5 0h1m0 0h1m0 0h1m-0.5 0h1m-0.5 0h1m0 0h1m-0.5 0h1m0.5 0h1m-0.5 0h1m0.5 0h1m-0.5 0h1m-0.5 0h1m-0.5 0h1m0.5 0h1m-0.5 0h1m1.5 0h1m0.5 0h1m3 0h1m-31 0.5h1m-0.5 0h1m1.5 0h1m0 0h1m0.5 0h1m-0.5 0h1m-0.5 0h1m-0.5 0h1m-0.5 0h1m-0.5 0h1m-0.5 0h1m-0.5 0h1m-0.5 0h1m1 0h1m0 0h1m-0.5 0h1m-0.5 0h1m-0.5 0h1m-0.5 0h1m-0.5 0h1m0.5 0h1m-0.5 0h1m-0.5 0h1m1 0h1m-22.5 0.5h1m1.5 0h1m-0.5 0h1m-0.5 0h1m0 0h1m-0.5 0h1m-0.5 0h1m-0.5 0h1m-0.5 0h1m-0.5 0h1m0 0h1m0.5 0h1m-0.5 0h1m-0.5 0h1m-0.5 0h1m0 0h1m0 0h1m-0.5 0h1m0 0h1m-0.5 0h1m-0.5 0h1m-0.5 0h1m-0.5 0h1m-0.5 0h1m-0.5 0h1m-0.5 0h1m-0.5 0h1m-0.5 0h1m-0.5 0h1m-0.5 0h1m-0.5 0h1m0 0h1m1.5 0h1m0.5 0h1m2 0h1m0 0h1m0 0h1m-31 0.5h1m0.5 0h1m0.5 0h1m0 0h1m0 0h1m-0.5 0h1m0 0h1m-0.5 0h1m0 0h1m-0.5 0h1m-0.5 0h1m-0.5 0h1m-0.5 0h1m-0.5 0h1m-0.5 0h1m-0.5 0h1m-0.5 0h1m-0.5 0h1m0 0h1m0 0h1m0 0h1m0 0h1m-0.5 0h1m-0.5 0h1m-0.5 0h1m0.5 0h1m0 0h1m-0.5 0h1m-0.5 0h1m-0.5 0h1m0 0h1m-0.5 0h1m-0.5 0h1m-0.5 0h1m-0.5 0h1m1 0h1m-27 0.5h1m0 0h1m-0.5 0h1m1.5 0h1m-0.5 0h1m-0.5 0h1m-0.5 0h1m0.5 0h1m-0.5 0h1m-0.5 0h1m0 0h1m-0.5 0h1m-0.5 0h1m-0.5 0h1m-0.5 0h1m-0.5 0h1m-0.5 0h1m0 0h1m-0.5 0h1m-0.5 0h1m-0.5 0h1m-0.5 0h1m-0.5 0h1m-0.5 0h1m0.5 0h1m-0.5 0h1m0 0h1m-0.5 0h1m0 0h1m-0.5 0h1m6 0h1m3.5 0h1m-35.5 0.5h1m0.5 0h1m-0.5 0h1m0 0h1m-0.5 0h1m-0.5 0h1m-0.5 0h1m0 0h1m-0.5 0h1m0.5 0h1m-0.5 0h1m-0.5 0h1m-0.5 0h1m0.5 0h1m0 0h1m0 0h1m-0.5 0h1m0 0h1m-0.5 0h1m-0.5 0h1m-0.5 0h1m-0.5 0h1m-0.5 0h1m-0.5 0h1m-0.5 0h1m-0.5 0h1m-0.5 0h1m-0.5 0h1m-0.5 0h1m0 0h1m-0.5 0h1m-0.5 0h1m0.5 0h1m-0.5 0h1m0 0h1m0.5 0h1m1 0h1m-27 0.5h1m-0.5 0h1m-0.5 0h1m-0.5 0h1m-0.5 0h1m0 0h1m-0.5 0h1m-0.5 0h1m0 0h1m-0.5 0h1m-0.5 0h1m-0.5 0h1m-0.5 0h1m-0.5 0h1m0 0h1m-0.5 0h1m-0.5 0h1m-0.5 0h1m-0.5 0h1m-0.5 0h1m0 0h1m-0.5 0h1m-0.5 0h1m-0.5 0h1m-0.5 0h1m-0.5 0h1m-0.5 0h1m-0.5 0h1m-0.5 0h1m-0.5 0h1m-0.5 0h1m0 0h1m-0.5 0h1m0.5 0h1m-0.5 0h1m0 0h1m1 0h1m1.5 0h1m2 0h1m1.5 0h1m-34 0.5h1m0.5 0h1m2.5 0h1m-0.5 0h1m-0.5 0h1m0 0h1m-0.5 0h1m-0.5 0h1m-0.5 0h1m-0.5 0h1m-0.5 0h1m-0.5 0h1m-0.5 0h1m-0.5 0h1m-0.5 0h1m-0.5 0h1m-0.5 0h1m0 0h1m-0.5 0h1m0 0h1m-0.5 0h1m-0.5 0h1m-0.5 0h1m-0.5 0h1m-0.5 0h1m-0.5 0h1m-0.5 0h1m-0.5 0h1m-0.5 0h1m-0.5 0h1m0.5 0h1m-0.5 0h1m-0.5 0h1m0.5 0h1m0 0h1m0 0h1m4.5 0h1m-32.5 0.5h1m1 0h1m-0.5 0h1m-0.5 0h1m0 0h1m-0.5 0h1m-0.5 0h1m-0.5 0h1m-0.5 0h1m-0.5 0h1m-0.5 0h1m-0.5 0h1m-0.5 0h1m-0.5 0h1m-0.5 0h1m-0.5 0h1m-0.5 0h1m-0.5 0h1m-0.5 0h1m-0.5 0h1m-0.5 0h1m-0.5 0h1m-0.5 0h1m-0.5 0h1m-0.5 0h1m-0.5 0h1m-0.5 0h1m-0.5 0h1m-0.5 0h1m-0.5 0h1m0.5 0h1m0 0h1m-0.5 0h1m0 0h1m-0.5 0h1m-0.5 0h1m-0.5 0h1m-0.5 0h1m-0.5 0h1m-0.5 0h1m-0.5 0h1m1 0h1m2 0h1m-30 0.5h1m2.5 0h1m-0.5 0h1m-0.5 0h1m-0.5 0h1m0.5 0h1m-0.5 0h1m-0.5 0h1m-0.5 0h1m-0.5 0h1m-0.5 0h1m-0.5 0h1m-0.5 0h1m-0.5 0h1m-0.5 0h1m-0.5 0h1m-0.5 0h1m-0.5 0h1m-0.5 0h1m-0.5 0h1m-0.5 0h1m-0.5 0h1m-0.5 0h1m-0.5 0h1m-0.5 0h1m-0.5 0h1m-0.5 0h1m0 0h1m-0.5 0h1m-0.5 0h1m-0.5 0h1m-0.5 0h1m-0.5 0h1m0.5 0h1m-0.5 0h1m-0.5 0h1m1.5 0h1m0.5 0h1m-27 0.5h1m-0.5 0h1m0 0h1m0.5 0h1m0 0h1m-0.5 0h1m-0.5 0h1m-0.5 0h1m-0.5 0h1m0 0h1m-0.5 0h1m-0.5 0h1m-0.5 0h1m-0.5 0h1m-0.5 0h1m-0.5 0h1m-0.5 0h1m-0.5 0h1m-0.5 0h1m-0.5 0h1m-0.5 0h1m-0.5 0h1m-0.5 0h1m-0.5 0h1m-0.5 0h1m-0.5 0h1m-0.5 0h1m-0.5 0h1m-0.5 0h1m-0.5 0h1m-0.5 0h1m-0.5 0h1m-0.5 0h1m-0.5 0h1m-0.5 0h1m-0.5 0h1m-0.5 0h1m-0.5 0h1m-0.5 0h1m-0.5 0h1m-0.5 0h1m0 0h1m-0.5 0h1m-0.5 0h1m-0.5 0h1m0 0h1m1.5 0h1m-28.5 0.5h1m-0.5 0h1m-0.5 0h1m-0.5 0h1m-0.5 0h1m1.5 0h1m-0.5 0h1m-0.5 0h1m-0.5 0h1m-0.5 0h1m0 0h1m-0.5 0h1m-0.5 0h1m-0.5 0h1m-0.5 0h1m-0.5 0h1m-0.5 0h1m-0.5 0h1m-0.5 0h1m-0.5 0h1m-0.5 0h1m-0.5 0h1m-0.5 0h1m-0.5 0h1m-0.5 0h1m-0.5 0h1m-0.5 0h1m-0.5 0h1m-0.5 0h1m-0.5 0h1m-0.5 0h1m-0.5 0h1m-0.5 0h1m-0.5 0h1m-0.5 0h1m-0.5 0h1m1 0h1m-0.5 0h1m-0.5 0h1m-0.5 0h1m-0.5 0h1m-0.5 0h1m2.5 0h1m-31.5 0.5h1m2 0h1m-0.5 0h1m-0.5 0h1m1 0h1m-0.5 0h1m-0.5 0h1m-0.5 0h1m0 0h1m-0.5 0h1m-0.5 0h1m-0.5 0h1m-0.5 0h1m-0.5 0h1m-0.5 0h1m-0.5 0h1m-0.5 0h1m-0.5 0h1m-0.5 0h1m-0.5 0h1m-0.5 0h1m0 0h1m-0.5 0h1m-0.5 0h1m-0.5 0h1m-0.5 0h1m-0.5 0h1m-0.5 0h1m-0.5 0h1m-0.5 0h1m-0.5 0h1m-0.5 0h1m0 0h1m-0.5 0h1m-0.5 0h1m-0.5 0h1m1 0h1m-0.5 0h1m-0.5 0h1m-0.5 0h1m-0.5 0h1m-27.5 0.5h1m-0.5 0h1m-0.5 0h1m0 0h1m0 0h1m-0.5 0h1m-0.5 0h1m-0.5 0h1m0 0h1m-0.5 0h1m-0.5 0h1m-0.5 0h1m-0.5 0h1m-0.5 0h1m-0.5 0h1m-0.5 0h1m-0.5 0h1m-0.5 0h1m-0.5 0h1m-0.5 0h1m-0.5 0h1m-0.5 0h1m-0.5 0h1m-0.5 0h1m-0.5 0h1m0 0h1m-0.5 0h1m-0.5 0h1m-0.5 0h1m-0.5 0h1m-0.5 0h1m-0.5 0h1m-0.5 0h1m0 0h1m-0.5 0h1m-0.5 0h1m-0.5 0h1m-0.5 0h1m0 0h1m-0.5 0h1m0 0h1m0.5 0h1m0 0h1m-24.5 0.5h1m0 0h1m-0.5 0h1m-0.5 0h1m-0.5 0h1m-0.5 0h1m-0.5 0h1m-0.5 0h1m-0.5 0h1m-0.5 0h1m-0.5 0h1m-0.5 0h1m-0.5 0h1m-0.5 0h1m-0.5 0h1m-0.5 0h1m-0.5 0h1m-0.5 0h1m-0.5 0h1m-0.5 0h1m-0.5 0h1m-0.5 0h1m-0.5 0h1m-0.5 0h1m0.5 0h1m-0.5 0h1m-0.5 0h1m-0.5 0h1m-0.5 0h1m-0.5 0h1m-0.5 0h1m-0.5 0h1m0.5 0h1m0 0h1m1.5 0h1m1 0h1m5 0h1m-33.5 0.5h1m-0.5 0h1m-0.5 0h1m0 0h1m0 0h1m-0.5 0h1m-0.5 0h1m-0.5 0h1m-0.5 0h1m-0.5 0h1m-0.5 0h1m0 0h1m-0.5 0h1m-0.5 0h1m-0.5 0h1m-0.5 0h1m-0.5 0h1m-0.5 0h1m-0.5 0h1m0 0h1m-0.5 0h1m-0.5 0h1m-0.5 0h1m-0.5 0h1m0 0h1m-0.5 0h1m-0.5 0h1m-0.5 0h1m1 0h1m-0.5 0h1m-0.5 0h1m-0.5 0h1m0 0h1m0.5 0h1m0.5 0h1m0 0h1m-23.5 0.5h1m0 0h1m-0.5 0h1m0.5 0h1m0 0h1m0 0h1m-0.5 0h1m-0.5 0h1m0 0h1m-0.5 0h1m-0.5 0h1m-0.5 0h1m-0.5 0h1m-0.5 0h1m-0.5 0h1m-0.5 0h1m-0.5 0h1m-0.5 0h1m-0.5 0h1m-0.5 0h1m-0.5 0h1m-0.5 0h1m-0.5 0h1m0 0h1m-0.5 0h1m-0.5 0h1m-0.5 0h1m-0.5 0h1m0 0h1m0.5 0h1m0 0h1m0 0h1m1 0h1m-26.5 0.5h1m2.5 0h1m1.5 0h1m-0.5 0h1m-0.5 0h1m-0.5 0h1m-0.5 0h1m-0.5 0h1m-0.5 0h1m-0.5 0h1m-0.5 0h1m-0.5 0h1m-0.5 0h1m-0.5 0h1m-0.5 0h1m-0.5 0h1m-0.5 0h1m-0.5 0h1m0 0h1m-0.5 0h1m-0.5 0h1m-0.5 0h1m-0.5 0h1m-0.5 0h1m-0.5 0h1m-0.5 0h1m-0.5 0h1m-0.5 0h1m-0.5 0h1m-0.5 0h1m-0.5 0h1m0 0h1m0 0h1m0.5 0h1m0.5 0h1m0.5 0h1m-27.5 0.5h1m0 0h1m0.5 0h1m-0.5 0h1m1.5 0h1m-0.5 0h1m0.5 0h1m-0.5 0h1m0 0h1m-0.5 0h1m-0.5 0h1m-0.5 0h1m-0.5 0h1m-0.5 0h1m-0.5 0h1m-0.5 0h1m-0.5 0h1m-0.5 0h1m-0.5 0h1m-0.5 0h1m-0.5 0h1m-0.5 0h1m-0.5 0h1m-0.5 0h1m-0.5 0h1m0 0h1m0 0h1m-0.5 0h1m0 0h1m0 0h1m-0.5 0h1m0 0h1m2 0h1m0.5 0h1m-28 0.5h1m0.5 0h1m0 0h1m-0.5 0h1m0 0h1m0.5 0h1m-0.5 0h1m0 0h1m-0.5 0h1m-0.5 0h1m-0.5 0h1m-0.5 0h1m-0.5 0h1m-0.5 0h1m0 0h1m-0.5 0h1m-0.5 0h1m-0.5 0h1m-0.5 0h1m-0.5 0h1m-0.5 0h1m-0.5 0h1m0 0h1m-0.5 0h1m-0.5 0h1m-0.5 0h1m1 0h1m-0.5 0h1m-0.5 0h1m0 0h1m-0.5 0h1m0.5 0h1m-0.5 0h1m-0.5 0h1m-0.5 0h1m-24.5 0.5h1m1 0h1m0 0h1m-0.5 0h1m0 0h1m0.5 0h1m1 0h1m-0.5 0h1m-0.5 0h1m0 0h1m0.5 0h1m-0.5 0h1m0 0h1m0 0h1m-0.5 0h1m-0.5 0h1m-0.5 0h1m-0.5 0h1m0.5 0h1m1 0h1m-0.5 0h1m2.5 0h1m-0.5 0h1m-25.5 0.5h1m-0.5 0h1m2.5 0h1m1 0h1m0 0h1m-0.5 0h1m0 0h1m0 0h1m-0.5 0h1m0 0h1m0.5 0h1m-0.5 0h1m-0.5 0h1m-0.5 0h1m-0.5 0h1m0 0h1m-0.5 0h1m-0.5 0h1m0 0h1m0 0h1m0.5 0h1m-0.5 0h1m-0.5 0h1m0 0h1m1 0h1m-26 0.5h1m2.5 0h1m-0.5 0h1m0 0h1m-0.5 0h1m-0.5 0h1m-0.5 0h1m-0.5 0h1m-0.5 0h1m-0.5 0h1m-0.5 0h1m-0.5 0h1m0.5 0h1m-0.5 0h1m-0.5 0h1m-0.5 0h1m-0.5 0h1m0.5 0h1m0 0h1m-0.5 0h1m-0.5 0h1m-0.5 0h1m-0.5 0h1m-0.5 0h1m0 0h1m-0.5 0h1m-0.5 0h1m1 0h1m1 0h1m-22 0.5h1m1 0h1m-0.5 0h1m2 0h1m1.5 0h1m-0.5 0h1m-0.5 0h1m1.5 0h1m0.5 0h1m4.5 0h1m0.5 0h1m-19.5 0.5h1m1.5 0h1m2 0h1m-0.5 0h1m1.5 0h1m0 0h1m2 0h1m-0.5 0h1m-0.5 0h1m-0.5 0h1m-19.5 0.5h1m-0.5 0h1m-0.5 0h1m1.5 0h1m0.5 0h1m-0.5 0h1m0 0h1m-0.5 0h1m-0.5 0h1m1.5 0h1m0 0h1m0.5 0h1m1.5 0h1m0.5 0h1m0 0h1m0.5 0h1m1.5 0h1m2 0h1m-25 0.5h1m0 0h1m3.5 0h1m3.5 0h1m2 0h1m1 0h1m-0.5 0h1m-0.5 0h1m-0.5 0h1m-0.5 0h1m0 0h1m2.5 0h1m-23.5 0.5h1m3 0h1m0.5 0h1m0 0h1m-0.5 0h1m5 0h1m-0.5 0h1m2 0h1m0.5 0h1m7 0h1m-22 0.5h1m0 0h1m0.5 0h1m-0.5 0h1m-0.5 0h1m1 0h1m0 0h1m0 0h1m-0.5 0h1m1.5 0h1m3.5 0h1m-18 0.5h1m0 0h1m4 0h1m3.5 0h1m-0.5 0h1m1.5 0h1m2.5 0h1m1 0h1m-0.5 0h1m-14.5 0.5h1m0.5 0h1m1 0h1m1 0h1m2.5 0h1m-0.5 0h1m-15.5 0.5h1m10 0h1m-7 0.5h1m1 0.5h1m-0.5 0h1m3.5 0h1m4.5 0h1m-10.5 0.5h1m4.5 0h1m-9.5 0.5h1m1.5 0h1m11 0h1m-18.5 0.5h1m18 1.5h1" fill="none" stroke="#585858" stroke-width="0.9" stroke-opacity="0.95"/>
<path d="m225.5 419.95h1m10 2h1m-30 0.5h1m2.5 0.5h1m11.5 0h1m2.5 0h1m0.5 0h1m11.5 0h1m-29.5 0.5h1m2.5 0h1m0 0h1m18.5 0h1m-40 1h1m14.5 0h1m1.5 0h1m6 0h1m38.5 0h1m-66.5 0.5h1m18 0h1m12.5 0h1m-0.5 0h1m5.5 0h1m3 0h1m-42.5 0.5h1m1.5 0h1m10 0h1m0.5 0h1m1 0h1m0.5 0h1m-0.5 0h1m0.5 0h1m-0.5 0h1m8.5 0h1m2.5 0h1m5 0h1m6 0h1m8.5 0h1m-63 0.5h1m11 0h1m14.5 0h1m0 0h1m0 0h1m4.5 0h1m11 0h1m13 0h1m-62 0.5h1m10.5 0h1m0.5 0h1m5 0h1m9 0h1m-0.5 0h1m1.5 0h1m0.5 0h1m-0.5 0h1m2.5 0h1m1 0h1m0 0h1m11 0h1m-44 0.5h1m8 0h1m0.5 0h1m1.5 0h1m0.5 0h1m-0.5 0h1m-0.5 0h1m0 0h1m-0.5 0h1m-0.5 0h1m0 0h1m0 0h1m-0.5 0h1m0 0h1m-0.5 0h1m1 0h1m3 0h1m0 0h1m2.5 0h1m-43.5 0.5h1m4 0h1m0.5 0h1m8 0h1m1 0h1m2 0h1m0 0h1m1 0h1m0 0h1m0 0h1m1 0h1m-0.5 0h1m-0.5 0h1m6 0h1m0 0h1m-0.5 0h1m12 0h1m3.5 0h1m-0.5 0h1m-59 0.5h1m0 0h1m10 0h1m-0.5 0h1m5 0h1m1 0h1m0.5 0h1m2 0h1m2.5 0h1m0 0h1m0 0h1m0 0h1m1.5 0h1m0 0h1m-0.5 0h1m1 0h1m2.5 0h1m7 0h1m1 0h1m3 0h1m2.5 0h1m2 0h1m-62.5 0.5h1m2 0h1m3.5 0h1m1 0h1m0.5 0h1m3 0h1m3 0h1m0 0h1m-0.5 0h1m0.5 0h1m-0.5 0h1m-0.5 0h1m1 0h1m0 0h1m0 0h1m2.5 0h1m-0.5 0h1m-0.5 0h1m1 0h1m-0.5 0h1m3 0h1m-0.5 0h1m-0.5 0h1m1 0h1m0 0h1m-0.5 0h1m2.5 0h1m0.5 0h1m-0.5 0h1m1 0h1m1.5 0h1m9 0h1m-56.5 0.5h1m-0.5 0h1m5.5 0h1m1.5 0h1m0.5 0h1m-0.5 0h1m0 0h1m-0.5 0h1m0.5 0h1m0.5 0h1m2.5 0h1m0 0h1m-0.5 0h1m-0.5 0h1m1 0h1m-0.5 0h1m1.5 0h1m-0.5 0h1m0.5 0h1m-0.5 0h1m-0.5 0h1m0 0h1m-0.5 0h1m2 0h1m0 0h1m1 0h1m-0.5 0h1m0 0h1m0 0h1m3 0h1m2.5 0h1m1.5 0h1m-51.5 0.5h1m0 0h1m2 0h1m2 0h1m0 0h1m-0.5 0h1m0 0h1m0 0h1m1 0h1m0.5 0h1m0.5 0h1m-0.5 0h1m-0.5 0h1m0 0h1m-0.5 0h1m0 0h1m0.5 0h1m-0.5 0h1m0 0h1m1.5 0h1m-0.5 0h1m0 0h1m2 0h1m-0.5 0h1m0 0h1m0 0h1m0 0h1m-0.5 0h1m1.5 0h1m-0.5 0h1m0 0h1m-0.5 0h1m1.5 0h1m0.5 0h1m1 0h1m-49 0.5h1m2.5 0h1m-0.5 0h1m-0.5 0h1m2 0h1m4 0h1m0.5 0h1m-0.5 0h1m0 0h1m2 0h1m1.5 0h1m2.5 0h1m-0.5 0h1m-0.5 0h1m-0.5 0h1m0 0h1m2 0h1m-0.5 0h1m-0.5 0h1m-0.5 0h1m-0.5 0h1m0.5 0h1m0 0h1m2.5 0h1m0 0h1m-0.5 0h1m1.5 0h1m-0.5 0h1m1 0h1m0 0h1m6 0h1m6 0h1m3.5 0h1m-63 0.5h1m2 0h1m0 0h1m2.5 0h1m1.5 0h1m-0.5 0h1m4 0h1m0 0h1m-0.5 0h1m1.5 0h1m0.5 0h1m-0.5 0h1m-0.5 0h1m0 0h1m-0.5 0h1m-0.5 0h1m0 0h1m0 0h1m-0.5 0h1m-0.5 0h1m0 0h1m-0.5 0h1m-0.5 0h1m1.5 0h1m-0.5 0h1m0 0h1m-0.5 0h1m-0.5 0h1m0 0h1m-0.5 0h1m0.5 0h1m-0.5 0h1m0.5 0h1m1.5 0h1m-0.5 0h1m2 0h1m1 0h1m1 0h1m3.5 0h1m-56.5 0.5h1m1.5 0h1m2.5 0h1m0 0h1m2 0h1m1.5 0h1m-0.5 0h1m3 0h1m-0.5 0h1m0 0h1m0 0h1m1 0h1m0 0h1m-0.5 0h1m2 0h1m0 0h1m-0.5 0h1m0.5 0h1m-0.5 0h1m2.5 0h1m-0.5 0h1m0 0h1m-0.5 0h1m1 0h1m0.5 0h1m-0.5 0h1m1.5 0h1m1 0h1m1 0h1m1 0h1m3 0h1m1 0h1m-53.5 0.5h1m1.5 0h1m1.5 0h1m-0.5 0h1m0 0h1m4 0h1m0 0h1m-0.5 0h1m-0.5 0h1m0 0h1m-0.5 0h1m0.5 0h1m1.5 0h1m-0.5 0h1m0 0h1m-0.5 0h1m-0.5 0h1m-0.5 0h1m0.5 0h1m0 0h1m-0.5 0h1m-0.5 0h1m-0.5 0h1m-0.5 0h1m-0.5 0h1m0 0h1m0 0h1m0 0h1m0.5 0h1m-0.5 0h1m-0.5 0h1m1.5 0h1m-0.5 0h1m-0.5 0h1m0 0h1m-0.5 0h1m-0.5 0h1m0 0h1m-0.5 0h1m3 0h1m4.5 0h1m0.5 0h1m0 0h1m-50 0.5h1m0 0h1m1 0h1m-0.5 0h1m-0.5 0h1m0 0h1m1.5 0h1m0.5 0h1m0 0h1m0 0h1m-0.5 0h1m0.5 0h1m-0.5 0h1m-0.5 0h1m0.5 0h1m0.5 0h1m1.5 0h1m1.5 0h1m-0.5 0h1m-0.5 0h1m0.5 0h1m-0.5 0h1m0 0h1m0 0h1m-0.5 0h1m-0.5 0h1m-0.5 0h1m0.5 0h1m-0.5 0h1m-0.5 0h1m-0.5 0h1m0 0h1m-0.5 0h1m-0.5 0h1m0 0h1m-0.5 0h1m0 0h1m1.5 0h1m0.5 0h1m0.5 0h1m-0.5 0h1m3.5 0h1m5.5 0h1m0.5 0h1m0.5 0h1m0.5 0h1m-61 0.5h1m0 0h1m5 0h1m0.5 0h1m-0.5 0h1m0 0h1m-0.5 0h1m1.5 0h1m-0.5 0h1m-0.5 0h1m-0.5 0h1m-0.5 0h1m2.5 0h1m0 0h1m-0.5 0h1m-0.5 0h1m-0.5 0h1m-0.5 0h1m-0.5 0h1m-0.5 0h1m-0.5 0h1m0 0h1m1 0h1m-0.5 0h1m-0.5 0h1m-0.5 0h1m-0.5 0h1m-0.5 0h1m0.5 0h1m-0.5 0h1m0 0h1m-0.5 0h1m-0.5 0h1m-0.5 0h1m0.5 0h1m-0.5 0h1m0 0h1m0 0h1m-0.5 0h1m-0.5 0h1m-0.5 0h1m-0.5 0h1m-0.5 0h1m0 0h1m0 0h1m0 0h1m0.5 0h1m-0.5 0h1m0 0h1m-0.5 0h1m4.5 0h1m0.5 0h1m1 0h1m-57 0.5h1m5 0h1m2 0h1m-0.5 0h1m0 0h1m0 0h1m-0.5 0h1m-0.5 0h1m1.5 0h1m0.5 0h1m-0.5 0h1m-0.5 0h1m0 0h1m-0.5 0h1m0 0h1m0 0h1m-0.5 0h1m-0.5 0h1m-0.5 0h1m-0.5 0h1m0.5 0h1m-0.5 0h1m0.5 0h1m0.5 0h1m1.5 0h1m0 0h1m-0.5 0h1m-0.5 0h1m-0.5 0h1m-0.5 0h1m0 0h1m0.5 0h1m-0.5 0h1m-0.5 0h1m-0.5 0h1m-0.5 0h1m0 0h1m0 0h1m-0.5 0h1m-0.5 0h1m0 0h1m-0.5 0h1m1 0h1m-0.5 0h1m0 0h1m0 0h1m0 0h1m1 0h1m-0.5 0h1m1 0h1m1.5 0h1m1.5 0h1m0 0h1m1 0h1m0.5 0h1m1.5 0h1m-66.5 0.5h1m0.5 0h1m0.5 0h1m2 0h1m3 0h1m-0.5 0h1m0.5 0h1m0.5 0h1m0.5 0h1m1.5 0h1m-0.5 0h1m0 0h1m0 0h1m0.5 0h1m-0.5 0h1m0 0h1m0 0h1m-0.5 0h1m-0.5 0h1m-0.5 0h1m-0.5 0h1m-0.5 0h1m0 0h1m-0.5 0h1m-0.5 0h1m0 0h1m0 0h1m-0.5 0h1m1 0h1m-0.5 0h1m-0.5 0h1m-0.5 0h1m-0.5 0h1m-0.5 0h1m-0.5 0h1m-0.5 0h1m-0.5 0h1m-0.5 0h1m-0.5 0h1m1 0h1m-0.5 0h1m-0.5 0h1m-0.5 0h1m0 0h1m-0.5 0h1m-0.5 0h1m0.5 0h1m-0.5 0h1m0.5 0h1m-0.5 0h1m0 0h1m-0.5 0h1m-0.5 0h1m-0.5 0h1m0 0h1m1 0h1m4.5 0h1m3.5 0h1m7.5 0h1m-70 0.5h1m-0.5 0h1m-0.5 0h1m0 0h1m5 0h1m1 0h1m3.5 0h1m-0.5 0h1m0 0h1m-0.5 0h1m-0.5 0h1m0.5 0h1m-0.5 0h1m-0.5 0h1m-0.5 0h1m-0.5 0h1m-0.5 0h1m-0.5 0h1m1.5 0h1m-0.5 0h1m-0.5 0h1m1 0h1m-0.5 0h1m-0.5 0h1m0 0h1m-0.5 0h1m0.5 0h1m-0.5 0h1m-0.5 0h1m0.5 0h1m-0.5 0h1m-0.5 0h1m-0.5 0h1m-0.5 0h1m-0.5 0h1m-0.5 0h1m1.5 0h1m0.5 0h1m0 0h1m-0.5 0h1m0 0h1m1 0h1m-0.5 0h1m1 0h1m0 0h1m0 0h1m0.5 0h1m3 0h1m0.5 0h1m11.5 0h1m-72 0.5h1m-0.5 0h1m0.5 0h1m1 0h1m0.5 0h1m0 0h1m1.5 0h1m-0.5 0h1m-0.5 0h1m-0.5 0h1m0.5 0h1m0.5 0h1m-0.5 0h1m0 0h1m0 0h1m0 0h1m0 0h1m-0.5 0h1m1.5 0h1m-0.5 0h1m0 0h1m-0.5 0h1m-0.5 0h1m-0.5 0h1m-0.5 0h1m0 0h1m-0.5 0h1m-0.5 0h1m1 0h1m-0.5 0h1m-0.5 0h1m-0.5 0h1m-0.5 0h1m-0.5 0h1m0 0h1m-0.5 0h1m-0.5 0h1m-0.5 0h1m-0.5 0h1m0.5 0h1m-0.5 0h1m0 0h1m-0.5 0h1m-0.5 0h1m-0.5 0h1m0 0h1m0 0h1m1 0h1m2.5 0h1m2 0h1m0 0h1m2 0h1m2 0h1m1.5 0h1m4 0h1m-65 0.5h1m2 0h1m0.5 0h1m-0.5 0h1m-0.5 0h1m0 0h1m-0.5 0h1m-0.5 0h1m0 0h1m0.5 0h1m0.5 0h1m-0.5 0h1m-0.5 0h1m0.5 0h1m0.5 0h1m-0.5 0h1m-0.5 0h1m1.5 0h1m-0.5 0h1m-0.5 0h1m-0.5 0h1m0 0h1m0 0h1m0.5 0h1m0.5 0h1m-0.5 0h1m0 0h1m2 0h1m-0.5 0h1m-0.5 0h1m-0.5 0h1m0 0h1m-0.5 0h1m-0.5 0h1m-0.5 0h1m-0.5 0h1m-0.5 0h1m0.5 0h1m0.5 0h1m-0.5 0h1m-0.5 0h1m-0.5 0h1m-0.5 0h1m-0.5 0h1m1 0h1m1.5 0h1m0 0h1m0 0h1m0.5 0h1m-0.5 0h1m0 0h1m0 0h1m3.5 0h1m5 0h1m0 0h1m-63.5 0.5h1m0 0h1m0.5 0h1m0 0h1m0 0h1m-0.5 0h1m0 0h1m1.5 0h1m-0.5 0h1m1.5 0h1m-0.5 0h1m-0.5 0h1m2.5 0h1m0.5 0h1m-0.5 0h1m-0.5 0h1m-0.5 0h1m-0.5 0h1m0 0h1m-0.5 0h1m0 0h1m-0.5 0h1m-0.5 0h1m-0.5 0h1m-0.5 0h1m1.5 0h1m0 0h1m-0.5 0h1m0 0h1m-0.5 0h1m-0.5 0h1m-0.5 0h1m0 0h1m-0.5 0h1m-0.5 0h1m-0.5 0h1m-0.5 0h1m-0.5 0h1m-0.5 0h1m-0.5 0h1m-0.5 0h1m0 0h1m-0.5 0h1m-0.5 0h1m0 0h1m-0.5 0h1m-0.5 0h1m-0.5 0h1m0.5 0h1m0.5 0h1m0 0h1m0 0h1m0 0h1m4 0h1m1.5 0h1m2.5 0h1m-57 0.5h1m-0.5 0h1m0.5 0h1m4.5 0h1m-0.5 0h1m2 0h1m-0.5 0h1m-0.5 0h1m-0.5 0h1m1.5 0h1m0 0h1m-0.5 0h1m-0.5 0h1m1 0h1m-0.5 0h1m-0.5 0h1m-0.5 0h1m0 0h1m0 0h1m0 0h1m-0.5 0h1m1 0h1m-0.5 0h1m0 0h1m-0.5 0h1m-0.5 0h1m-0.5 0h1m-0.5 0h1m-0.5 0h1m-0.5 0h1m-0.5 0h1m1.5 0h1m-0.5 0h1m0 0h1m-0.5 0h1m-0.5 0h1m-0.5 0h1m0 0h1m-0.5 0h1m-0.5 0h1m3.5 0h1m-0.5 0h1m-0.5 0h1m-0.5 0h1m0 0h1m0 0h1m-0.5 0h1m1 0h1m2.5 0h1m3.5 0h1m-57.5 0.5h1m1 0h1m1.5 0h1m0 0h1m0 0h1m0 0h1m0 0h1m0.5 0h1m-0.5 0h1m-0.5 0h1m1.5 0h1m-0.5 0h1m-0.5 0h1m-0.5 0h1m-0.5 0h1m0.5 0h1m-0.5 0h1m1 0h1m-0.5 0h1m-0.5 0h1m1 0h1m-0.5 0h1m-0.5 0h1m0.5 0h1m-0.5 0h1m-0.5 0h1m-0.5 0h1m0 0h1m-0.5 0h1m-0.5 0h1m0 0h1m0 0h1m0 0h1m-0.5 0h1m-0.5 0h1m-0.5 0h1m-0.5 0h1m-0.5 0h1m-0.5 0h1m0 0h1m-0.5 0h1m0 0h1m0.5 0h1m-0.5 0h1m-0.5 0h1m-0.5 0h1m1 0h1m-0.5 0h1m3 0h1m-0.5 0h1m-0.5 0h1m0.5 0h1m0 0h1m-0.5 0h1m1.5 0h1m1 0h1m9.5 0h1m4 0h1m-69.5 0.5h1m0.5 0h1m-0.5 0h1m-0.5 0h1m1 0h1m-0.5 0h1m-0.5 0h1m0.5 0h1m0 0h1m-0.5 0h1m-0.5 0h1m1 0h1m1 0h1m-0.5 0h1m0.5 0h1m-0.5 0h1m-0.5 0h1m-0.5 0h1m-0.5 0h1m-0.5 0h1m-0.5 0h1m-0.5 0h1m-0.5 0h1m-0.5 0h1m0 0h1m-0.5 0h1m0 0h1m-0.5 0h1m0 0h1m-0.5 0h1m-0.5 0h1m-0.5 0h1m-0.5 0h1m-0.5 0h1m-0.5 0h1m-0.5 0h1m-0.5 0h1m0 0h1m-0.5 0h1m-0.5 0h1m0 0h1m0 0h1m0 0h1m0.5 0h1m-0.5 0h1m-0.5 0h1m0 0h1m-0.5 0h1m0 0h1m0 0h1m4 0h1m-0.5 0h1m0.5 0h1m-0.5 0h1m2 0h1m0.5 0h1m-55 0.5h1m3.5 0h1m1 0h1m1 0h1m0 0h1m-0.5 0h1m-0.5 0h1m0 0h1m1 0h1m-0.5 0h1m-0.5 0h1m-0.5 0h1m0 0h1m-0.5 0h1m-0.5 0h1m-0.5 0h1m-0.5 0h1m-0.5 0h1m-0.5 0h1m0 0h1m-0.5 0h1m-0.5 0h1m-0.5 0h1m-0.5 0h1m1 0h1m-0.5 0h1m-0.5 0h1m-0.5 0h1m-0.5 0h1m0 0h1m0 0h1m-0.5 0h1m-0.5 0h1m-0.5 0h1m-0.5 0h1m-0.5 0h1m0 0h1m-0.5 0h1m-0.5 0h1m-0.5 0h1m-0.5 0h1m0 0h1m-0.5 0h1m-0.5 0h1m-0.5 0h1m0 0h1m-0.5 0h1m1 0h1m0.5 0h1m0 0h1m2 0h1m-0.5 0h1m-0.5 0h1m1.5 0h1m0 0h1m0 0h1m-0.5 0h1m0.5 0h1m-51.5 0.5h1m0 0h1m-0.5 0h1m1 0h1m0 0h1m2 0h1m-0.5 0h1m0 0h1m-0.5 0h1m1 0h1m-0.5 0h1m-0.5 0h1m0.5 0h1m0 0h1m-0.5 0h1m-0.5 0h1m-0.5 0h1m-0.5 0h1m-0.5 0h1m-0.5 0h1m0 0h1m0 0h1m-0.5 0h1m-0.5 0h1m-0.5 0h1m-0.5 0h1m-0.5 0h1m-0.5 0h1m-0.5 0h1m-0.5 0h1m0 0h1m-0.5 0h1m-0.5 0h1m-0.5 0h1m-0.5 0h1m0 0h1m-0.5 0h1m-0.5 0h1m0 0h1m-0.5 0h1m0 0h1m-0.5 0h1m0.5 0h1m0 0h1m0 0h1m-0.5 0h1m0 0h1m-0.5 0h1m0.5 0h1m0 0h1m0 0h1m3 0h1m0.5 0h1m-0.5 0h1m0.5 0h1m23.5 0h1m-71 0.5h1m1.5 0h1m0.5 0h1m-0.5 0h1m-0.5 0h1m0.5 0h1m-0.5 0h1m0 0h1m-0.5 0h1m0.5 0h1m1 0h1m-0.5 0h1m-0.5 0h1m-0.5 0h1m0 0h1m-0.5 0h1m0 0h1m0.5 0h1m0.5 0h1m-0.5 0h1m-0.5 0h1m0 0h1m1 0h1m-0.5 0h1m0 0h1m-0.5 0h1m-0.5 0h1m-0.5 0h1m-0.5 0h1m0 0h1m0 0h1m-0.5 0h1m-0.5 0h1m-0.5 0h1m0 0h1m0.5 0h1m0 0h1m0 0h1m0 0h1m-0.5 0h1m0 0h1m-0.5 0h1m-0.5 0h1m-0.5 0h1m-0.5 0h1m0.5 0h1m1.5 0h1m0 0h1m1.5 0h1m1.5 0h1m8.5 0h1m-62 0.5h1m1.5 0h1m-0.5 0h1m0.5 0h1m1 0h1m0 0h1m-0.5 0h1m-0.5 0h1m-0.5 0h1m-0.5 0h1m1.5 0h1m-0.5 0h1m0 0h1m0.5 0h1m0 0h1m-0.5 0h1m0.5 0h1m0.5 0h1m2 0h1m0 0h1m-0.5 0h1m1 0h1m-0.5 0h1m0.5 0h1m-0.5 0h1m-0.5 0h1m0 0h1m-0.5 0h1m-0.5 0h1m0 0h1m1 0h1m1 0h1m0 0h1m-0.5 0h1m-0.5 0h1m-0.5 0h1m-0.5 0h1m1 0h1m-0.5 0h1m0.5 0h1m0 0h1m0 0h1m0 0h1m6.5 0h1m1 0h1m-57.5 0.5h1m1 0h1m2 0h1m1.5 0h1m0 0h1m0 0h1m0 0h1m1.5 0h1m0 0h1m-0.5 0h1m-0.5 0h1m0 0h1m0 0h1m-0.5 0h1m-0.5 0h1m1 0h1m0 0h1m1.5 0h1m-0.5 0h1m-0.5 0h1m-0.5 0h1m-0.5 0h1m0 0h1m-0.5 0h1m-0.5 0h1m0 0h1m0 0h1m2 0h1m0 0h1m0.5 0h1m1 0h1m0 0h1m0.5 0h1m-0.5 0h1m2.5 0h1m2 0h1m2 0h1m-49 0.5h1m3 0h1m0.5 0h1m0.5 0h1m0 0h1m0 0h1m1 0h1m-0.5 0h1m-0.5 0h1m-0.5 0h1m-0.5 0h1m0.5 0h1m0.5 0h1m-0.5 0h1m0 0h1m-0.5 0h1m0.5 0h1m0 0h1m-0.5 0h1m-0.5 0h1m-0.5 0h1m-0.5 0h1m-0.5 0h1m0 0h1m0 0h1m0 0h1m-0.5 0h1m0.5 0h1m-0.5 0h1m-0.5 0h1m0.5 0h1m-0.5 0h1m-0.5 0h1m0 0h1m0 0h1m0 0h1m0.5 0h1m0.5 0h1m0 0h1m0 0h1m0 0h1m-0.5 0h1m-0.5 0h1m2 0h1m1 0h1m4 0h1m0.5 0h1m0.5 0h1m0 0h1m-58 0.5h1m3 0h1m0 0h1m2 0h1m1 0h1m0 0h1m0.5 0h1m-0.5 0h1m0 0h1m1 0h1m-0.5 0h1m0 0h1m0 0h1m0 0h1m0.5 0h1m-0.5 0h1m0.5 0h1m1 0h1m1.5 0h1m2.5 0h1m4 0h1m-0.5 0h1m-0.5 0h1m0.5 0h1m0 0h1m1 0h1m0 0h1m2 0h1m2 0h1m3 0h1m-49.5 0.5h1m-0.5 0h1m0 0h1m-0.5 0h1m1.5 0h1m-0.5 0h1m1 0h1m1 0h1m0 0h1m0.5 0h1m0 0h1m-0.5 0h1m-0.5 0h1m1 0h1m-0.5 0h1m0.5 0h1m0 0h1m-0.5 0h1m0 0h1m0.5 0h1m-0.5 0h1m-0.5 0h1m0 0h1m0 0h1m2 0h1m-0.5 0h1m-0.5 0h1m0.5 0h1m0 0h1m-0.5 0h1m2 0h1m1.5 0h1m-0.5 0h1m1 0h1m1 0h1m11 0h1m-56 0.5h1m0 0h1m1.5 0h1m1.5 0h1m11.5 0h1m-0.5 0h1m1.5 0h1m-0.5 0h1m0 0h1m1 0h1m0.5 0h1m0 0h1m1 0h1m-0.5 0h1m-0.5 0h1m-0.5 0h1m1 0h1m0 0h1m0.5 0h1m6 0h1m1 0h1m0.5 0h1m1 0h1m-0.5 0h1m7.5 0h1m-59.5 0.5h1m-0.5 0h1m1 0h1m2 0h1m6.5 0h1m-0.5 0h1m0 0h1m0 0h1m1.5 0h1m0.5 0h1m0 0h1m0.5 0h1m-0.5 0h1m-0.5 0h1m1.5 0h1m1.5 0h1m-0.5 0h1m-0.5 0h1m1.5 0h1m1.5 0h1m-0.5 0h1m0.5 0h1m0 0h1m-0.5 0h1m3 0h1m12 0h1m5.5 0h1m-64.5 0.5h1m0 0h1m-0.5 0h1m1.5 0h1m1 0h1m2 0h1m0 0h1m1.5 0h1m3 0h1m-0.5 0h1m-0.5 0h1m0.5 0h1m0.5 0h1m2 0h1m-0.5 0h1m0 0h1m1.5 0h1m-0.5 0h1m1 0h1m0.5 0h1m3.5 0h1m-0.5 0h1m1 0h1m1.5 0h1m1 0h1m0 0h1m-0.5 0h1m7 0h1m1 0h1m2 0h1m0 0h1m2 0h1m-58 0.5h1m2.5 0h1m10 0h1m2 0h1m0 0h1m-0.5 0h1m-0.5 0h1m-0.5 0h1m0.5 0h1m1 0h1m-0.5 0h1m0 0h1m-0.5 0h1m0 0h1m-0.5 0h1m-0.5 0h1m4 0h1m0.5 0h1m-0.5 0h1m-0.5 0h1m7 0h1m3 0h1m-52.5 0.5h1m0 0h1m5.5 0h1m1.5 0h1m1.5 0h1m4 0h1m1.5 0h1m2 0h1m0.5 0h1m-0.5 0h1m1 0h1m0 0h1m2.5 0h1m-0.5 0h1m0 0h1m1 0h1m0 0h1m7 0h1m0.5 0h1m-39.5 0.5h1m4 0h1m-0.5 0h1m5.5 0h1m2 0h1m-0.5 0h1m0.5 0h1m-0.5 0h1m0 0h1m0 0h1m1.5 0h1m0.5 0h1m-0.5 0h1m-0.5 0h1m-0.5 0h1m0.5 0h1m0.5 0h1m0.5 0h1m0 0h1m5.5 0h1m13.5 0h1m-46.5 0.5h1m0.5 0h1m0.5 0h1m1 0h1m1 0h1m0.5 0h1m11.5 0h1m0 0h1m1.5 0h1m1 0h1m0.5 0h1m14 0h1m-51 0.5h1m1.5 0h1m9 0h1m4 0h1m0.5 0h1m1.5 0h1m0 0h1m2 0h1m1 0h1m1 0h1m-31.5 0.5h1m11 0h1m5 0h1m2 0h1m9.5 0h1m1.5 0h1m0.5 0h1m3 0h1m-36.5 0.5h1m3.5 0h1m9 0h1m4.5 0h1m0.5 0h1m27.5 0h1m-57 0.5h1m2.5 0h1m2 0h1m8 0h1m6.5 0h1m11 0h1m-21 0.5h1m9 0h1m6 0h1m1.5 0h1m-26 0.5h1m6 0h1m2.5 0h1m8.5 0h1m-0.5 0h1m-17.5 0.5h1m15 0h1m-0.5 0h1m-20.5 0.5h1m12 0h1m-14.5 0.5h1m-10 0.5h1m1 0h1m13 1h1m10 0h1" fill="none" stroke="#666" stroke-width="0.9" stroke-opacity="0.85"/>
<path d="m244.5 421.45h1m8 1h1m-22.5 1.5h1m7.5 1h1m0.5 0h1m1.5 0h1m3.5 0h1m-20 0.5h1m7.5 0h1m2 0h1m1 0.5h1m6 0.5h1m7 0.5h1m-21.5 0.5h1m2.5 0h1m-5 0.5h1m3 0h1m1.5 0h1m17.5 0h1m-27.5 0.5h1m3.5 0h1m2 0h1m2 0h1m0 0h1m-18.5 0.5h1m0.5 0h1m2.5 0h1m1 0h1m5 0h1m0.5 0h1m-0.5 0h1m-0.5 0h1m2 0h1m-33.5 0.5h1m9 0h1m4 0h1m1 0h1m-0.5 0h1m1.5 0h1m0 0h1m-0.5 0h1m0 0h1m4.5 0h1m0.5 0h1m0 0h1m4.5 0h1m0.5 0h1m-29.5 0.5h1m0.5 0h1m2.5 0h1m10.5 0h1m-0.5 0h1m6.5 0h1m0.5 0h1m2.5 0h1m0 0h1m-22 0.5h1m2.5 0h1m1.5 0h1m0 0h1m-0.5 0h1m0 0h1m0 0h1m-0.5 0h1m1 0h1m-13.5 0.5h1m1 0h1m0 0h1m2.5 0h1m4 0h1m-0.5 0h1m1 0h1m1 0h1m0.5 0h1m-24.5 0.5h1m1.5 0h1m0 0h1m-0.5 0h1m-0.5 0h1m0.5 0h1m0 0h1m-0.5 0h1m3 0h1m-0.5 0h1m-0.5 0h1m3 0h1m-0.5 0h1m-0.5 0h1m4 0h1m5 0h1m-29.5 0.5h1m-0.5 0h1m3.5 0h1m-0.5 0h1m-0.5 0h1m-0.5 0h1m0 0h1m-0.5 0h1m0 0h1m0.5 0h1m-0.5 0h1m0.5 0h1m0.5 0h1m-0.5 0h1m-0.5 0h1m-0.5 0h1m-0.5 0h1m-0.5 0h1m0 0h1m0.5 0h1m1.5 0h1m0 0h1m-28 0.5h1m1.5 0h1m0.5 0h1m3 0h1m2 0h1m-0.5 0h1m0 0h1m0 0h1m2 0h1m-0.5 0h1m-0.5 0h1m-0.5 0h1m1 0h1m0 0h1m-0.5 0h1m1 0h1m-0.5 0h1m0 0h1m1 0h1m2 0h1m-31 0.5h1m1 0h1m0.5 0h1m0 0h1m0 0h1m0.5 0h1m0 0h1m0 0h1m0.5 0h1m3.5 0h1m2 0h1m-0.5 0h1m-0.5 0h1m0 0h1m0 0h1m0.5 0h1m2.5 0h1m0 0h1m-0.5 0h1m0 0h1m-25.5 0.5h1m0.5 0h1m-0.5 0h1m-0.5 0h1m-0.5 0h1m-0.5 0h1m-0.5 0h1m0 0h1m0 0h1m-0.5 0h1m0 0h1m-0.5 0h1m-0.5 0h1m-0.5 0h1m-0.5 0h1m1.5 0h1m0.5 0h1m0 0h1m-0.5 0h1m1.5 0h1m0.5 0h1m-0.5 0h1m1.5 0h1m-0.5 0h1m-0.5 0h1m2.5 0h1m4.5 0h1m-0.5 0h1m-39 0.5h1m-0.5 0h1m3 0h1m0.5 0h1m2 0h1m0 0h1m-0.5 0h1m-0.5 0h1m1.5 0h1m0.5 0h1m0.5 0h1m0 0h1m1 0h1m1 0h1m0 0h1m-0.5 0h1m0 0h1m1 0h1m-0.5 0h1m3.5 0h1m8.5 0h1m-39.5 0.5h1m4 0h1m-0.5 0h1m1.5 0h1m-0.5 0h1m-0.5 0h1m-0.5 0h1m-0.5 0h1m0 0h1m-0.5 0h1m-0.5 0h1m0.5 0h1m0 0h1m0.5 0h1m0 0h1m-0.5 0h1m0 0h1m-0.5 0h1m0.5 0h1m0 0h1m0 0h1m0 0h1m2.5 0h1m-0.5 0h1m2 0h1m-28 0.5h1m-0.5 0h1m0.5 0h1m-0.5 0h1m5 0h1m-0.5 0h1m-0.5 0h1m-0.5 0h1m0.5 0h1m-0.5 0h1m0 0h1m0 0h1m-0.5 0h1m2 0h1m-0.5 0h1m0.5 0h1m1.5 0h1m0.5 0h1m-0.5 0h1m0.5 0h1m0.5 0h1m4 0h1m-41.5 0.5h1m4.5 0h1m4 0h1m-0.5 0h1m0.5 0h1m0 0h1m0 0h1m-0.5 0h1m-0.5 0h1m0.5 0h1m-0.5 0h1m1 0h1m-0.5 0h1m0.5 0h1m-0.5 0h1m0 0h1m0.5 0h1m-0.5 0h1m-0.5 0h1m0 0h1m-0.5 0h1m0.5 0h1m-0.5 0h1m1 0h1m-26 0.5h1m2 0h1m0.5 0h1m0.5 0h1m-0.5 0h1m0.5 0h1m1 0h1m-0.5 0h1m-0.5 0h1m0 0h1m-0.5 0h1m2 0h1m0 0h1m0 0h1m-0.5 0h1m1 0h1m0.5 0h1m0 0h1m0.5 0h1m0.5 0h1m3 0h1m-38 0.5h1m4 0h1m7.5 0h1m0 0h1m0 0h1m0.5 0h1m-0.5 0h1m0.5 0h1m-0.5 0h1m-0.5 0h1m-0.5 0h1m1 0h1m-0.5 0h1m1 0h1m0 0h1m1 0h1m-0.5 0h1m-0.5 0h1m3 0h1m-23.5 0.5h1m0 0h1m0 0h1m-0.5 0h1m0 0h1m0 0h1m-0.5 0h1m-0.5 0h1m0.5 0h1m-0.5 0h1m0 0h1m1.5 0h1m-0.5 0h1m-0.5 0h1m1 0h1m0 0h1m0.5 0h1m0 0h1m1 0h1m0 0h1m-0.5 0h1m-0.5 0h1m1 0h1m-30 0.5h1m5 0h1m-0.5 0h1m1 0h1m-0.5 0h1m-0.5 0h1m1 0h1m0.5 0h1m0 0h1m0 0h1m-0.5 0h1m0 0h1m0.5 0h1m-0.5 0h1m0 0h1m0 0h1m-0.5 0h1m1 0h1m0.5 0h1m3.5 0h1m-0.5 0h1m7.5 0h1m-0.5 0h1m0.5 0h1m-39 0.5h1m5 0h1m-0.5 0h1m0 0h1m1 0h1m1 0h1m0 0h1m0.5 0h1m-0.5 0h1m-0.5 0h1m0 0h1m1.5 0h1m-0.5 0h1m0 0h1m2 0h1m2.5 0h1m0 0h1m0.5 0h1m0 0h1m-29 0.5h1m5.5 0h1m0.5 0h1m0.5 0h1m-0.5 0h1m0 0h1m-0.5 0h1m-0.5 0h1m-0.5 0h1m0 0h1m1 0h1m0 0h1m-0.5 0h1m-0.5 0h1m0 0h1m4 0h1m-0.5 0h1m1 0h1m-29.5 0.5h1m0.5 0h1m0.5 0h1m3 0h1m-0.5 0h1m-0.5 0h1m0 0h1m0.5 0h1m-0.5 0h1m1 0h1m1 0h1m-0.5 0h1m1 0h1m0 0h1m0.5 0h1m-0.5 0h1m-0.5 0h1m-0.5 0h1m1.5 0h1m-0.5 0h1m-0.5 0h1m0.5 0h1m-19 0.5h1m0.5 0h1m1.5 0h1m0.5 0h1m0 0h1m0 0h1m-0.5 0h1m-0.5 0h1m0.5 0h1m-0.5 0h1m1.5 0h1m5 0h1m0 0h1m-30.5 0.5h1m3 0h1m1.5 0h1m-0.5 0h1m-0.5 0h1m0 0h1m0 0h1m0.5 0h1m6.5 0h1m0.5 0h1m0 0h1m2.5 0h1m0 0h1m8 0h1m-29 0.5h1m1.5 0h1m4 0h1m-0.5 0h1m0.5 0h1m-0.5 0h1m1 0h1m0 0h1m0 0h1m-14.5 0.5h1m1.5 0h1m0.5 0h1m4 0h1m-0.5 0h1m3.5 0h1m-0.5 0h1m0 0h1m0.5 0h1m-30.5 0.5h1m5 0h1m1.5 0h1m2 0h1m4 0h1m0.5 0h1m3.5 0h1m1 0h1m0.5 0h1m0.5 0h1m-16.5 0.5h1m7 0h1m-0.5 0h1m0 0h1m2.5 0h1m-18 0.5h1m6.5 0h1m1 0h1m0.5 0h1m1 0h1m0.5 0h1m1 0h1m-8 0.5h1m0 0h1m0.5 0h1m-0.5 0h1m4.5 0.5h1m0 0h1m5.5 0h1m-22 0.5h1m12.5 0h1m-9 0.5h1m-0.5 0h1m-4.5 0.5h1m8.5 0.5h1m-3 1.5h1" fill="none" stroke="#666" stroke-width="0.9" stroke-opacity="0.8"/>
<path d="m259.5 417.95h1m-42 0.5h1m5.5 0h1m-10.5 0.5h1m32 0h1m-39 1h1m-8.5 0.5h1m37.5 0h1m3.5 0h1m-33 1h1m25 0h1m3.5 0.5h1m-43.5 0.5h1m1.5 0h1m34.5 0h1m-6.5 0.5h1m6.5 0h1m-53.5 1h1m1.5 0h1m9 0h1m36 0h1m-40.5 0.5h1m13 0h1m1.5 0h1m9.5 0h1m19 0h1m-18 0.5h1m14.5 0h1m-0.5 0h1m5 0h1m-42.5 0.5h1m8.5 0h1m0 0h1m11 0h1m15 0h1m-51 0.5h1m25.5 0h1m5 0h1m3 0h1m3 0h1m-43.5 0.5h1m10 0h1m6 0h1m17 0h1m12.5 0h1m-55 0.5h1m8.5 0h1m4 0h1m9 0h1m5.5 0h1m6.5 0h1m5 0h1m-28.5 0.5h1m2.5 0h1m20 0h1m4.5 0h1m1.5 0h1m-0.5 0h1m3 0h1m-59.5 0.5h1m9 0h1m13.5 0h1m-0.5 0h1m12 0h1m4 0h1m-44.5 0.5h1m-0.5 0h1m14.5 0h1m3 0h1m2.5 0h1m15.5 0h1m6.5 0h1m1.5 0h1m9.5 0h1m2.5 0h1m-45 0.5h1m9 0h1m-0.5 0h1m6.5 0h1m5 0h1m0 0h1m8 0h1m4.5 0h1m6 0h1m-49 0.5h1m2 0h1m3.5 0h1m3 0h1m24 0h1m-56.5 0.5h1m15.5 0h1m6.5 0h1m17.5 0h1m-0.5 0h1m13 0h1m4 0h1m-39 0.5h1m2 0h1m0 0h1m3 0h1m6 0h1m10.5 0h1m0.5 0h1m1 0h1m19.5 0h1m-62.5 0.5h1m20.5 0h1m0.5 0h1m0.5 0h1m8.5 0h1m4.5 0h1m1 0h1m17.5 0h1m-54.5 0.5h1m1 0h1m2.5 0h1m4.5 0h1m10 0h1m2.5 0h1m-0.5 0h1m3.5 0h1m10.5 0h1m4.5 0h1m1 0h1m10 0h1m-78.5 0.5h1m6 0h1m6.5 0h1m5.5 0h1m3 0h1m3 0h1m3 0h1m-0.5 0h1m2 0h1m-0.5 0h1m1 0h1m17.5 0h1m2.5 0h1m9.5 0h1m-72.5 0.5h1m2 0h1m2 0h1m-0.5 0h1m11.5 0h1m6 0h1m1 0h1m1 0h1m3 0h1m-0.5 0h1m8.5 0h1m5 0h1m4.5 0h1m0 0h1m18 0h1m-76.5 0.5h1m14.5 0h1m1 0h1m3 0h1m-0.5 0h1m1 0h1m1.5 0h1m15 0h1m6 0h1m-0.5 0h1m2.5 0h1m0 0h1m11 0h1m-69.5 0.5h1m14 0h1m11 0h1m1 0h1m1.5 0h1m1.5 0h1m1.5 0h1m0 0h1m-0.5 0h1m1.5 0h1m2 0h1m26.5 0h1m-70 0.5h1m2 0h1m16 0h1m9.5 0h1m3 0h1m-0.5 0h1m6 0h1m2 0h1m-0.5 0h1m2.5 0h1m7 0h1m7 0h1m1.5 0h1m-65 0.5h1m13.5 0h1m2 0h1m1.5 0h1m6.5 0h1m0 0h1m4 0h1m1.5 0h1m0.5 0h1m2 0h1m2 0h1m8.5 0h1m-0.5 0h1m1.5 0h1m3 0h1m-46.5 0.5h1m0.5 0h1m0.5 0h1m2.5 0h1m-0.5 0h1m9 0h1m3.5 0h1m3 0h1m5 0h1m-52.5 0.5h1m1 0h1m22.5 0h1m1 0h1m17 0h1m1.5 0h1m0.5 0h1m1 0h1m2.5 0h1m1 0h1m0 0h1m0.5 0h1m11 0h1m-71.5 0.5h1m6.5 0h1m2 0h1m4 0h1m-0.5 0h1m2 0h1m4 0h1m1 0h1m5 0h1m0 0h1m4 0h1m0 0h1m37 0h1m-56.5 0.5h1m7 0h1m0 0h1m2 0h1m3 0h1m0 0h1m7.5 0h1m4 0h1m19 0h1m-65 0.5h1m-0.5 0h1m5 0h1m0.5 0h1m-0.5 0h1m4.5 0h1m0 0h1m0 0h1m-0.5 0h1m0 0h1m1 0h1m4 0h1m2.5 0h1m2 0h1m0 0h1m1.5 0h1m0.5 0h1m2.5 0h1m0 0h1m12 0h1m-61 0.5h1m11.5 0h1m2 0h1m-0.5 0h1m6.5 0h1m6.5 0h1m5 0h1m2.5 0h1m-0.5 0h1m8 0h1m6.5 0h1m13 0h1m-61 0.5h1m1 0h1m13 0h1m1 0h1m1.5 0h1m-0.5 0h1m0 0h1m8.5 0h1m4 0h1m12 0h1m0.5 0h1m2 0h1m-68 0.5h1m8.5 0h1m11 0h1m7.5 0h1m3 0h1m0.5 0h1m9.5 0h1m2.5 0h1m0 0h1m4.5 0h1m15.5 0h1m-74 0.5h1m1.5 0h1m13 0h1m0 0h1m9 0h1m-0.5 0h1m1 0h1m4 0h1m17.5 0h1m19.5 0h1m-77.5 0.5h1m6.5 0h1m7 0h1m0 0h1m7.5 0h1m0.5 0h1m2.5 0h1m0 0h1m2 0h1m0.5 0h1m1 0h1m6.5 0h1m1 0h1m28 0h1m-72 0.5h1m18.5 0h1m-0.5 0h1m4 0h1m1 0h1m2.5 0h1m1 0h1m0 0h1m6 0h1m2 0h1m4.5 0h1m1.5 0h1m0.5 0h1m0 0h1m3 0h1m3 0h1m-56.5 0.5h1m11.5 0h1m1.5 0h1m3 0h1m1 0h1m2 0h1m8 0h1m3 0h1m2.5 0h1m0 0h1m-0.5 0h1m3.5 0h1m3.5 0h1m-45.5 0.5h1m14 0h1m12.5 0h1m0.5 0h1m4 0h1m5 0h1m0 0h1m-0.5 0h1m10.5 0h1m-0.5 0h1m-58.5 0.5h1m3 0h1m0.5 0h1m1.5 0h1m2 0h1m13 0h1m0 0h1m4.5 0h1m0.5 0h1m5.5 0h1m14 0h1m-66 0.5h1m6 0h1m10 0h1m0 0h1m1 0h1m0 0h1m2.5 0h1m1 0h1m-30 0.5h1m16 0h1m16 0h1m-0.5 0h1m4.5 0h1m11 0h1m-31.5 0.5h1m7 0h1m17.5 0h1m-0.5 0h1m1 0h1m-0.5 0h1m0.5 0h1m1.5 0h1m-0.5 0h1m-0.5 0h1m2 0h1m15.5 0h1m-48 0.5h1m32.5 0h1m-59.5 0.5h1m5 0h1m5 0h1m4 0h1m7.5 0h1m14 0h1m14 0h1m-59 0.5h1m9 0h1m14.5 0h1m0.5 0h1m0.5 0h1m27.5 0h1m-34 0.5h1m1.5 0h1m2 0h1m5 0h1m-32.5 0.5h1m4 0h1m15 0h1m13 0h1m0.5 0h1m-25.5 0.5h1m9 0h1m32.5 0h1m-55.5 0.5h1m8.5 0h1m5 0h1m5 0h1m0 0h1m37 0h1m-42 0.5h1m3.5 0h1m9 0h1m11 0h1m4 0h1m-56.5 0.5h1m10.5 0h1m20 0h1m16 0h1m-20.5 0.5h1m9 0h1m34 0h1m-64.5 0.5h1m10 0h1m9.5 0h1m-32.5 0.5h1m5.5 0h1m5.5 0h1m1.5 0h1m3.5 0h1m6 0h1m15.5 0h1m-33 0.5h1m17.5 0h1m-14 0.5h1m11.5 0h1m10.5 0h1m9 0h1m-23 0.5h1m0 0h1m4.5 0h1m4 0.5h1" fill="none" stroke="#858585" stroke-width="0.9" stroke-opacity="0.7"/>
<path d="m238.5 386.45h1m-5 0.5h1m16.5 0h1m-39.5 0.5h1m19 0h1m8.5 0h1m3.5 0h1m8 0.5h1m-35.5 1h1m6.5 0h1m11.5 0h1m-7.5 0.5h1m2 0h1m8 0h1m-0.5 0h1m9.5 0h1m-43.5 0.5h1m10.5 0h1m10.5 0h1m3.5 0h1m4.5 0h1m1.5 0h1m3 0h1m-0.5 0h1m-25 0.5h1m0 0h1m20 0h1m-5.5 0.5h1m-15 0.5h1m12 0h1m3 0h1m4 0h1m-33.5 0.5h1m6.5 0h1m0 0h1m4 0h1m1.5 0h1m14.5 0h1m-3.5 0.5h1m-35.5 0.5h1m5 0h1m10 0h1m23 0h1m-27 0.5h1m0.5 0h1m12 0h1m-20.5 0.5h1m2 0h1m-0.5 0h1m2.5 0h1m3 0h1m8 0h1m2.5 0h1m-32 0.5h1m6.5 0h1m8.5 0h1m1 0h1m1 0h1m0.5 0h1m13 0h1m0 0h1m1 0h1m0 0h1m0 0h1m-38.5 0.5h1m2 0h1m7 0h1m0 0h1m16.5 0h1m7 0h1m-27.5 0.5h1m3 0h1m4.5 0h1m3.5 0h1m1 0h1m-34.5 0.5h1m4.5 0h1m5 0h1m0.5 0h1m10.5 0h1m0 0h1m1 0h1m3 0h1m0.5 0h1m9 0h1m-0.5 0h1m0 0h1m-38 0.5h1m1 0h1m5 0h1m7.5 0h1m-0.5 0h1m0 0h1m0.5 0h1m2.5 0h1m6 0h1m2.5 0h1m-41.5 0.5h1m3 0h1m6.5 0h1m15.5 0h1m5 0h1m7.5 0h1m-47.5 0.5h1m5 0h1m23.5 0h1m1 0h1m8.5 0h1m0 0h1m-35 0.5h1m6 0h1m4.5 0h1m0 0h1m3 0h1m8.5 0h1m5.5 0h1m4 0h1m-53 0.5h1m7 0h1m17 0h1m2 0h1m6.5 0h1m0 0h1m3 0h1m-44.5 0.5h1m12 0h1m0.5 0h1m5 0h1m2 0h1m0 0h1m-0.5 0h1m-0.5 0h1m-0.5 0h1m-0.5 0h1m4 0h1m6 0h1m0 0h1m-0.5 0h1m9.5 0h1m-37 0.5h1m1.5 0h1m3 0h1m4.5 0h1m0 0h1m7 0h1m0 0h1m3.5 0h1m2 0h1m-47 0.5h1m13.5 0h1m3 0h1m0.5 0h1m12 0h1m7.5 0h1m3.5 0h1m7.5 0h1m2.5 0h1m-59 0.5h1m8 0h1m12 0h1m1 0h1m0.5 0h1m1 0h1m0.5 0h1m1.5 0h1m0 0h1m0.5 0h1m3.5 0h1m1.5 0h1m2 0h1m0.5 0h1m4 0h1m1.5 0h1m-48.5 0.5h1m10.5 0h1m-0.5 0h1m1.5 0h1m10.5 0h1m0 0h1m7.5 0h1m5 0h1m0.5 0h1m2.5 0h1m-54.5 0.5h1m14.5 0h1m2.5 0h1m3.5 0h1m5.5 0h1m1 0h1m0.5 0h1m1.5 0h1m2 0h1m1.5 0h1m11 0h1m-0.5 0h1m0.5 0h1m-38 0.5h1m1.5 0h1m0 0h1m1 0h1m4 0h1m0 0h1m2.5 0h1m0.5 0h1m3.5 0h1m4.5 0h1m1 0h1m0 0h1m1 0h1m2 0h1m0 0h1m0 0h1m4 0h1m-54 0.5h1m8.5 0h1m6 0h1m2.5 0h1m6.5 0h1m1 0h1m4 0h1m9.5 0h1m-53 0.5h1m3.5 0h1m8 0h1m-0.5 0h1m3.5 0h1m7 0h1m-0.5 0h1m-0.5 0h1m-0.5 0h1m0 0h1m6.5 0h1m4.5 0h1m-0.5 0h1m0.5 0h1m0.5 0h1m4 0h1m2.5 0h1m0 0h1m3.5 0h1m-49.5 0.5h1m6 0h1m-0.5 0h1m0.5 0h1m0.5 0h1m-0.5 0h1m8 0h1m2.5 0h1m2.5 0h1m0 0h1m1 0h1m2.5 0h1m-0.5 0h1m0.5 0h1m0 0h1m0 0h1m-0.5 0h1m-0.5 0h1m4 0h1m0.5 0h1m-40 0.5h1m7.5 0h1m1 0h1m0 0h1m-0.5 0h1m0 0h1m3.5 0h1m-0.5 0h1m2.5 0h1m0 0h1m2.5 0h1m1 0h1m2 0h1m1 0h1m2.5 0h1m-37 0.5h1m2 0h1m2.5 0h1m1 0h1m10 0h1m0.5 0h1m3.5 0h1m1 0h1m0 0h1m4.5 0h1m1 0h1m0.5 0h1m-41 0.5h1m5 0h1m8.5 0h1m3 0h1m0.5 0h1m0 0h1m0 0h1m0.5 0h1m0 0h1m1.5 0h1m1 0h1m1.5 0h1m9.5 0h1m-55 0.5h1m4 0h1m1.5 0h1m4.5 0h1m-0.5 0h1m-0.5 0h1m5.5 0h1m1.5 0h1m1 0h1m2 0h1m2.5 0h1m1 0h1m-0.5 0h1m1 0h1m1.5 0h1m3.5 0h1m1 0h1m-0.5 0h1m0 0h1m0 0h1m0.5 0h1m4 0h1m-43 0.5h1m0 0h1m2 0h1m1 0h1m1 0h1m1.5 0h1m4 0h1m-0.5 0h1m-0.5 0h1m-0.5 0h1m-0.5 0h1m3 0h1m-0.5 0h1m1.5 0h1m1.5 0h1m0.5 0h1m5.5 0h1m4 0h1m-63 0.5h1m10 0h1m9.5 0h1m1.5 0h1m0 0h1m0.5 0h1m-0.5 0h1m0 0h1m0.5 0h1m3.5 0h1m0 0h1m1 0h1m2 0h1m2 0h1m2 0h1m3 0h1m-42.5 0.5h1m5.5 0h1m3 0h1m1.5 0h1m-0.5 0h1m0 0h1m1 0h1m1 0h1m-0.5 0h1m1 0h1m1 0h1m4.5 0h1m3 0h1m0 0h1m1 0h1m3.5 0h1m-0.5 0h1m6.5 0h1m0.5 0h1m-40.5 0.5h1m1.5 0h1m2 0h1m-0.5 0h1m-0.5 0h1m2.5 0h1m2 0h1m1 0h1m1 0h1m0 0h1m2 0h1m-0.5 0h1m0.5 0h1m-0.5 0h1m-0.5 0h1m1 0h1m0.5 0h1m1 0h1m4 0h1m1.5 0h1m1.5 0h1m-51.5 0.5h1m5.5 0h1m4 0h1m6 0h1m3 0h1m0.5 0h1m1.5 0h1m0 0h1m0 0h1m0.5 0h1m0 0h1m-0.5 0h1m1 0h1m-0.5 0h1m-0.5 0h1m0.5 0h1m0 0h1m1 0h1m-0.5 0h1m-0.5 0h1m4 0h1m-0.5 0h1m-39.5 0.5h1m6 0h1m5.5 0h1m3 0h1m1 0h1m-0.5 0h1m0.5 0h1m-0.5 0h1m1.5 0h1m6.5 0h1m0 0h1m1.5 0h1m1.5 0h1m2.5 0h1m-39 0.5h1m2 0h1m-0.5 0h1m0 0h1m1 0h1m1.5 0h1m10 0h1m-0.5 0h1m0.5 0h1m3.5 0h1m4.5 0h1m-0.5 0h1m1.5 0h1m0.5 0h1m0.5 0h1m1.5 0h1m-0.5 0h1m-49.5 0.5h1m3 0h1m6.5 0h1m2.5 0h1m2 0h1m0 0h1m1 0h1m0 0h1m7 0h1m1 0h1m-0.5 0h1m-0.5 0h1m0 0h1m1.5 0h1m-0.5 0h1m1.5 0h1m-0.5 0h1m-0.5 0h1m1.5 0h1m-0.5 0h1m9.5 0h1m-0.5 0h1m-56.5 0.5h1m4.5 0h1m7 0h1m0.5 0h1m2 0h1m1 0h1m1.5 0h1m1.5 0h1m-0.5 0h1m-0.5 0h1m0 0h1m5.5 0h1m-0.5 0h1m-0.5 0h1m0 0h1m13 0h1m-55.5 0.5h1m1 0h1m1 0h1m4.5 0h1m4.5 0h1m4 0h1m-0.5 0h1m5 0h1m3.5 0h1m-0.5 0h1m-0.5 0h1m2.5 0h1m5 0h1m-0.5 0h1m0.5 0h1m1 0h1m1 0h1m1 0h1m7.5 0h1m-64.5 0.5h1m5.5 0h1m7.5 0h1m7 0h1m3 0h1m1.5 0h1m5 0h1m0 0h1m-0.5 0h1m1.5 0h1m-0.5 0h1m2 0h1m3 0h1m0.5 0h1m0.5 0h1m5 0h1m-0.5 0h1m1 0h1m1.5 0h1m0 0h1m-54 0.5h1m2.5 0h1m-0.5 0h1m6 0h1m0 0h1m0.5 0h1m0 0h1m1 0h1m1 0h1m0.5 0h1m1.5 0h1m0 0h1m0.5 0h1m3 0h1m0.5 0h1m0.5 0h1m3.5 0h1m1 0h1m1 0h1m9 0h1m-61.5 0.5h1m5.5 0h1m-0.5 0h1m10 0h1m0.5 0h1m6.5 0h1m5 0h1m0 0h1m0 0h1m-0.5 0h1m2 0h1m0.5 0h1m0 0h1m3 0h1m2 0h1m0.5 0h1m1.5 0h1m-0.5 0h1m3.5 0h1m3 0h1m-35 0.5h1m0.5 0h1m3 0h1m0.5 0h1m0.5 0h1m0.5 0h1m6.5 0h1m6.5 0h1m1.5 0h1m0.5 0h1m9.5 0h1m-68.5 0.5h1m15 0h1m-0.5 0h1m-0.5 0h1m0.5 0h1m1.5 0h1m11.5 0h1m-0.5 0h1m1.5 0h1m-0.5 0h1m3 0h1m-0.5 0h1m0.5 0h1m3.5 0h1m2 0h1m1.5 0h1m0 0h1m0.5 0h1m2.5 0h1m3 0h1m1 0h1m1 0h1m-52 0.5h1m6.5 0h1m-0.5 0h1m3 0h1m0 0h1m4 0h1m3 0h1m0.5 0h1m0 0h1m-0.5 0h1m6 0h1m1 0h1m0 0h1m5 0h1m-56 0.5h1m3.5 0h1m9.5 0h1m0.5 0h1m10 0h1m4.5 0h1m0.5 0h1m0 0h1m1 0h1m0.5 0h1m5 0h1m1.5 0h1m1.5 0h1m0 0h1m3 0h1m-0.5 0h1m4 0h1m-45 0.5h1m1.5 0h1m4.5 0h1m0 0h1m1 0h1m2 0h1m7.5 0h1m2.5 0h1m4 0h1m1 0h1m2 0h1m0.5 0h1m2.5 0h1m1 0h1m-43.5 0.5h1m2.5 0h1m0 0h1m1 0h1m0.5 0h1m-0.5 0h1m0 0h1m0 0h1m4.5 0h1m2 0h1m-0.5 0h1m-0.5 0h1m0.5 0h1m-0.5 0h1m8 0h1m10.5 0h1m-0.5 0h1m-0.5 0h1m-54.5 0.5h1m11 0h1m-0.5 0h1m4.5 0h1m1 0h1m5 0h1m-0.5 0h1m3 0h1m0 0h1m6 0h1m4 0h1m13.5 0h1m-51.5 0.5h1m7 0h1m0.5 0h1m0.5 0h1m2 0h1m7.5 0h1m5.5 0h1m-0.5 0h1m-0.5 0h1m0 0h1m3.5 0h1m2.5 0h1m-46 0.5h1m15.5 0h1m1.5 0h1m2 0h1m4 0h1m1.5 0h1m7 0h1m1 0h1m-0.5 0h1m1 0h1m4.5 0h1m-44 0.5h1m7 0h1m3 0h1m2 0h1m1 0h1m-0.5 0h1m0.5 0h1m-0.5 0h1m1 0h1m0.5 0h1m0 0h1m0 0h1m3 0h1m13.5 0h1m1.5 0h1m-45 0.5h1m5 0h1m-0.5 0h1m0 0h1m-0.5 0h1m2.5 0h1m7 0h1m3.5 0h1m-0.5 0h1m3.5 0h1m-30 0.5h1m-0.5 0h1m1 0h1m0.5 0h1m7 0h1m0 0h1m0 0h1m0.5 0h1m0 0h1m-0.5 0h1m5.5 0h1m-0.5 0h1m2 0h1m0.5 0h1m0.5 0h1m-0.5 0h1m4 0h1m12 0h1m-57 0.5h1m-0.5 0h1m12.5 0h1m6 0h1m0.5 0h1m1 0h1m2.5 0h1m10 0h1m-42.5 0.5h1m1.5 0h1m1.5 0h1m0.5 0h1m5.5 0h1m2.5 0h1m-0.5 0h1m-0.5 0h1m5 0h1m7 0h1m3 0h1m7 0h1m3 0h1m0 0h1m-42 0.5h1m6.5 0h1m2.5 0h1m-0.5 0h1m-0.5 0h1m-0.5 0h1m1.5 0h1m1 0h1m1.5 0h1m6 0h1m-0.5 0h1m6 0h1m1.5 0h1m-26 0.5h1m0 0h1m5 0h1m1.5 0h1m1.5 0h1m2 0h1m1 0h1m0.5 0h1m3 0h1m1 0h1m-40 0.5h1m3 0h1m2.5 0h1m7 0h1m13 0h1m1.5 0h1m-36 0.5h1m3 0h1m-0.5 0h1m0.5 0h1m1 0h1m1.5 0h1m2.5 0h1m1.5 0h1m2.5 0h1m4 0h1m1 0h1m3.5 0h1m2.5 0h1m1.5 0h1m2.5 0h1m14 0h1m-55 0.5h1m1.5 0h1m6.5 0h1m6.5 0h1m4.5 0h1m17.5 0h1m-40.5 0.5h1m28 0h1m7.5 0h1m1.5 0h1m-40 0.5h1m0.5 0h1m10 0h1m5 0h1m1.5 0h1m-0.5 0h1m2.5 0h1m11 0h1m-25 0.5h1m4 0h1m11 0h1m0 0h1m0 0h1m-0.5 0h1m8.5 0h1m1 0h1m-43.5 0.5h1m4.5 0h1m0 0h1m7.5 0h1m14 0h1m-0.5 0h1m0 0h1m-37 0.5h1m11 0h1m-0.5 0h1m1.5 0h1m0.5 0h1m17.5 0h1m-40.5 0.5h1m1 0h1m2 0h1m2 0h1m2.5 0h1m13.5 0h1m5.5 0h1m-39 0.5h1m24 0h1m6.5 0h1m10 0h1m16 0h1m-43.5 0.5h1m15 0h1" fill="none" stroke="#707070" stroke-width="0.9" stroke-opacity="0.8"/>
<text x="279.30" y="440.40" textLength="30.4" lengthAdjust="spacingAndGlyphs" font-family="Liberation Serif" font-size="10.3" fill="#444">84,62%</text>
<text transform="translate(33.29,409.40) rotate(-90)" text-anchor="middle" textLength="83" lengthAdjust="spacingAndGlyphs" font-family="Liberation Serif" font-size="13" fill="#111">propidium iodide</text>
<text x="117.50" y="481.46" textLength="81" lengthAdjust="spacingAndGlyphs" font-family="Liberation Serif" font-size="12.6" fill="#111">annexin V-FITC</text>
<line x1="36.50" y1="478.50" x2="111.00" y2="478.50" stroke="#333" stroke-width="0.9"/>
<line x1="201.00" y1="478.50" x2="275.50" y2="478.50" stroke="#333" stroke-width="0.9"/>
<text x="332.50" y="375.87" textLength="13.6" lengthAdjust="spacingAndGlyphs" font-family="Liberation Serif" font-size="10.2" fill="#222">DC</text>
<text x="353.80" y="375.87" textLength="30.8" lengthAdjust="spacingAndGlyphs" font-family="Liberation Serif" font-size="10.2" fill="#222">Mel888</text>
<text x="390.00" y="375.87" textLength="30.8" lengthAdjust="spacingAndGlyphs" font-family="Liberation Serif" font-size="10.2" fill="#222">Mel888</text>
<text x="365.50" y="395.37" textLength="19.5" lengthAdjust="spacingAndGlyphs" font-family="Liberation Serif" font-size="10.2" fill="#222">apop</text>
<text x="395.80" y="395.37" textLength="36.2" lengthAdjust="spacingAndGlyphs" font-family="Liberation Serif" font-size="10.2" fill="#222">untreated</text>
<defs><filter id="blur" x="-20%" y="-40%" width="140%" height="180%"><feGaussianBlur stdDeviation="0.75"/></filter></defs>
<g filter="url(#blur)" fill="#0a0a0a"><path d="M362.6 412.4c0-2.6 2.2-4.2 5.2-4.2c2.4 0 3.8 2.2 6 2.4c2 0.1 3.8-1.1 6.4-1.1c3 0 5 1.3 5 3.1c0 1.8-2 3-5 3c-2.6 0-4.4-1.2-6.4-1.1c-2.2 0.1-3.6 2.2-6 2.2c-3 0-5.2-1.7-5.2-4.3z"/><path d="M389.8 412.3c0-3.2 3-5.4 7.6-5.4c3.4 0 5.8 0.7 9 1.1c3.4 0.4 6.6 1.5 6.6 4c0 2.6-3 4-6.4 4.5c-3 0.5-5.8 1.6-9.2 1.6c-4.6 0-7.6-2.4-7.6-5.8z"/></g>
<text x="428.60" y="417.09" font-weight="bold" textLength="91" lengthAdjust="spacingAndGlyphs" font-family="Liberation Serif" font-size="13" fill="#000">MelanA/MART-1</text>
<line x1="56.50" y1="515.50" x2="56.50" y2="624.60" stroke="#d8d8d8" stroke-width="1"/>
<line x1="56.30" y1="624.60" x2="225.60" y2="624.60" stroke="#c4c4c4" stroke-width="1"/>
<text x="50.20" y="627.52" text-anchor="end" font-family="Liberation Sans" font-size="7.6" fill="#111" stroke="#111" stroke-width="0.12">0</text>
<text x="50.20" y="609.42" text-anchor="end" font-family="Liberation Sans" font-size="7.6" fill="#111" stroke="#111" stroke-width="0.12">200</text>
<text x="50.20" y="591.32" text-anchor="end" font-family="Liberation Sans" font-size="7.6" fill="#111" stroke="#111" stroke-width="0.12">400</text>
<text x="50.20" y="573.22" text-anchor="end" font-family="Liberation Sans" font-size="7.6" fill="#111" stroke="#111" stroke-width="0.12">600</text>
<text x="50.20" y="555.12" text-anchor="end" font-family="Liberation Sans" font-size="7.6" fill="#111" stroke="#111" stroke-width="0.12">800</text>
<text x="50.20" y="537.02" text-anchor="end" font-family="Liberation Sans" font-size="7.6" fill="#111" stroke="#111" stroke-width="0.12">1000</text>
<text x="50.20" y="518.92" text-anchor="end" font-family="Liberation Sans" font-size="7.6" fill="#111" stroke="#111" stroke-width="0.12">1200</text>
<line x1="112.50" y1="624.60" x2="112.50" y2="626.60" stroke="#c4c4c4" stroke-width="0.8"/>
<line x1="168.80" y1="624.60" x2="168.80" y2="626.60" stroke="#c4c4c4" stroke-width="0.8"/>
<line x1="225.40" y1="624.60" x2="225.40" y2="626.60" stroke="#c4c4c4" stroke-width="0.8"/>
<path d="M73.30 615.80C77.69 615.20 92.54 623.03 101.30 612.00C110.06 600.97 120.40 558.48 129.20 545.40C138.00 532.32 148.57 530.98 157.50 528.50C166.43 526.02 177.38 530.34 186.20 529.60C195.02 528.86 209.48 524.71 213.80 523.80" fill="none" stroke="#1a1a1a" stroke-width="1.0"/>
<path d="M73.30 617.80C77.69 616.95 92.54 622.79 101.30 612.40C110.06 602.01 120.40 563.69 129.20 551.50C138.00 539.31 148.57 537.62 157.50 534.60C166.43 531.58 177.38 533.01 186.20 532.20C195.02 531.39 209.48 529.84 213.80 529.40" fill="none" stroke="#1a1a1a" stroke-width="1.0"/>
<line x1="73.30" y1="613.40" x2="73.30" y2="618.20" stroke="#111" stroke-width="0.9"/>
<line x1="70.40" y1="613.40" x2="76.20" y2="613.40" stroke="#111" stroke-width="0.9"/>
<line x1="70.40" y1="618.20" x2="76.20" y2="618.20" stroke="#111" stroke-width="0.9"/>
<line x1="73.30" y1="615.80" x2="73.30" y2="620.00" stroke="#111" stroke-width="0.9"/>
<line x1="70.40" y1="615.80" x2="76.20" y2="615.80" stroke="#111" stroke-width="0.9"/>
<line x1="70.40" y1="620.00" x2="76.20" y2="620.00" stroke="#111" stroke-width="0.9"/>
<line x1="101.30" y1="610.20" x2="101.30" y2="614.20" stroke="#111" stroke-width="0.9"/>
<line x1="98.40" y1="610.20" x2="104.20" y2="610.20" stroke="#111" stroke-width="0.9"/>
<line x1="98.40" y1="614.20" x2="104.20" y2="614.20" stroke="#111" stroke-width="0.9"/>
<line x1="129.20" y1="541.20" x2="129.20" y2="549.60" stroke="#111" stroke-width="0.9"/>
<line x1="126.30" y1="541.20" x2="132.10" y2="541.20" stroke="#111" stroke-width="0.9"/>
<line x1="126.30" y1="549.60" x2="132.10" y2="549.60" stroke="#111" stroke-width="0.9"/>
<line x1="129.20" y1="548.00" x2="129.20" y2="556.00" stroke="#111" stroke-width="0.9"/>
<line x1="126.30" y1="548.00" x2="132.10" y2="548.00" stroke="#111" stroke-width="0.9"/>
<line x1="126.30" y1="556.00" x2="132.10" y2="556.00" stroke="#111" stroke-width="0.9"/>
<line x1="157.50" y1="523.20" x2="157.50" y2="533.80" stroke="#111" stroke-width="0.9"/>
<line x1="154.40" y1="523.20" x2="160.60" y2="523.20" stroke="#111" stroke-width="0.9"/>
<line x1="154.40" y1="533.80" x2="160.60" y2="533.80" stroke="#111" stroke-width="0.9"/>
<line x1="157.50" y1="529.60" x2="157.50" y2="541.80" stroke="#111" stroke-width="0.9"/>
<line x1="154.40" y1="529.60" x2="160.60" y2="529.60" stroke="#111" stroke-width="0.9"/>
<line x1="154.40" y1="541.80" x2="160.60" y2="541.80" stroke="#111" stroke-width="0.9"/>
<line x1="186.20" y1="520.80" x2="186.20" y2="543.00" stroke="#111" stroke-width="0.9"/>
<line x1="183.10" y1="520.80" x2="189.30" y2="520.80" stroke="#111" stroke-width="0.9"/>
<line x1="183.10" y1="543.00" x2="189.30" y2="543.00" stroke="#111" stroke-width="0.9"/>
<line x1="213.80" y1="519.80" x2="213.80" y2="527.80" stroke="#111" stroke-width="0.9"/>
<line x1="210.70" y1="519.80" x2="216.90" y2="519.80" stroke="#111" stroke-width="0.9"/>
<line x1="210.70" y1="527.80" x2="216.90" y2="527.80" stroke="#111" stroke-width="0.9"/>
<line x1="213.80" y1="527.80" x2="213.80" y2="531.20" stroke="#111" stroke-width="0.9"/>
<line x1="210.70" y1="527.80" x2="216.90" y2="527.80" stroke="#111" stroke-width="0.9"/>
<line x1="210.70" y1="531.20" x2="216.90" y2="531.20" stroke="#111" stroke-width="0.9"/>
<polygon points="71.00,617.80 73.30,615.50 75.60,617.80 73.30,620.10" fill="#666" stroke="#111" stroke-width="1.0"/>
<polygon points="99.00,612.40 101.30,610.10 103.60,612.40 101.30,614.70" fill="#666" stroke="#111" stroke-width="1.0"/>
<polygon points="126.90,551.50 129.20,549.20 131.50,551.50 129.20,553.80" fill="#666" stroke="#111" stroke-width="1.0"/>
<polygon points="155.20,534.60 157.50,532.30 159.80,534.60 157.50,536.90" fill="#666" stroke="#111" stroke-width="1.0"/>
<polygon points="183.90,532.20 186.20,529.90 188.50,532.20 186.20,534.50" fill="#666" stroke="#111" stroke-width="1.0"/>
<polygon points="211.50,529.40 213.80,527.10 216.10,529.40 213.80,531.70" fill="#666" stroke="#111" stroke-width="1.0"/>
<polygon points="70.70,615.80 73.30,613.20 75.90,615.80 73.30,618.40" fill="#111" stroke="#111" stroke-width="0.5"/>
<polygon points="98.70,612.00 101.30,609.40 103.90,612.00 101.30,614.60" fill="#111" stroke="#111" stroke-width="0.5"/>
<polygon points="126.60,545.40 129.20,542.80 131.80,545.40 129.20,548.00" fill="#111" stroke="#111" stroke-width="0.5"/>
<polygon points="154.90,528.50 157.50,525.90 160.10,528.50 157.50,531.10" fill="#111" stroke="#111" stroke-width="0.5"/>
<polygon points="183.60,529.60 186.20,527.00 188.80,529.60 186.20,532.20" fill="#111" stroke="#111" stroke-width="0.5"/>
<polygon points="211.20,523.80 213.80,521.20 216.40,523.80 213.80,526.40" fill="#111" stroke="#111" stroke-width="0.5"/>
<text x="57.40" y="639.12" text-anchor="middle" font-family="Liberation Sans" font-size="7.6" fill="#111" stroke="#111" stroke-width="0.12">0,01</text>
<text x="112.50" y="639.12" text-anchor="middle" font-family="Liberation Sans" font-size="7.6" fill="#111" stroke="#111" stroke-width="0.12">1</text>
<text x="168.80" y="639.12" text-anchor="middle" font-family="Liberation Sans" font-size="7.6" fill="#111" stroke="#111" stroke-width="0.12">100</text>
<text x="223.20" y="639.12" text-anchor="middle" font-family="Liberation Sans" font-size="7.6" fill="#111" stroke="#111" stroke-width="0.12">1000</text>
<line x1="163.00" y1="556.20" x2="181.50" y2="556.20" stroke="#1a1a1a" stroke-width="0.95"/>
<polygon points="169.80,556.20 172.20,553.80 174.60,556.20 172.20,558.60" fill="#111" stroke="#111" stroke-width="0.5"/>
<line x1="163.00" y1="570.70" x2="181.50" y2="570.70" stroke="#1a1a1a" stroke-width="0.95"/>
<polygon points="170.30,570.70 172.20,568.80 174.10,570.70 172.20,572.60" fill="#999" stroke="#111" stroke-width="0.8"/>
<text x="185.30" y="558.82" textLength="35.6" lengthAdjust="spacingAndGlyphs" font-family="Liberation Sans" font-size="7.6" fill="#000" stroke="#000" stroke-width="0.18">control DC</text>
<text x="185.30" y="573.32" textLength="30" lengthAdjust="spacingAndGlyphs" font-family="Liberation Sans" font-size="7.6" fill="#000" stroke="#000" stroke-width="0.18">DC + DPI</text>
<text transform="translate(23.76,567.60) rotate(-90)" text-anchor="middle" textLength="72" lengthAdjust="spacingAndGlyphs" font-family="Liberation Serif" font-size="12.6" fill="#000" stroke="#000" stroke-width="0.3">γ-IFN (pg/mL)</text>
<text x="62.00" y="660.09" textLength="161.6" lengthAdjust="spacingAndGlyphs" font-family="Liberation Serif" font-size="13" fill="#111">short  peptide concentration (uM)</text>
<line x1="259.20" y1="513.80" x2="259.20" y2="624.00" stroke="#d4d4d4" stroke-width="1"/>
<line x1="259.20" y1="624.00" x2="464.60" y2="624.00" stroke="#cacaca" stroke-width="1"/>
<text x="252.60" y="626.92" text-anchor="end" font-family="Liberation Sans" font-size="7.6" fill="#111" stroke="#111" stroke-width="0.12">0</text>
<text x="252.60" y="602.32" text-anchor="end" font-family="Liberation Sans" font-size="7.6" fill="#111" stroke="#111" stroke-width="0.12">200</text>
<text x="252.60" y="577.72" text-anchor="end" font-family="Liberation Sans" font-size="7.6" fill="#111" stroke="#111" stroke-width="0.12">400</text>
<text x="252.60" y="553.12" text-anchor="end" font-family="Liberation Sans" font-size="7.6" fill="#111" stroke="#111" stroke-width="0.12">600</text>
<text x="252.60" y="528.52" text-anchor="end" font-family="Liberation Sans" font-size="7.6" fill="#111" stroke="#111" stroke-width="0.12">800</text>
<line x1="293.65" y1="624.00" x2="293.65" y2="626.00" stroke="#c4c4c4" stroke-width="0.8"/>
<line x1="327.80" y1="624.00" x2="327.80" y2="626.00" stroke="#c4c4c4" stroke-width="0.8"/>
<line x1="361.95" y1="624.00" x2="361.95" y2="626.00" stroke="#c4c4c4" stroke-width="0.8"/>
<line x1="396.10" y1="624.00" x2="396.10" y2="626.00" stroke="#c4c4c4" stroke-width="0.8"/>
<line x1="430.25" y1="624.00" x2="430.25" y2="626.00" stroke="#c4c4c4" stroke-width="0.8"/>
<line x1="464.40" y1="624.00" x2="464.40" y2="626.00" stroke="#c4c4c4" stroke-width="0.8"/>
<path d="M266.8 602C269.5 597.5 274 591.2 280 587C292 579.6 311 573.2 328.1 568C372 555.6 420 545.6 464.6 536" fill="none" stroke="#111" stroke-width="1.05"/>
<path d="M266.8 617.6C271 616.9 275.5 616 280 614.5C295 609.6 312 604.2 328.1 601.2C372 594 420 591.6 464.6 590.2" fill="none" stroke="#111" stroke-width="1.05"/>
<line x1="266.80" y1="587.00" x2="266.80" y2="616.40" stroke="#111" stroke-width="0.9"/>
<line x1="263.70" y1="587.00" x2="269.90" y2="587.00" stroke="#111" stroke-width="0.9"/>
<line x1="263.70" y1="616.40" x2="269.90" y2="616.40" stroke="#111" stroke-width="0.9"/>
<line x1="266.80" y1="610.50" x2="266.80" y2="625.50" stroke="#111" stroke-width="0.9"/>
<line x1="263.70" y1="610.50" x2="269.90" y2="610.50" stroke="#111" stroke-width="0.9"/>
<line x1="263.70" y1="625.50" x2="269.90" y2="625.50" stroke="#111" stroke-width="0.9"/>
<line x1="280.00" y1="576.40" x2="280.00" y2="597.20" stroke="#111" stroke-width="0.9"/>
<line x1="276.90" y1="576.40" x2="283.10" y2="576.40" stroke="#111" stroke-width="0.9"/>
<line x1="276.90" y1="597.20" x2="283.10" y2="597.20" stroke="#111" stroke-width="0.9"/>
<line x1="280.00" y1="606.20" x2="280.00" y2="620.80" stroke="#111" stroke-width="0.9"/>
<line x1="276.90" y1="606.20" x2="283.10" y2="606.20" stroke="#111" stroke-width="0.9"/>
<line x1="276.90" y1="620.80" x2="283.10" y2="620.80" stroke="#111" stroke-width="0.9"/>
<line x1="328.10" y1="556.20" x2="328.10" y2="579.40" stroke="#111" stroke-width="0.9"/>
<line x1="325.00" y1="556.20" x2="331.20" y2="556.20" stroke="#111" stroke-width="0.9"/>
<line x1="325.00" y1="579.40" x2="331.20" y2="579.40" stroke="#111" stroke-width="0.9"/>
<line x1="328.10" y1="592.80" x2="328.10" y2="609.30" stroke="#111" stroke-width="0.9"/>
<line x1="325.00" y1="592.80" x2="331.20" y2="592.80" stroke="#111" stroke-width="0.9"/>
<line x1="325.00" y1="609.30" x2="331.20" y2="609.30" stroke="#111" stroke-width="0.9"/>
<line x1="464.60" y1="517.20" x2="464.60" y2="553.80" stroke="#111" stroke-width="0.9"/>
<line x1="461.90" y1="517.20" x2="467.30" y2="517.20" stroke="#111" stroke-width="0.9"/>
<line x1="461.90" y1="553.80" x2="467.30" y2="553.80" stroke="#111" stroke-width="0.9"/>
<line x1="464.60" y1="583.70" x2="464.60" y2="596.00" stroke="#111" stroke-width="0.9"/>
<line x1="461.50" y1="583.70" x2="467.70" y2="583.70" stroke="#111" stroke-width="0.9"/>
<line x1="461.50" y1="596.00" x2="467.70" y2="596.00" stroke="#111" stroke-width="0.9"/>
<polygon points="264.20,602.00 266.80,599.40 269.40,602.00 266.80,604.60" fill="#111" stroke="#111" stroke-width="0.5"/>
<polygon points="277.40,587.00 280.00,584.40 282.60,587.00 280.00,589.60" fill="#111" stroke="#111" stroke-width="0.5"/>
<polygon points="325.50,568.00 328.10,565.40 330.70,568.00 328.10,570.60" fill="#111" stroke="#111" stroke-width="0.5"/>
<polygon points="462.00,536.00 464.60,533.40 467.20,536.00 464.60,538.60" fill="#111" stroke="#111" stroke-width="0.5"/>
<polygon points="264.50,617.60 266.80,615.30 269.10,617.60 266.80,619.90" fill="#ddd" stroke="#111" stroke-width="1.0"/>
<polygon points="277.70,614.50 280.00,612.20 282.30,614.50 280.00,616.80" fill="#666" stroke="#111" stroke-width="1.0"/>
<polygon points="325.80,601.20 328.10,598.90 330.40,601.20 328.10,603.50" fill="#555" stroke="#111" stroke-width="1.0"/>
<polygon points="462.30,590.20 464.60,587.90 466.90,590.20 464.60,592.50" fill="#ccc" stroke="#111" stroke-width="1.0"/>
<polygon points="281.20,568.60 281.99,570.71 284.24,570.81 282.48,572.22 283.08,574.39 281.20,573.14 279.32,574.39 279.92,572.22 278.16,570.81 280.41,570.71" fill="#111"/>
<polygon points="328.00,548.20 328.79,550.31 331.04,550.41 329.28,551.82 329.88,553.99 328.00,552.74 326.12,553.99 326.72,551.82 324.96,550.41 327.21,550.31" fill="#111"/>
<polygon points="460.50,509.00 461.27,511.05 463.45,511.14 461.74,512.50 462.32,514.61 460.50,513.40 458.68,514.61 459.26,512.50 457.55,511.14 459.73,511.05" fill="#111"/>
<polygon points="468.20,509.00 468.97,511.05 471.15,511.14 469.44,512.50 470.02,514.61 468.20,513.40 466.38,514.61 466.96,512.50 465.25,511.14 467.43,511.05" fill="#111"/>
<text x="260.00" y="638.72" text-anchor="middle" font-family="Liberation Sans" font-size="7.6" fill="#111" stroke="#111" stroke-width="0.12">0</text>
<text x="294.20" y="638.72" text-anchor="middle" font-family="Liberation Sans" font-size="7.6" fill="#111" stroke="#111" stroke-width="0.12">5000</text>
<text x="328.40" y="638.72" text-anchor="middle" font-family="Liberation Sans" font-size="7.6" fill="#111" stroke="#111" stroke-width="0.12">10000</text>
<text x="362.60" y="638.72" text-anchor="middle" font-family="Liberation Sans" font-size="7.6" fill="#111" stroke="#111" stroke-width="0.12">15000</text>
<text x="396.80" y="638.72" text-anchor="middle" font-family="Liberation Sans" font-size="7.6" fill="#111" stroke="#111" stroke-width="0.12">20000</text>
<text x="431.00" y="638.72" text-anchor="middle" font-family="Liberation Sans" font-size="7.6" fill="#111" stroke="#111" stroke-width="0.12">25000</text>
<text x="465.20" y="638.72" text-anchor="middle" font-family="Liberation Sans" font-size="7.6" fill="#111" stroke="#111" stroke-width="0.12">30000</text>
<line x1="338.20" y1="519.50" x2="357.00" y2="519.50" stroke="#1a1a1a" stroke-width="1.0"/>
<polygon points="345.10,519.50 347.60,517.00 350.10,519.50 347.60,522.00" fill="#111" stroke="#111" stroke-width="0.5"/>
<line x1="338.20" y1="534.80" x2="357.00" y2="534.80" stroke="#1a1a1a" stroke-width="1.0"/>
<polygon points="345.60,534.80 347.60,532.80 349.60,534.80 347.60,536.80" fill="#bbb" stroke="#111" stroke-width="0.9"/>
<text x="360.20" y="522.29" textLength="37.4" lengthAdjust="spacingAndGlyphs" font-family="Liberation Sans" font-size="7.8" fill="#000" stroke="#000" stroke-width="0.18">control DC</text>
<text x="360.20" y="537.59" textLength="31" lengthAdjust="spacingAndGlyphs" font-family="Liberation Sans" font-size="7.8" fill="#000" stroke="#000" stroke-width="0.18">DC + DPI</text>
<text x="308.00" y="658.49" textLength="109" lengthAdjust="spacingAndGlyphs" font-family="Liberation Serif" font-size="13" fill="#111">apoptotic cells number</text>
</svg>
</body></html>
